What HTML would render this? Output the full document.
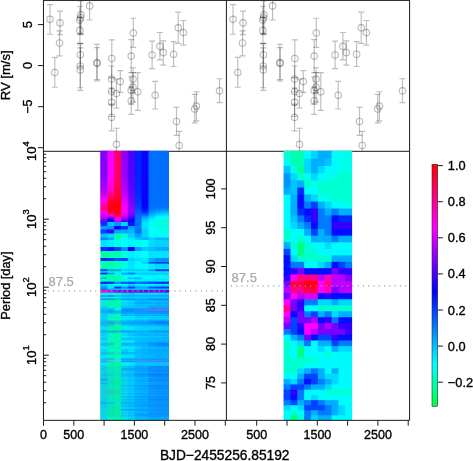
<!DOCTYPE html>
<html><head><meta charset="utf-8"><title>plot</title>
<style>html,body{margin:0;padding:0;background:#fff}svg{display:block}text{font-family:"Liberation Sans",Arial,Helvetica,sans-serif;stroke:#000;stroke-width:.35px}text.g{stroke:#a9a9a9;stroke-width:.25px}</style>
</head><body>
<svg width="473" height="461" viewBox="0 0 473 461">
<rect width="473" height="461" fill="#fff"/>
<defs><linearGradient id="cb" x1="0" y1="0" x2="0" y2="1"><stop offset="0.0000" stop-color="#ff0000"/><stop offset="0.0439" stop-color="#ff002b"/><stop offset="0.0877" stop-color="#ff0055"/><stop offset="0.1316" stop-color="#ff0080"/><stop offset="0.1755" stop-color="#ff00aa"/><stop offset="0.2194" stop-color="#ff00d4"/><stop offset="0.2632" stop-color="#ff00ff"/><stop offset="0.3073" stop-color="#d500ff"/><stop offset="0.3514" stop-color="#aa00ff"/><stop offset="0.3955" stop-color="#8000ff"/><stop offset="0.4395" stop-color="#5500ff"/><stop offset="0.4836" stop-color="#2a00ff"/><stop offset="0.5277" stop-color="#0000ff"/><stop offset="0.5773" stop-color="#002bff"/><stop offset="0.6269" stop-color="#0055ff"/><stop offset="0.6764" stop-color="#0080ff"/><stop offset="0.7260" stop-color="#00aaff"/><stop offset="0.7756" stop-color="#00d4ff"/><stop offset="0.8252" stop-color="#00ffff"/><stop offset="0.8543" stop-color="#00ffdf"/><stop offset="0.8835" stop-color="#00ffbf"/><stop offset="0.9126" stop-color="#00ff9f"/><stop offset="0.9417" stop-color="#00ff80"/><stop offset="0.9709" stop-color="#00ff60"/><stop offset="1" stop-color="#00ff40"/></linearGradient><clipPath id="cpL"><rect x="43.5" y="0.5" width="182.9" height="150.8"/></clipPath><clipPath id="cpR"><rect x="226.4" y="0.5" width="183.2" height="150.8"/></clipPath></defs>
<path d="M43.46 151.30H409.60" stroke="#1a1a1a" stroke-width="1" fill="none"/>
<rect x="283.60" y="150.80" width="7.85" height="8.89" fill="#00ffd0"/>
<rect x="290.45" y="150.80" width="7.85" height="8.89" fill="#00ffb3"/>
<rect x="297.30" y="150.80" width="7.85" height="8.89" fill="#00ffb3"/>
<rect x="304.15" y="150.80" width="7.85" height="8.89" fill="#00fbff"/>
<rect x="311.00" y="150.80" width="7.85" height="8.89" fill="#00d9ff"/>
<rect x="317.85" y="150.80" width="7.85" height="8.89" fill="#00aeff"/>
<rect x="324.70" y="150.80" width="7.85" height="8.89" fill="#00aeff"/>
<rect x="331.55" y="150.80" width="7.85" height="8.89" fill="#00fbff"/>
<rect x="338.40" y="150.80" width="7.85" height="8.89" fill="#00ffea"/>
<rect x="345.25" y="150.80" width="6.85" height="8.89" fill="#00ffea"/>
<rect x="283.60" y="158.69" width="7.85" height="8.32" fill="#00fbff"/>
<rect x="290.45" y="158.69" width="7.85" height="8.32" fill="#00ffb3"/>
<rect x="297.30" y="158.69" width="7.85" height="8.32" fill="#00ffb3"/>
<rect x="304.15" y="158.69" width="7.85" height="8.32" fill="#00d9ff"/>
<rect x="311.00" y="158.69" width="7.85" height="8.32" fill="#00aeff"/>
<rect x="317.85" y="158.69" width="7.85" height="8.32" fill="#00aeff"/>
<rect x="324.70" y="158.69" width="7.85" height="8.32" fill="#00c3ff"/>
<rect x="331.55" y="158.69" width="7.85" height="8.32" fill="#00fbff"/>
<rect x="338.40" y="158.69" width="7.85" height="8.32" fill="#00ffea"/>
<rect x="345.25" y="158.69" width="6.85" height="8.32" fill="#00ffea"/>
<rect x="283.60" y="166.01" width="7.85" height="8.26" fill="#00c3ff"/>
<rect x="290.45" y="166.01" width="7.85" height="8.26" fill="#00ffea"/>
<rect x="297.30" y="166.01" width="7.85" height="8.26" fill="#00ff99"/>
<rect x="304.15" y="166.01" width="7.85" height="8.26" fill="#00d9ff"/>
<rect x="311.00" y="166.01" width="7.85" height="8.26" fill="#00aeff"/>
<rect x="317.85" y="166.01" width="7.85" height="8.26" fill="#00d9ff"/>
<rect x="324.70" y="166.01" width="7.85" height="8.26" fill="#00fbff"/>
<rect x="331.55" y="166.01" width="7.85" height="8.26" fill="#00fbff"/>
<rect x="338.40" y="166.01" width="7.85" height="8.26" fill="#00ffea"/>
<rect x="345.25" y="166.01" width="6.85" height="8.26" fill="#00ffea"/>
<rect x="283.60" y="173.27" width="7.85" height="8.19" fill="#0095ff"/>
<rect x="290.45" y="173.27" width="7.85" height="8.19" fill="#00d9ff"/>
<rect x="297.30" y="173.27" width="7.85" height="8.19" fill="#00ffd0"/>
<rect x="304.15" y="173.27" width="7.85" height="8.19" fill="#00ffea"/>
<rect x="311.00" y="173.27" width="7.85" height="8.19" fill="#00d9ff"/>
<rect x="317.85" y="173.27" width="7.85" height="8.19" fill="#00fbff"/>
<rect x="324.70" y="173.27" width="7.85" height="8.19" fill="#00ffea"/>
<rect x="331.55" y="173.27" width="7.85" height="8.19" fill="#00ffea"/>
<rect x="338.40" y="173.27" width="7.85" height="8.19" fill="#00ffd0"/>
<rect x="345.25" y="173.27" width="6.85" height="8.19" fill="#00ffd0"/>
<rect x="283.60" y="180.46" width="7.85" height="8.13" fill="#0095ff"/>
<rect x="290.45" y="180.46" width="7.85" height="8.13" fill="#00c3ff"/>
<rect x="297.30" y="180.46" width="7.85" height="8.13" fill="#00aeff"/>
<rect x="304.15" y="180.46" width="7.85" height="8.13" fill="#00ffd0"/>
<rect x="311.00" y="180.46" width="7.85" height="8.13" fill="#00ffea"/>
<rect x="317.85" y="180.46" width="7.85" height="8.13" fill="#00ffd0"/>
<rect x="324.70" y="180.46" width="7.85" height="8.13" fill="#00ffd0"/>
<rect x="331.55" y="180.46" width="7.85" height="8.13" fill="#00ffd0"/>
<rect x="338.40" y="180.46" width="7.85" height="8.13" fill="#00ffd0"/>
<rect x="345.25" y="180.46" width="6.85" height="8.13" fill="#00ffd0"/>
<rect x="283.60" y="187.59" width="7.85" height="8.06" fill="#00aeff"/>
<rect x="290.45" y="187.59" width="7.85" height="8.06" fill="#00c3ff"/>
<rect x="297.30" y="187.59" width="7.85" height="8.06" fill="#002bff"/>
<rect x="304.15" y="187.59" width="7.85" height="8.06" fill="#00fbff"/>
<rect x="311.00" y="187.59" width="7.85" height="8.06" fill="#00fbff"/>
<rect x="317.85" y="187.59" width="7.85" height="8.06" fill="#00ffd0"/>
<rect x="324.70" y="187.59" width="7.85" height="8.06" fill="#00ffd0"/>
<rect x="331.55" y="187.59" width="7.85" height="8.06" fill="#00ffd0"/>
<rect x="338.40" y="187.59" width="7.85" height="8.06" fill="#00ffd0"/>
<rect x="345.25" y="187.59" width="6.85" height="8.06" fill="#00ffd0"/>
<rect x="283.60" y="194.65" width="7.85" height="8.00" fill="#00fbff"/>
<rect x="290.45" y="194.65" width="7.85" height="8.00" fill="#00aeff"/>
<rect x="297.30" y="194.65" width="7.85" height="8.00" fill="#000dff"/>
<rect x="304.15" y="194.65" width="7.85" height="8.00" fill="#00aeff"/>
<rect x="311.00" y="194.65" width="7.85" height="8.00" fill="#00d9ff"/>
<rect x="317.85" y="194.65" width="7.85" height="8.00" fill="#00ffea"/>
<rect x="324.70" y="194.65" width="7.85" height="8.00" fill="#00ffea"/>
<rect x="331.55" y="194.65" width="7.85" height="8.00" fill="#00ffd0"/>
<rect x="338.40" y="194.65" width="7.85" height="8.00" fill="#00ffd0"/>
<rect x="345.25" y="194.65" width="6.85" height="8.00" fill="#00ffd0"/>
<rect x="283.60" y="201.65" width="7.85" height="7.93" fill="#00fbff"/>
<rect x="290.45" y="201.65" width="7.85" height="7.93" fill="#00aeff"/>
<rect x="297.30" y="201.65" width="7.85" height="7.93" fill="#000dff"/>
<rect x="304.15" y="201.65" width="7.85" height="7.93" fill="#007bff"/>
<rect x="311.00" y="201.65" width="7.85" height="7.93" fill="#0044ff"/>
<rect x="317.85" y="201.65" width="7.85" height="7.93" fill="#00aeff"/>
<rect x="324.70" y="201.65" width="7.85" height="7.93" fill="#00d9ff"/>
<rect x="331.55" y="201.65" width="7.85" height="7.93" fill="#00fbff"/>
<rect x="338.40" y="201.65" width="7.85" height="7.93" fill="#00fbff"/>
<rect x="345.25" y="201.65" width="6.85" height="7.93" fill="#00ffea"/>
<rect x="283.60" y="208.58" width="7.85" height="7.87" fill="#00fbff"/>
<rect x="290.45" y="208.58" width="7.85" height="7.87" fill="#00aeff"/>
<rect x="297.30" y="208.58" width="7.85" height="7.87" fill="#002bff"/>
<rect x="304.15" y="208.58" width="7.85" height="7.87" fill="#000dff"/>
<rect x="311.00" y="208.58" width="7.85" height="7.87" fill="#3300ff"/>
<rect x="317.85" y="208.58" width="7.85" height="7.87" fill="#007bff"/>
<rect x="324.70" y="208.58" width="7.85" height="7.87" fill="#00aeff"/>
<rect x="331.55" y="208.58" width="7.85" height="7.87" fill="#007bff"/>
<rect x="338.40" y="208.58" width="7.85" height="7.87" fill="#00aeff"/>
<rect x="345.25" y="208.58" width="6.85" height="7.87" fill="#00aeff"/>
<rect x="283.60" y="215.45" width="7.85" height="7.81" fill="#00fbff"/>
<rect x="290.45" y="215.45" width="7.85" height="7.81" fill="#00c3ff"/>
<rect x="297.30" y="215.45" width="7.85" height="7.81" fill="#007bff"/>
<rect x="304.15" y="215.45" width="7.85" height="7.81" fill="#002bff"/>
<rect x="311.00" y="215.45" width="7.85" height="7.81" fill="#3300ff"/>
<rect x="317.85" y="215.45" width="7.85" height="7.81" fill="#007bff"/>
<rect x="324.70" y="215.45" width="7.85" height="7.81" fill="#007bff"/>
<rect x="331.55" y="215.45" width="7.85" height="7.81" fill="#000dff"/>
<rect x="338.40" y="215.45" width="7.85" height="7.81" fill="#002bff"/>
<rect x="345.25" y="215.45" width="6.85" height="7.81" fill="#002bff"/>
<rect x="283.60" y="222.26" width="7.85" height="7.75" fill="#00fbff"/>
<rect x="290.45" y="222.26" width="7.85" height="7.75" fill="#00d9ff"/>
<rect x="297.30" y="222.26" width="7.85" height="7.75" fill="#00aeff"/>
<rect x="304.15" y="222.26" width="7.85" height="7.75" fill="#007bff"/>
<rect x="311.00" y="222.26" width="7.85" height="7.75" fill="#000dff"/>
<rect x="317.85" y="222.26" width="7.85" height="7.75" fill="#007bff"/>
<rect x="324.70" y="222.26" width="7.85" height="7.75" fill="#007bff"/>
<rect x="331.55" y="222.26" width="7.85" height="7.75" fill="#3300ff"/>
<rect x="338.40" y="222.26" width="7.85" height="7.75" fill="#3300ff"/>
<rect x="345.25" y="222.26" width="6.85" height="7.75" fill="#3300ff"/>
<rect x="283.60" y="229.00" width="7.85" height="7.68" fill="#00ffd0"/>
<rect x="290.45" y="229.00" width="7.85" height="7.68" fill="#00fbff"/>
<rect x="297.30" y="229.00" width="7.85" height="7.68" fill="#00fbff"/>
<rect x="304.15" y="229.00" width="7.85" height="7.68" fill="#00aeff"/>
<rect x="311.00" y="229.00" width="7.85" height="7.68" fill="#0044ff"/>
<rect x="317.85" y="229.00" width="7.85" height="7.68" fill="#00aeff"/>
<rect x="324.70" y="229.00" width="7.85" height="7.68" fill="#007bff"/>
<rect x="331.55" y="229.00" width="7.85" height="7.68" fill="#000dff"/>
<rect x="338.40" y="229.00" width="7.85" height="7.68" fill="#000dff"/>
<rect x="345.25" y="229.00" width="6.85" height="7.68" fill="#000dff"/>
<rect x="283.60" y="235.69" width="7.85" height="7.62" fill="#00ffd0"/>
<rect x="290.45" y="235.69" width="7.85" height="7.62" fill="#00fbff"/>
<rect x="297.30" y="235.69" width="7.85" height="7.62" fill="#00ffd0"/>
<rect x="304.15" y="235.69" width="7.85" height="7.62" fill="#00fbff"/>
<rect x="311.00" y="235.69" width="7.85" height="7.62" fill="#00aeff"/>
<rect x="317.85" y="235.69" width="7.85" height="7.62" fill="#00aeff"/>
<rect x="324.70" y="235.69" width="7.85" height="7.62" fill="#00aeff"/>
<rect x="331.55" y="235.69" width="7.85" height="7.62" fill="#007bff"/>
<rect x="338.40" y="235.69" width="7.85" height="7.62" fill="#00aeff"/>
<rect x="345.25" y="235.69" width="6.85" height="7.62" fill="#00aeff"/>
<rect x="283.60" y="242.31" width="7.85" height="7.56" fill="#00aeff"/>
<rect x="290.45" y="242.31" width="7.85" height="7.56" fill="#00ffd0"/>
<rect x="297.30" y="242.31" width="7.85" height="7.56" fill="#00ff80"/>
<rect x="304.15" y="242.31" width="7.85" height="7.56" fill="#00ffd0"/>
<rect x="311.00" y="242.31" width="7.85" height="7.56" fill="#00fbff"/>
<rect x="317.85" y="242.31" width="7.85" height="7.56" fill="#00fbff"/>
<rect x="324.70" y="242.31" width="7.85" height="7.56" fill="#00d9ff"/>
<rect x="331.55" y="242.31" width="7.85" height="7.56" fill="#00fbff"/>
<rect x="338.40" y="242.31" width="7.85" height="7.56" fill="#00fbff"/>
<rect x="345.25" y="242.31" width="6.85" height="7.56" fill="#00fbff"/>
<rect x="283.60" y="248.88" width="7.85" height="7.50" fill="#0044ff"/>
<rect x="290.45" y="248.88" width="7.85" height="7.50" fill="#00fbff"/>
<rect x="297.30" y="248.88" width="7.85" height="7.50" fill="#00ff80"/>
<rect x="304.15" y="248.88" width="7.85" height="7.50" fill="#00ffd0"/>
<rect x="311.00" y="248.88" width="7.85" height="7.50" fill="#00ffd0"/>
<rect x="317.85" y="248.88" width="7.85" height="7.50" fill="#00fbff"/>
<rect x="324.70" y="248.88" width="7.85" height="7.50" fill="#00fbff"/>
<rect x="331.55" y="248.88" width="7.85" height="7.50" fill="#00fbff"/>
<rect x="338.40" y="248.88" width="7.85" height="7.50" fill="#00fbff"/>
<rect x="345.25" y="248.88" width="6.85" height="7.50" fill="#00fbff"/>
<rect x="283.60" y="255.38" width="7.85" height="7.45" fill="#000dff"/>
<rect x="290.45" y="255.38" width="7.85" height="7.45" fill="#00d9ff"/>
<rect x="297.30" y="255.38" width="7.85" height="7.45" fill="#00ffd0"/>
<rect x="304.15" y="255.38" width="7.85" height="7.45" fill="#00ffd0"/>
<rect x="311.00" y="255.38" width="7.85" height="7.45" fill="#00ffd0"/>
<rect x="317.85" y="255.38" width="7.85" height="7.45" fill="#00ffd0"/>
<rect x="324.70" y="255.38" width="7.85" height="7.45" fill="#00ffd0"/>
<rect x="331.55" y="255.38" width="7.85" height="7.45" fill="#00aeff"/>
<rect x="338.40" y="255.38" width="7.85" height="7.45" fill="#00aeff"/>
<rect x="345.25" y="255.38" width="6.85" height="7.45" fill="#00aeff"/>
<rect x="283.60" y="261.83" width="7.85" height="7.39" fill="#000dff"/>
<rect x="290.45" y="261.83" width="7.85" height="7.39" fill="#007bff"/>
<rect x="297.30" y="261.83" width="7.85" height="7.39" fill="#007bff"/>
<rect x="304.15" y="261.83" width="7.85" height="7.39" fill="#00fbff"/>
<rect x="311.00" y="261.83" width="7.85" height="7.39" fill="#00fbff"/>
<rect x="317.85" y="261.83" width="7.85" height="7.39" fill="#00d9ff"/>
<rect x="324.70" y="261.83" width="7.85" height="7.39" fill="#00aeff"/>
<rect x="331.55" y="261.83" width="7.85" height="7.39" fill="#000dff"/>
<rect x="338.40" y="261.83" width="7.85" height="7.39" fill="#0044ff"/>
<rect x="345.25" y="261.83" width="6.85" height="7.39" fill="#007bff"/>
<rect x="283.60" y="268.21" width="7.85" height="7.33" fill="#000dff"/>
<rect x="290.45" y="268.21" width="7.85" height="7.33" fill="#3300ff"/>
<rect x="297.30" y="268.21" width="7.85" height="7.33" fill="#7700ff"/>
<rect x="304.15" y="268.21" width="7.85" height="7.33" fill="#000dff"/>
<rect x="311.00" y="268.21" width="7.85" height="7.33" fill="#000dff"/>
<rect x="317.85" y="268.21" width="7.85" height="7.33" fill="#000dff"/>
<rect x="324.70" y="268.21" width="7.85" height="7.33" fill="#000dff"/>
<rect x="331.55" y="268.21" width="7.85" height="7.33" fill="#7700ff"/>
<rect x="338.40" y="268.21" width="7.85" height="7.33" fill="#3300ff"/>
<rect x="345.25" y="268.21" width="6.85" height="7.33" fill="#3300ff"/>
<rect x="283.60" y="274.54" width="7.85" height="7.27" fill="#3300ff"/>
<rect x="290.45" y="274.54" width="7.85" height="7.27" fill="#ff00ff"/>
<rect x="297.30" y="274.54" width="7.85" height="7.27" fill="#ff0088"/>
<rect x="304.15" y="274.54" width="7.85" height="7.27" fill="#ff0088"/>
<rect x="311.00" y="274.54" width="7.85" height="7.27" fill="#ff0088"/>
<rect x="317.85" y="274.54" width="7.85" height="7.27" fill="#bb00ff"/>
<rect x="324.70" y="274.54" width="7.85" height="7.27" fill="#ff00c3"/>
<rect x="331.55" y="274.54" width="7.85" height="7.27" fill="#bb00ff"/>
<rect x="338.40" y="274.54" width="7.85" height="7.27" fill="#bb00ff"/>
<rect x="345.25" y="274.54" width="6.85" height="7.27" fill="#7700ff"/>
<rect x="283.60" y="280.81" width="7.85" height="7.21" fill="#7700ff"/>
<rect x="290.45" y="280.81" width="7.85" height="7.21" fill="#ff0048"/>
<rect x="297.30" y="280.81" width="7.85" height="7.21" fill="#ff0048"/>
<rect x="304.15" y="280.81" width="7.85" height="7.21" fill="#ff000d"/>
<rect x="311.00" y="280.81" width="7.85" height="7.21" fill="#ff000d"/>
<rect x="317.85" y="280.81" width="7.85" height="7.21" fill="#ff00ff"/>
<rect x="324.70" y="280.81" width="7.85" height="7.21" fill="#ff0088"/>
<rect x="331.55" y="280.81" width="7.85" height="7.21" fill="#bb00ff"/>
<rect x="338.40" y="280.81" width="7.85" height="7.21" fill="#bb00ff"/>
<rect x="345.25" y="280.81" width="6.85" height="7.21" fill="#bb00ff"/>
<rect x="283.60" y="287.03" width="7.85" height="7.16" fill="#bb00ff"/>
<rect x="290.45" y="287.03" width="7.85" height="7.16" fill="#ff0088"/>
<rect x="297.30" y="287.03" width="7.85" height="7.16" fill="#ff0088"/>
<rect x="304.15" y="287.03" width="7.85" height="7.16" fill="#ff0048"/>
<rect x="311.00" y="287.03" width="7.85" height="7.16" fill="#ff0048"/>
<rect x="317.85" y="287.03" width="7.85" height="7.16" fill="#ff00ff"/>
<rect x="324.70" y="287.03" width="7.85" height="7.16" fill="#ff00c3"/>
<rect x="331.55" y="287.03" width="7.85" height="7.16" fill="#7700ff"/>
<rect x="338.40" y="287.03" width="7.85" height="7.16" fill="#bb00ff"/>
<rect x="345.25" y="287.03" width="6.85" height="7.16" fill="#bb00ff"/>
<rect x="283.60" y="293.18" width="7.85" height="7.10" fill="#7700ff"/>
<rect x="290.45" y="293.18" width="7.85" height="7.10" fill="#ff00ff"/>
<rect x="297.30" y="293.18" width="7.85" height="7.10" fill="#bb00ff"/>
<rect x="304.15" y="293.18" width="7.85" height="7.10" fill="#dd00ff"/>
<rect x="311.00" y="293.18" width="7.85" height="7.10" fill="#dd00ff"/>
<rect x="317.85" y="293.18" width="7.85" height="7.10" fill="#000dff"/>
<rect x="324.70" y="293.18" width="7.85" height="7.10" fill="#3300ff"/>
<rect x="331.55" y="293.18" width="7.85" height="7.10" fill="#000dff"/>
<rect x="338.40" y="293.18" width="7.85" height="7.10" fill="#000dff"/>
<rect x="345.25" y="293.18" width="6.85" height="7.10" fill="#000dff"/>
<rect x="283.60" y="299.29" width="7.85" height="7.05" fill="#ff00ff"/>
<rect x="290.45" y="299.29" width="7.85" height="7.05" fill="#7700ff"/>
<rect x="297.30" y="299.29" width="7.85" height="7.05" fill="#3300ff"/>
<rect x="304.15" y="299.29" width="7.85" height="7.05" fill="#007bff"/>
<rect x="311.00" y="299.29" width="7.85" height="7.05" fill="#007bff"/>
<rect x="317.85" y="299.29" width="7.85" height="7.05" fill="#00d9ff"/>
<rect x="324.70" y="299.29" width="7.85" height="7.05" fill="#00d9ff"/>
<rect x="331.55" y="299.29" width="7.85" height="7.05" fill="#00aeff"/>
<rect x="338.40" y="299.29" width="7.85" height="7.05" fill="#00d9ff"/>
<rect x="345.25" y="299.29" width="6.85" height="7.05" fill="#00d9ff"/>
<rect x="283.60" y="305.33" width="7.85" height="6.99" fill="#ff0088"/>
<rect x="290.45" y="305.33" width="7.85" height="6.99" fill="#7700ff"/>
<rect x="297.30" y="305.33" width="7.85" height="6.99" fill="#3300ff"/>
<rect x="304.15" y="305.33" width="7.85" height="6.99" fill="#00fbff"/>
<rect x="311.00" y="305.33" width="7.85" height="6.99" fill="#00fbff"/>
<rect x="317.85" y="305.33" width="7.85" height="6.99" fill="#00ffd0"/>
<rect x="324.70" y="305.33" width="7.85" height="6.99" fill="#00ffd0"/>
<rect x="331.55" y="305.33" width="7.85" height="6.99" fill="#00ffd0"/>
<rect x="338.40" y="305.33" width="7.85" height="6.99" fill="#00ffd0"/>
<rect x="345.25" y="305.33" width="6.85" height="6.99" fill="#00ffd0"/>
<rect x="283.60" y="311.32" width="7.85" height="6.94" fill="#ff00ff"/>
<rect x="290.45" y="311.32" width="7.85" height="6.94" fill="#000dff"/>
<rect x="297.30" y="311.32" width="7.85" height="6.94" fill="#7700ff"/>
<rect x="304.15" y="311.32" width="7.85" height="6.94" fill="#007bff"/>
<rect x="311.00" y="311.32" width="7.85" height="6.94" fill="#0044ff"/>
<rect x="317.85" y="311.32" width="7.85" height="6.94" fill="#00aeff"/>
<rect x="324.70" y="311.32" width="7.85" height="6.94" fill="#007bff"/>
<rect x="331.55" y="311.32" width="7.85" height="6.94" fill="#00d9ff"/>
<rect x="338.40" y="311.32" width="7.85" height="6.94" fill="#00aeff"/>
<rect x="345.25" y="311.32" width="6.85" height="6.94" fill="#00aeff"/>
<rect x="283.60" y="317.26" width="7.85" height="6.88" fill="#bb00ff"/>
<rect x="290.45" y="317.26" width="7.85" height="6.88" fill="#0044ff"/>
<rect x="297.30" y="317.26" width="7.85" height="6.88" fill="#7700ff"/>
<rect x="304.15" y="317.26" width="7.85" height="6.88" fill="#7700ff"/>
<rect x="311.00" y="317.26" width="7.85" height="6.88" fill="#bb00ff"/>
<rect x="317.85" y="317.26" width="7.85" height="6.88" fill="#000dff"/>
<rect x="324.70" y="317.26" width="7.85" height="6.88" fill="#3300ff"/>
<rect x="331.55" y="317.26" width="7.85" height="6.88" fill="#007bff"/>
<rect x="338.40" y="317.26" width="7.85" height="6.88" fill="#000dff"/>
<rect x="345.25" y="317.26" width="6.85" height="6.88" fill="#000dff"/>
<rect x="283.60" y="323.14" width="7.85" height="6.83" fill="#7700ff"/>
<rect x="290.45" y="323.14" width="7.85" height="6.83" fill="#0044ff"/>
<rect x="297.30" y="323.14" width="7.85" height="6.83" fill="#3300ff"/>
<rect x="304.15" y="323.14" width="7.85" height="6.83" fill="#ff00ff"/>
<rect x="311.00" y="323.14" width="7.85" height="6.83" fill="#ff00ff"/>
<rect x="317.85" y="323.14" width="7.85" height="6.83" fill="#7700ff"/>
<rect x="324.70" y="323.14" width="7.85" height="6.83" fill="#bb00ff"/>
<rect x="331.55" y="323.14" width="7.85" height="6.83" fill="#7700ff"/>
<rect x="338.40" y="323.14" width="7.85" height="6.83" fill="#3300ff"/>
<rect x="345.25" y="323.14" width="6.85" height="6.83" fill="#3300ff"/>
<rect x="283.60" y="328.97" width="7.85" height="6.78" fill="#007bff"/>
<rect x="290.45" y="328.97" width="7.85" height="6.78" fill="#0044ff"/>
<rect x="297.30" y="328.97" width="7.85" height="6.78" fill="#000dff"/>
<rect x="304.15" y="328.97" width="7.85" height="6.78" fill="#ff00ff"/>
<rect x="311.00" y="328.97" width="7.85" height="6.78" fill="#bb00ff"/>
<rect x="317.85" y="328.97" width="7.85" height="6.78" fill="#7700ff"/>
<rect x="324.70" y="328.97" width="7.85" height="6.78" fill="#7700ff"/>
<rect x="331.55" y="328.97" width="7.85" height="6.78" fill="#7700ff"/>
<rect x="338.40" y="328.97" width="7.85" height="6.78" fill="#7700ff"/>
<rect x="345.25" y="328.97" width="6.85" height="6.78" fill="#3300ff"/>
<rect x="283.60" y="334.75" width="7.85" height="6.72" fill="#00fbff"/>
<rect x="290.45" y="334.75" width="7.85" height="6.72" fill="#00aeff"/>
<rect x="297.30" y="334.75" width="7.85" height="6.72" fill="#007bff"/>
<rect x="304.15" y="334.75" width="7.85" height="6.72" fill="#7700ff"/>
<rect x="311.00" y="334.75" width="7.85" height="6.72" fill="#000dff"/>
<rect x="317.85" y="334.75" width="7.85" height="6.72" fill="#0044ff"/>
<rect x="324.70" y="334.75" width="7.85" height="6.72" fill="#0044ff"/>
<rect x="331.55" y="334.75" width="7.85" height="6.72" fill="#3300ff"/>
<rect x="338.40" y="334.75" width="7.85" height="6.72" fill="#000dff"/>
<rect x="345.25" y="334.75" width="6.85" height="6.72" fill="#000dff"/>
<rect x="283.60" y="340.48" width="7.85" height="6.67" fill="#00ffd0"/>
<rect x="290.45" y="340.48" width="7.85" height="6.67" fill="#00fbff"/>
<rect x="297.30" y="340.48" width="7.85" height="6.67" fill="#00d9ff"/>
<rect x="304.15" y="340.48" width="7.85" height="6.67" fill="#007bff"/>
<rect x="311.00" y="340.48" width="7.85" height="6.67" fill="#00fbff"/>
<rect x="317.85" y="340.48" width="7.85" height="6.67" fill="#00aeff"/>
<rect x="324.70" y="340.48" width="7.85" height="6.67" fill="#00aeff"/>
<rect x="331.55" y="340.48" width="7.85" height="6.67" fill="#0044ff"/>
<rect x="338.40" y="340.48" width="7.85" height="6.67" fill="#007bff"/>
<rect x="345.25" y="340.48" width="6.85" height="6.67" fill="#007bff"/>
<rect x="283.60" y="346.15" width="7.85" height="6.62" fill="#00ffd0"/>
<rect x="290.45" y="346.15" width="7.85" height="6.62" fill="#00fbff"/>
<rect x="297.30" y="346.15" width="7.85" height="6.62" fill="#00ff80"/>
<rect x="304.15" y="346.15" width="7.85" height="6.62" fill="#00fbff"/>
<rect x="311.00" y="346.15" width="7.85" height="6.62" fill="#00fbff"/>
<rect x="317.85" y="346.15" width="7.85" height="6.62" fill="#00d9ff"/>
<rect x="324.70" y="346.15" width="7.85" height="6.62" fill="#00fbff"/>
<rect x="331.55" y="346.15" width="7.85" height="6.62" fill="#00aeff"/>
<rect x="338.40" y="346.15" width="7.85" height="6.62" fill="#00d9ff"/>
<rect x="345.25" y="346.15" width="6.85" height="6.62" fill="#00d9ff"/>
<rect x="283.60" y="351.77" width="7.85" height="6.57" fill="#00ffd0"/>
<rect x="290.45" y="351.77" width="7.85" height="6.57" fill="#00fbff"/>
<rect x="297.30" y="351.77" width="7.85" height="6.57" fill="#00ff80"/>
<rect x="304.15" y="351.77" width="7.85" height="6.57" fill="#00fbff"/>
<rect x="311.00" y="351.77" width="7.85" height="6.57" fill="#00fbff"/>
<rect x="317.85" y="351.77" width="7.85" height="6.57" fill="#00fbff"/>
<rect x="324.70" y="351.77" width="7.85" height="6.57" fill="#00ffd0"/>
<rect x="331.55" y="351.77" width="7.85" height="6.57" fill="#00fbff"/>
<rect x="338.40" y="351.77" width="7.85" height="6.57" fill="#00fbff"/>
<rect x="345.25" y="351.77" width="6.85" height="6.57" fill="#00fbff"/>
<rect x="283.60" y="357.34" width="7.85" height="6.52" fill="#00ffd0"/>
<rect x="290.45" y="357.34" width="7.85" height="6.52" fill="#00ffd0"/>
<rect x="297.30" y="357.34" width="7.85" height="6.52" fill="#00ffd0"/>
<rect x="304.15" y="357.34" width="7.85" height="6.52" fill="#00ffd0"/>
<rect x="311.00" y="357.34" width="7.85" height="6.52" fill="#00ffd0"/>
<rect x="317.85" y="357.34" width="7.85" height="6.52" fill="#00fbff"/>
<rect x="324.70" y="357.34" width="7.85" height="6.52" fill="#00fbff"/>
<rect x="331.55" y="357.34" width="7.85" height="6.52" fill="#00fbff"/>
<rect x="338.40" y="357.34" width="7.85" height="6.52" fill="#00fbff"/>
<rect x="345.25" y="357.34" width="6.85" height="6.52" fill="#00fbff"/>
<rect x="283.60" y="362.86" width="7.85" height="6.47" fill="#00ffd0"/>
<rect x="290.45" y="362.86" width="7.85" height="6.47" fill="#00ffd0"/>
<rect x="297.30" y="362.86" width="7.85" height="6.47" fill="#00ffd0"/>
<rect x="304.15" y="362.86" width="7.85" height="6.47" fill="#00fbff"/>
<rect x="311.00" y="362.86" width="7.85" height="6.47" fill="#00fbff"/>
<rect x="317.85" y="362.86" width="7.85" height="6.47" fill="#00fbff"/>
<rect x="324.70" y="362.86" width="7.85" height="6.47" fill="#00fbff"/>
<rect x="331.55" y="362.86" width="7.85" height="6.47" fill="#00fbff"/>
<rect x="338.40" y="362.86" width="7.85" height="6.47" fill="#00fbff"/>
<rect x="345.25" y="362.86" width="6.85" height="6.47" fill="#00fbff"/>
<rect x="283.60" y="368.33" width="7.85" height="6.42" fill="#00ffd0"/>
<rect x="290.45" y="368.33" width="7.85" height="6.42" fill="#00ffd0"/>
<rect x="297.30" y="368.33" width="7.85" height="6.42" fill="#00d9ff"/>
<rect x="304.15" y="368.33" width="7.85" height="6.42" fill="#00aeff"/>
<rect x="311.00" y="368.33" width="7.85" height="6.42" fill="#007bff"/>
<rect x="317.85" y="368.33" width="7.85" height="6.42" fill="#00aeff"/>
<rect x="324.70" y="368.33" width="7.85" height="6.42" fill="#00fbff"/>
<rect x="331.55" y="368.33" width="7.85" height="6.42" fill="#00aeff"/>
<rect x="338.40" y="368.33" width="7.85" height="6.42" fill="#00fbff"/>
<rect x="345.25" y="368.33" width="6.85" height="6.42" fill="#00fbff"/>
<rect x="283.60" y="373.75" width="7.85" height="6.37" fill="#00fbff"/>
<rect x="290.45" y="373.75" width="7.85" height="6.37" fill="#00fbff"/>
<rect x="297.30" y="373.75" width="7.85" height="6.37" fill="#00aeff"/>
<rect x="304.15" y="373.75" width="7.85" height="6.37" fill="#0044ff"/>
<rect x="311.00" y="373.75" width="7.85" height="6.37" fill="#0044ff"/>
<rect x="317.85" y="373.75" width="7.85" height="6.37" fill="#00aeff"/>
<rect x="324.70" y="373.75" width="7.85" height="6.37" fill="#00d9ff"/>
<rect x="331.55" y="373.75" width="7.85" height="6.37" fill="#00d9ff"/>
<rect x="338.40" y="373.75" width="7.85" height="6.37" fill="#00fbff"/>
<rect x="345.25" y="373.75" width="6.85" height="6.37" fill="#00fbff"/>
<rect x="283.60" y="379.12" width="7.85" height="6.32" fill="#00aeff"/>
<rect x="290.45" y="379.12" width="7.85" height="6.32" fill="#00d9ff"/>
<rect x="297.30" y="379.12" width="7.85" height="6.32" fill="#007bff"/>
<rect x="304.15" y="379.12" width="7.85" height="6.32" fill="#000dff"/>
<rect x="311.00" y="379.12" width="7.85" height="6.32" fill="#0044ff"/>
<rect x="317.85" y="379.12" width="7.85" height="6.32" fill="#007bff"/>
<rect x="324.70" y="379.12" width="7.85" height="6.32" fill="#00aeff"/>
<rect x="331.55" y="379.12" width="7.85" height="6.32" fill="#00d9ff"/>
<rect x="338.40" y="379.12" width="7.85" height="6.32" fill="#00fbff"/>
<rect x="345.25" y="379.12" width="6.85" height="6.32" fill="#00fbff"/>
<rect x="283.60" y="384.44" width="7.85" height="6.27" fill="#007bff"/>
<rect x="290.45" y="384.44" width="7.85" height="6.27" fill="#0044ff"/>
<rect x="297.30" y="384.44" width="7.85" height="6.27" fill="#0044ff"/>
<rect x="304.15" y="384.44" width="7.85" height="6.27" fill="#007bff"/>
<rect x="311.00" y="384.44" width="7.85" height="6.27" fill="#00aeff"/>
<rect x="317.85" y="384.44" width="7.85" height="6.27" fill="#00aeff"/>
<rect x="324.70" y="384.44" width="7.85" height="6.27" fill="#00d9ff"/>
<rect x="331.55" y="384.44" width="7.85" height="6.27" fill="#00fbff"/>
<rect x="338.40" y="384.44" width="7.85" height="6.27" fill="#00fbff"/>
<rect x="345.25" y="384.44" width="6.85" height="6.27" fill="#00fbff"/>
<rect x="283.60" y="389.71" width="7.85" height="6.23" fill="#0044ff"/>
<rect x="290.45" y="389.71" width="7.85" height="6.23" fill="#3300ff"/>
<rect x="297.30" y="389.71" width="7.85" height="6.23" fill="#007bff"/>
<rect x="304.15" y="389.71" width="7.85" height="6.23" fill="#00fbff"/>
<rect x="311.00" y="389.71" width="7.85" height="6.23" fill="#00fbff"/>
<rect x="317.85" y="389.71" width="7.85" height="6.23" fill="#00fbff"/>
<rect x="324.70" y="389.71" width="7.85" height="6.23" fill="#00ffd0"/>
<rect x="331.55" y="389.71" width="7.85" height="6.23" fill="#00ffd0"/>
<rect x="338.40" y="389.71" width="7.85" height="6.23" fill="#00ffd0"/>
<rect x="345.25" y="389.71" width="6.85" height="6.23" fill="#00ffd0"/>
<rect x="283.60" y="394.94" width="7.85" height="6.18" fill="#0044ff"/>
<rect x="290.45" y="394.94" width="7.85" height="6.18" fill="#000dff"/>
<rect x="297.30" y="394.94" width="7.85" height="6.18" fill="#007bff"/>
<rect x="304.15" y="394.94" width="7.85" height="6.18" fill="#00fbff"/>
<rect x="311.00" y="394.94" width="7.85" height="6.18" fill="#00d9ff"/>
<rect x="317.85" y="394.94" width="7.85" height="6.18" fill="#00fbff"/>
<rect x="324.70" y="394.94" width="7.85" height="6.18" fill="#00fbff"/>
<rect x="331.55" y="394.94" width="7.85" height="6.18" fill="#00fbff"/>
<rect x="338.40" y="394.94" width="7.85" height="6.18" fill="#00fbff"/>
<rect x="345.25" y="394.94" width="6.85" height="6.18" fill="#00fbff"/>
<rect x="283.60" y="400.11" width="7.85" height="6.13" fill="#007bff"/>
<rect x="290.45" y="400.11" width="7.85" height="6.13" fill="#0044ff"/>
<rect x="297.30" y="400.11" width="7.85" height="6.13" fill="#00aeff"/>
<rect x="304.15" y="400.11" width="7.85" height="6.13" fill="#007bff"/>
<rect x="311.00" y="400.11" width="7.85" height="6.13" fill="#0044ff"/>
<rect x="317.85" y="400.11" width="7.85" height="6.13" fill="#007bff"/>
<rect x="324.70" y="400.11" width="7.85" height="6.13" fill="#00aeff"/>
<rect x="331.55" y="400.11" width="7.85" height="6.13" fill="#00aeff"/>
<rect x="338.40" y="400.11" width="7.85" height="6.13" fill="#00fbff"/>
<rect x="345.25" y="400.11" width="6.85" height="6.13" fill="#00fbff"/>
<rect x="283.60" y="405.24" width="7.85" height="6.08" fill="#00d9ff"/>
<rect x="290.45" y="405.24" width="7.85" height="6.08" fill="#00fbff"/>
<rect x="297.30" y="405.24" width="7.85" height="6.08" fill="#00d9ff"/>
<rect x="304.15" y="405.24" width="7.85" height="6.08" fill="#0044ff"/>
<rect x="311.00" y="405.24" width="7.85" height="6.08" fill="#0044ff"/>
<rect x="317.85" y="405.24" width="7.85" height="6.08" fill="#0044ff"/>
<rect x="324.70" y="405.24" width="7.85" height="6.08" fill="#007bff"/>
<rect x="331.55" y="405.24" width="7.85" height="6.08" fill="#00aeff"/>
<rect x="338.40" y="405.24" width="7.85" height="6.08" fill="#00d9ff"/>
<rect x="345.25" y="405.24" width="6.85" height="6.08" fill="#00fbff"/>
<rect x="283.60" y="410.33" width="7.85" height="6.04" fill="#00fbff"/>
<rect x="290.45" y="410.33" width="7.85" height="6.04" fill="#00ffd0"/>
<rect x="297.30" y="410.33" width="7.85" height="6.04" fill="#00fbff"/>
<rect x="304.15" y="410.33" width="7.85" height="6.04" fill="#007bff"/>
<rect x="311.00" y="410.33" width="7.85" height="6.04" fill="#00aeff"/>
<rect x="317.85" y="410.33" width="7.85" height="6.04" fill="#007bff"/>
<rect x="324.70" y="410.33" width="7.85" height="6.04" fill="#007bff"/>
<rect x="331.55" y="410.33" width="7.85" height="6.04" fill="#00aeff"/>
<rect x="338.40" y="410.33" width="7.85" height="6.04" fill="#00d9ff"/>
<rect x="345.25" y="410.33" width="6.85" height="6.04" fill="#00fbff"/>
<rect x="283.60" y="415.36" width="7.85" height="4.99" fill="#00fbff"/>
<rect x="290.45" y="415.36" width="7.85" height="4.99" fill="#00ff80"/>
<rect x="297.30" y="415.36" width="7.85" height="4.99" fill="#00ffd0"/>
<rect x="304.15" y="415.36" width="7.85" height="4.99" fill="#007bff"/>
<rect x="311.00" y="415.36" width="7.85" height="4.99" fill="#00d9ff"/>
<rect x="317.85" y="415.36" width="7.85" height="4.99" fill="#00aeff"/>
<rect x="324.70" y="415.36" width="7.85" height="4.99" fill="#00aeff"/>
<rect x="331.55" y="415.36" width="7.85" height="4.99" fill="#00fbff"/>
<rect x="338.40" y="415.36" width="7.85" height="4.99" fill="#00fbff"/>
<rect x="345.25" y="415.36" width="6.85" height="4.99" fill="#00fbff"/>
<rect x="100.46" y="150.80" width="7.85" height="2.00" fill="#8000ff"/>
<rect x="107.31" y="150.80" width="7.85" height="2.00" fill="#f700ff"/>
<rect x="114.16" y="150.80" width="7.85" height="2.00" fill="#ff005e"/>
<rect x="121.01" y="150.80" width="7.85" height="2.00" fill="#9100ff"/>
<rect x="127.86" y="150.80" width="7.85" height="2.00" fill="#4d00ff"/>
<rect x="134.71" y="150.80" width="7.85" height="2.00" fill="#0022ff"/>
<rect x="141.56" y="150.80" width="7.85" height="2.00" fill="#0d00ff"/>
<rect x="148.41" y="150.80" width="7.85" height="2.00" fill="#006fff"/>
<rect x="155.26" y="150.80" width="7.85" height="2.00" fill="#006fff"/>
<rect x="162.11" y="150.80" width="6.85" height="2.00" fill="#006fff"/>
<rect x="100.46" y="151.80" width="7.85" height="2.00" fill="#8000ff"/>
<rect x="107.31" y="151.80" width="7.85" height="2.00" fill="#f700ff"/>
<rect x="114.16" y="151.80" width="7.85" height="2.00" fill="#ff005e"/>
<rect x="121.01" y="151.80" width="7.85" height="2.00" fill="#9100ff"/>
<rect x="127.86" y="151.80" width="7.85" height="2.00" fill="#4d00ff"/>
<rect x="134.71" y="151.80" width="7.85" height="2.00" fill="#0022ff"/>
<rect x="141.56" y="151.80" width="7.85" height="2.00" fill="#0d00ff"/>
<rect x="148.41" y="151.80" width="7.85" height="2.00" fill="#006fff"/>
<rect x="155.26" y="151.80" width="7.85" height="2.00" fill="#006fff"/>
<rect x="162.11" y="151.80" width="6.85" height="2.00" fill="#006fff"/>
<rect x="100.46" y="152.80" width="7.85" height="2.00" fill="#8000ff"/>
<rect x="107.31" y="152.80" width="7.85" height="2.00" fill="#f700ff"/>
<rect x="114.16" y="152.80" width="7.85" height="2.00" fill="#ff005e"/>
<rect x="121.01" y="152.80" width="7.85" height="2.00" fill="#9100ff"/>
<rect x="127.86" y="152.80" width="7.85" height="2.00" fill="#4d00ff"/>
<rect x="134.71" y="152.80" width="7.85" height="2.00" fill="#0022ff"/>
<rect x="141.56" y="152.80" width="7.85" height="2.00" fill="#0d00ff"/>
<rect x="148.41" y="152.80" width="7.85" height="2.00" fill="#006fff"/>
<rect x="155.26" y="152.80" width="7.85" height="2.00" fill="#006fff"/>
<rect x="162.11" y="152.80" width="6.85" height="2.00" fill="#006fff"/>
<rect x="100.46" y="153.80" width="7.85" height="2.00" fill="#8100ff"/>
<rect x="107.31" y="153.80" width="7.85" height="2.00" fill="#f700ff"/>
<rect x="114.16" y="153.80" width="7.85" height="2.00" fill="#ff005e"/>
<rect x="121.01" y="153.80" width="7.85" height="2.00" fill="#9200ff"/>
<rect x="127.86" y="153.80" width="7.85" height="2.00" fill="#4d00ff"/>
<rect x="134.71" y="153.80" width="7.85" height="2.00" fill="#0022ff"/>
<rect x="141.56" y="153.80" width="7.85" height="2.00" fill="#0d00ff"/>
<rect x="148.41" y="153.80" width="7.85" height="2.00" fill="#006fff"/>
<rect x="155.26" y="153.80" width="7.85" height="2.00" fill="#006fff"/>
<rect x="162.11" y="153.80" width="6.85" height="2.00" fill="#006fff"/>
<rect x="100.46" y="154.80" width="7.85" height="2.00" fill="#8100ff"/>
<rect x="107.31" y="154.80" width="7.85" height="2.00" fill="#f700ff"/>
<rect x="114.16" y="154.80" width="7.85" height="2.00" fill="#ff005e"/>
<rect x="121.01" y="154.80" width="7.85" height="2.00" fill="#9200ff"/>
<rect x="127.86" y="154.80" width="7.85" height="2.00" fill="#4d00ff"/>
<rect x="134.71" y="154.80" width="7.85" height="2.00" fill="#0022ff"/>
<rect x="141.56" y="154.80" width="7.85" height="2.00" fill="#0d00ff"/>
<rect x="148.41" y="154.80" width="7.85" height="2.00" fill="#006fff"/>
<rect x="155.26" y="154.80" width="7.85" height="2.00" fill="#006fff"/>
<rect x="162.11" y="154.80" width="6.85" height="2.00" fill="#006fff"/>
<rect x="100.46" y="155.80" width="7.85" height="2.00" fill="#8100ff"/>
<rect x="107.31" y="155.80" width="7.85" height="2.00" fill="#f700ff"/>
<rect x="114.16" y="155.80" width="7.85" height="2.00" fill="#ff005e"/>
<rect x="121.01" y="155.80" width="7.85" height="2.00" fill="#9200ff"/>
<rect x="127.86" y="155.80" width="7.85" height="2.00" fill="#4d00ff"/>
<rect x="134.71" y="155.80" width="7.85" height="2.00" fill="#0022ff"/>
<rect x="141.56" y="155.80" width="7.85" height="2.00" fill="#0d00ff"/>
<rect x="148.41" y="155.80" width="7.85" height="2.00" fill="#006fff"/>
<rect x="155.26" y="155.80" width="7.85" height="2.00" fill="#006fff"/>
<rect x="162.11" y="155.80" width="6.85" height="2.00" fill="#006fff"/>
<rect x="100.46" y="156.80" width="7.85" height="2.00" fill="#8200ff"/>
<rect x="107.31" y="156.80" width="7.85" height="2.00" fill="#f700ff"/>
<rect x="114.16" y="156.80" width="7.85" height="2.00" fill="#ff005e"/>
<rect x="121.01" y="156.80" width="7.85" height="2.00" fill="#9300ff"/>
<rect x="127.86" y="156.80" width="7.85" height="2.00" fill="#4e00ff"/>
<rect x="134.71" y="156.80" width="7.85" height="2.00" fill="#0022ff"/>
<rect x="141.56" y="156.80" width="7.85" height="2.00" fill="#0d00ff"/>
<rect x="148.41" y="156.80" width="7.85" height="2.00" fill="#006fff"/>
<rect x="155.26" y="156.80" width="7.85" height="2.00" fill="#006fff"/>
<rect x="162.11" y="156.80" width="6.85" height="2.00" fill="#006fff"/>
<rect x="100.46" y="157.80" width="7.85" height="2.00" fill="#8200ff"/>
<rect x="107.31" y="157.80" width="7.85" height="2.00" fill="#f700ff"/>
<rect x="114.16" y="157.80" width="7.85" height="2.00" fill="#ff005e"/>
<rect x="121.01" y="157.80" width="7.85" height="2.00" fill="#9300ff"/>
<rect x="127.86" y="157.80" width="7.85" height="2.00" fill="#4e00ff"/>
<rect x="134.71" y="157.80" width="7.85" height="2.00" fill="#0022ff"/>
<rect x="141.56" y="157.80" width="7.85" height="2.00" fill="#0d00ff"/>
<rect x="148.41" y="157.80" width="7.85" height="2.00" fill="#006fff"/>
<rect x="155.26" y="157.80" width="7.85" height="2.00" fill="#006fff"/>
<rect x="162.11" y="157.80" width="6.85" height="2.00" fill="#006fff"/>
<rect x="100.46" y="158.80" width="7.85" height="2.00" fill="#8200ff"/>
<rect x="107.31" y="158.80" width="7.85" height="2.00" fill="#f700ff"/>
<rect x="114.16" y="158.80" width="7.85" height="2.00" fill="#ff005e"/>
<rect x="121.01" y="158.80" width="7.85" height="2.00" fill="#9300ff"/>
<rect x="127.86" y="158.80" width="7.85" height="2.00" fill="#4e00ff"/>
<rect x="134.71" y="158.80" width="7.85" height="2.00" fill="#0022ff"/>
<rect x="141.56" y="158.80" width="7.85" height="2.00" fill="#0d00ff"/>
<rect x="148.41" y="158.80" width="7.85" height="2.00" fill="#006fff"/>
<rect x="155.26" y="158.80" width="7.85" height="2.00" fill="#006fff"/>
<rect x="162.11" y="158.80" width="6.85" height="2.00" fill="#006fff"/>
<rect x="100.46" y="159.80" width="7.85" height="2.00" fill="#8300ff"/>
<rect x="107.31" y="159.80" width="7.85" height="2.00" fill="#f700ff"/>
<rect x="114.16" y="159.80" width="7.85" height="2.00" fill="#ff005e"/>
<rect x="121.01" y="159.80" width="7.85" height="2.00" fill="#9400ff"/>
<rect x="127.86" y="159.80" width="7.85" height="2.00" fill="#4e00ff"/>
<rect x="134.71" y="159.80" width="7.85" height="2.00" fill="#0022ff"/>
<rect x="141.56" y="159.80" width="7.85" height="2.00" fill="#0d00ff"/>
<rect x="148.41" y="159.80" width="7.85" height="2.00" fill="#006fff"/>
<rect x="155.26" y="159.80" width="7.85" height="2.00" fill="#006fff"/>
<rect x="162.11" y="159.80" width="6.85" height="2.00" fill="#006fff"/>
<rect x="100.46" y="160.80" width="7.85" height="2.00" fill="#8300ff"/>
<rect x="107.31" y="160.80" width="7.85" height="2.00" fill="#f700ff"/>
<rect x="114.16" y="160.80" width="7.85" height="2.00" fill="#ff005e"/>
<rect x="121.01" y="160.80" width="7.85" height="2.00" fill="#9400ff"/>
<rect x="127.86" y="160.80" width="7.85" height="2.00" fill="#4e00ff"/>
<rect x="134.71" y="160.80" width="7.85" height="2.00" fill="#0022ff"/>
<rect x="141.56" y="160.80" width="7.85" height="2.00" fill="#0d00ff"/>
<rect x="148.41" y="160.80" width="7.85" height="2.00" fill="#006fff"/>
<rect x="155.26" y="160.80" width="7.85" height="2.00" fill="#006fff"/>
<rect x="162.11" y="160.80" width="6.85" height="2.00" fill="#006fff"/>
<rect x="100.46" y="161.80" width="7.85" height="2.00" fill="#8400ff"/>
<rect x="107.31" y="161.80" width="7.85" height="2.00" fill="#f700ff"/>
<rect x="114.16" y="161.80" width="7.85" height="2.00" fill="#ff005e"/>
<rect x="121.01" y="161.80" width="7.85" height="2.00" fill="#9500ff"/>
<rect x="127.86" y="161.80" width="7.85" height="2.00" fill="#4f00ff"/>
<rect x="134.71" y="161.80" width="7.85" height="2.00" fill="#0022ff"/>
<rect x="141.56" y="161.80" width="7.85" height="2.00" fill="#0d00ff"/>
<rect x="148.41" y="161.80" width="7.85" height="2.00" fill="#006fff"/>
<rect x="155.26" y="161.80" width="7.85" height="2.00" fill="#006fff"/>
<rect x="162.11" y="161.80" width="6.85" height="2.00" fill="#006fff"/>
<rect x="100.46" y="162.80" width="7.85" height="2.00" fill="#8400ff"/>
<rect x="107.31" y="162.80" width="7.85" height="2.00" fill="#f700ff"/>
<rect x="114.16" y="162.80" width="7.85" height="2.00" fill="#ff005e"/>
<rect x="121.01" y="162.80" width="7.85" height="2.00" fill="#9500ff"/>
<rect x="127.86" y="162.80" width="7.85" height="2.00" fill="#4f00ff"/>
<rect x="134.71" y="162.80" width="7.85" height="2.00" fill="#0022ff"/>
<rect x="141.56" y="162.80" width="7.85" height="2.00" fill="#0d00ff"/>
<rect x="148.41" y="162.80" width="7.85" height="2.00" fill="#006fff"/>
<rect x="155.26" y="162.80" width="7.85" height="2.00" fill="#006fff"/>
<rect x="162.11" y="162.80" width="6.85" height="2.00" fill="#006fff"/>
<rect x="100.46" y="163.80" width="7.85" height="2.00" fill="#8400ff"/>
<rect x="107.31" y="163.80" width="7.85" height="2.00" fill="#f700ff"/>
<rect x="114.16" y="163.80" width="7.85" height="2.00" fill="#ff005e"/>
<rect x="121.01" y="163.80" width="7.85" height="2.00" fill="#9500ff"/>
<rect x="127.86" y="163.80" width="7.85" height="2.00" fill="#4f00ff"/>
<rect x="134.71" y="163.80" width="7.85" height="2.00" fill="#0022ff"/>
<rect x="141.56" y="163.80" width="7.85" height="2.00" fill="#0d00ff"/>
<rect x="148.41" y="163.80" width="7.85" height="2.00" fill="#006fff"/>
<rect x="155.26" y="163.80" width="7.85" height="2.00" fill="#006fff"/>
<rect x="162.11" y="163.80" width="6.85" height="2.00" fill="#006fff"/>
<rect x="100.46" y="164.80" width="7.85" height="2.00" fill="#8500ff"/>
<rect x="107.31" y="164.80" width="7.85" height="2.00" fill="#f700ff"/>
<rect x="114.16" y="164.80" width="7.85" height="2.00" fill="#ff005e"/>
<rect x="121.01" y="164.80" width="7.85" height="2.00" fill="#9600ff"/>
<rect x="127.86" y="164.80" width="7.85" height="2.00" fill="#4f00ff"/>
<rect x="134.71" y="164.80" width="7.85" height="2.00" fill="#0022ff"/>
<rect x="141.56" y="164.80" width="7.85" height="2.00" fill="#0d00ff"/>
<rect x="148.41" y="164.80" width="7.85" height="2.00" fill="#006fff"/>
<rect x="155.26" y="164.80" width="7.85" height="2.00" fill="#006fff"/>
<rect x="162.11" y="164.80" width="6.85" height="2.00" fill="#006fff"/>
<rect x="100.46" y="165.80" width="7.85" height="2.00" fill="#8500ff"/>
<rect x="107.31" y="165.80" width="7.85" height="2.00" fill="#f700ff"/>
<rect x="114.16" y="165.80" width="7.85" height="2.00" fill="#ff005e"/>
<rect x="121.01" y="165.80" width="7.85" height="2.00" fill="#9600ff"/>
<rect x="127.86" y="165.80" width="7.85" height="2.00" fill="#4f00ff"/>
<rect x="134.71" y="165.80" width="7.85" height="2.00" fill="#0022ff"/>
<rect x="141.56" y="165.80" width="7.85" height="2.00" fill="#0d00ff"/>
<rect x="148.41" y="165.80" width="7.85" height="2.00" fill="#006fff"/>
<rect x="155.26" y="165.80" width="7.85" height="2.00" fill="#006fff"/>
<rect x="162.11" y="165.80" width="6.85" height="2.00" fill="#006fff"/>
<rect x="100.46" y="166.80" width="7.85" height="2.00" fill="#8500ff"/>
<rect x="107.31" y="166.80" width="7.85" height="2.00" fill="#f700ff"/>
<rect x="114.16" y="166.80" width="7.85" height="2.00" fill="#ff005e"/>
<rect x="121.01" y="166.80" width="7.85" height="2.00" fill="#9600ff"/>
<rect x="127.86" y="166.80" width="7.85" height="2.00" fill="#4f00ff"/>
<rect x="134.71" y="166.80" width="7.85" height="2.00" fill="#0022ff"/>
<rect x="141.56" y="166.80" width="7.85" height="2.00" fill="#0d00ff"/>
<rect x="148.41" y="166.80" width="7.85" height="2.00" fill="#006fff"/>
<rect x="155.26" y="166.80" width="7.85" height="2.00" fill="#006fff"/>
<rect x="162.11" y="166.80" width="6.85" height="2.00" fill="#006fff"/>
<rect x="100.46" y="167.80" width="7.85" height="2.00" fill="#8600ff"/>
<rect x="107.31" y="167.80" width="7.85" height="2.00" fill="#f700ff"/>
<rect x="114.16" y="167.80" width="7.85" height="2.00" fill="#ff005e"/>
<rect x="121.01" y="167.80" width="7.85" height="2.00" fill="#9700ff"/>
<rect x="127.86" y="167.80" width="7.85" height="2.00" fill="#5000ff"/>
<rect x="134.71" y="167.80" width="7.85" height="2.00" fill="#0022ff"/>
<rect x="141.56" y="167.80" width="7.85" height="2.00" fill="#0d00ff"/>
<rect x="148.41" y="167.80" width="7.85" height="2.00" fill="#006fff"/>
<rect x="155.26" y="167.80" width="7.85" height="2.00" fill="#006fff"/>
<rect x="162.11" y="167.80" width="6.85" height="2.00" fill="#006fff"/>
<rect x="100.46" y="168.80" width="7.85" height="2.00" fill="#8600ff"/>
<rect x="107.31" y="168.80" width="7.85" height="2.00" fill="#f700ff"/>
<rect x="114.16" y="168.80" width="7.85" height="2.00" fill="#ff005e"/>
<rect x="121.01" y="168.80" width="7.85" height="2.00" fill="#9700ff"/>
<rect x="127.86" y="168.80" width="7.85" height="2.00" fill="#5000ff"/>
<rect x="134.71" y="168.80" width="7.85" height="2.00" fill="#0022ff"/>
<rect x="141.56" y="168.80" width="7.85" height="2.00" fill="#0d00ff"/>
<rect x="148.41" y="168.80" width="7.85" height="2.00" fill="#006fff"/>
<rect x="155.26" y="168.80" width="7.85" height="2.00" fill="#006fff"/>
<rect x="162.11" y="168.80" width="6.85" height="2.00" fill="#006fff"/>
<rect x="100.46" y="169.80" width="7.85" height="2.00" fill="#8600ff"/>
<rect x="107.31" y="169.80" width="7.85" height="2.00" fill="#f700ff"/>
<rect x="114.16" y="169.80" width="7.85" height="2.00" fill="#ff005e"/>
<rect x="121.01" y="169.80" width="7.85" height="2.00" fill="#9700ff"/>
<rect x="127.86" y="169.80" width="7.85" height="2.00" fill="#5000ff"/>
<rect x="134.71" y="169.80" width="7.85" height="2.00" fill="#0022ff"/>
<rect x="141.56" y="169.80" width="7.85" height="2.00" fill="#0d00ff"/>
<rect x="148.41" y="169.80" width="7.85" height="2.00" fill="#006fff"/>
<rect x="155.26" y="169.80" width="7.85" height="2.00" fill="#006fff"/>
<rect x="162.11" y="169.80" width="6.85" height="2.00" fill="#006fff"/>
<rect x="100.46" y="170.80" width="7.85" height="2.00" fill="#8700ff"/>
<rect x="107.31" y="170.80" width="7.85" height="2.00" fill="#f700ff"/>
<rect x="114.16" y="170.80" width="7.85" height="2.00" fill="#ff005e"/>
<rect x="121.01" y="170.80" width="7.85" height="2.00" fill="#9800ff"/>
<rect x="127.86" y="170.80" width="7.85" height="2.00" fill="#5000ff"/>
<rect x="134.71" y="170.80" width="7.85" height="2.00" fill="#0022ff"/>
<rect x="141.56" y="170.80" width="7.85" height="2.00" fill="#0d00ff"/>
<rect x="148.41" y="170.80" width="7.85" height="2.00" fill="#006fff"/>
<rect x="155.26" y="170.80" width="7.85" height="2.00" fill="#006fff"/>
<rect x="162.11" y="170.80" width="6.85" height="2.00" fill="#006fff"/>
<rect x="100.46" y="171.80" width="7.85" height="2.00" fill="#8700ff"/>
<rect x="107.31" y="171.80" width="7.85" height="2.00" fill="#f700ff"/>
<rect x="114.16" y="171.80" width="7.85" height="2.00" fill="#ff005e"/>
<rect x="121.01" y="171.80" width="7.85" height="2.00" fill="#9800ff"/>
<rect x="127.86" y="171.80" width="7.85" height="2.00" fill="#5000ff"/>
<rect x="134.71" y="171.80" width="7.85" height="2.00" fill="#0022ff"/>
<rect x="141.56" y="171.80" width="7.85" height="2.00" fill="#0d00ff"/>
<rect x="148.41" y="171.80" width="7.85" height="2.00" fill="#006fff"/>
<rect x="155.26" y="171.80" width="7.85" height="2.00" fill="#006fff"/>
<rect x="162.11" y="171.80" width="6.85" height="2.00" fill="#006fff"/>
<rect x="100.46" y="172.80" width="7.85" height="2.00" fill="#8700ff"/>
<rect x="107.31" y="172.80" width="7.85" height="2.00" fill="#f700ff"/>
<rect x="114.16" y="172.80" width="7.85" height="2.00" fill="#ff005e"/>
<rect x="121.01" y="172.80" width="7.85" height="2.00" fill="#9800ff"/>
<rect x="127.86" y="172.80" width="7.85" height="2.00" fill="#5000ff"/>
<rect x="134.71" y="172.80" width="7.85" height="2.00" fill="#0022ff"/>
<rect x="141.56" y="172.80" width="7.85" height="2.00" fill="#0d00ff"/>
<rect x="148.41" y="172.80" width="7.85" height="2.00" fill="#006fff"/>
<rect x="155.26" y="172.80" width="7.85" height="2.00" fill="#006fff"/>
<rect x="162.11" y="172.80" width="6.85" height="2.00" fill="#006fff"/>
<rect x="100.46" y="173.80" width="7.85" height="2.00" fill="#8800ff"/>
<rect x="107.31" y="173.80" width="7.85" height="2.00" fill="#f700ff"/>
<rect x="114.16" y="173.80" width="7.85" height="2.00" fill="#ff005e"/>
<rect x="121.01" y="173.80" width="7.85" height="2.00" fill="#9900ff"/>
<rect x="127.86" y="173.80" width="7.85" height="2.00" fill="#5100ff"/>
<rect x="134.71" y="173.80" width="7.85" height="2.00" fill="#0022ff"/>
<rect x="141.56" y="173.80" width="7.85" height="2.00" fill="#0d00ff"/>
<rect x="148.41" y="173.80" width="7.85" height="2.00" fill="#006fff"/>
<rect x="155.26" y="173.80" width="7.85" height="2.00" fill="#006fff"/>
<rect x="162.11" y="173.80" width="6.85" height="2.00" fill="#006fff"/>
<rect x="100.46" y="174.80" width="7.85" height="2.00" fill="#8900ff"/>
<rect x="107.31" y="174.80" width="7.85" height="2.00" fill="#f800ff"/>
<rect x="114.16" y="174.80" width="7.85" height="2.00" fill="#ff005d"/>
<rect x="121.01" y="174.80" width="7.85" height="2.00" fill="#9a00ff"/>
<rect x="127.86" y="174.80" width="7.85" height="2.00" fill="#5100ff"/>
<rect x="134.71" y="174.80" width="7.85" height="2.00" fill="#0022ff"/>
<rect x="141.56" y="174.80" width="7.85" height="2.00" fill="#0d00ff"/>
<rect x="148.41" y="174.80" width="7.85" height="2.00" fill="#006fff"/>
<rect x="155.26" y="174.80" width="7.85" height="2.00" fill="#006fff"/>
<rect x="162.11" y="174.80" width="6.85" height="2.00" fill="#006fff"/>
<rect x="100.46" y="175.80" width="7.85" height="2.00" fill="#8b00ff"/>
<rect x="107.31" y="175.80" width="7.85" height="2.00" fill="#fc00ff"/>
<rect x="114.16" y="175.80" width="7.85" height="2.00" fill="#ff005c"/>
<rect x="121.01" y="175.80" width="7.85" height="2.00" fill="#9b00ff"/>
<rect x="127.86" y="175.80" width="7.85" height="2.00" fill="#5200ff"/>
<rect x="134.71" y="175.80" width="7.85" height="2.00" fill="#0022ff"/>
<rect x="141.56" y="175.80" width="7.85" height="2.00" fill="#0c00ff"/>
<rect x="148.41" y="175.80" width="7.85" height="2.00" fill="#006fff"/>
<rect x="155.26" y="175.80" width="7.85" height="2.00" fill="#006fff"/>
<rect x="162.11" y="175.80" width="6.85" height="2.00" fill="#006fff"/>
<rect x="100.46" y="176.80" width="7.85" height="2.00" fill="#8d00ff"/>
<rect x="107.31" y="176.80" width="7.85" height="2.00" fill="#ff00fe"/>
<rect x="114.16" y="176.80" width="7.85" height="2.00" fill="#ff005b"/>
<rect x="121.01" y="176.80" width="7.85" height="2.00" fill="#9d00ff"/>
<rect x="127.86" y="176.80" width="7.85" height="2.00" fill="#5300ff"/>
<rect x="134.71" y="176.80" width="7.85" height="2.00" fill="#0023ff"/>
<rect x="141.56" y="176.80" width="7.85" height="2.00" fill="#0c00ff"/>
<rect x="148.41" y="176.80" width="7.85" height="2.00" fill="#006fff"/>
<rect x="155.26" y="176.80" width="7.85" height="2.00" fill="#006fff"/>
<rect x="162.11" y="176.80" width="6.85" height="2.00" fill="#006fff"/>
<rect x="100.46" y="177.80" width="7.85" height="2.00" fill="#8f00ff"/>
<rect x="107.31" y="177.80" width="7.85" height="2.00" fill="#ff00fa"/>
<rect x="114.16" y="177.80" width="7.85" height="2.00" fill="#ff005a"/>
<rect x="121.01" y="177.80" width="7.85" height="2.00" fill="#9f00ff"/>
<rect x="127.86" y="177.80" width="7.85" height="2.00" fill="#5400ff"/>
<rect x="134.71" y="177.80" width="7.85" height="2.00" fill="#0023ff"/>
<rect x="141.56" y="177.80" width="7.85" height="2.00" fill="#0c00ff"/>
<rect x="148.41" y="177.80" width="7.85" height="2.00" fill="#006fff"/>
<rect x="155.26" y="177.80" width="7.85" height="2.00" fill="#006fff"/>
<rect x="162.11" y="177.80" width="6.85" height="2.00" fill="#006fff"/>
<rect x="100.46" y="178.80" width="7.85" height="2.00" fill="#9200ff"/>
<rect x="107.31" y="178.80" width="7.85" height="2.00" fill="#ff00f6"/>
<rect x="114.16" y="178.80" width="7.85" height="2.00" fill="#ff0059"/>
<rect x="121.01" y="178.80" width="7.85" height="2.00" fill="#a000ff"/>
<rect x="127.86" y="178.80" width="7.85" height="2.00" fill="#5400ff"/>
<rect x="134.71" y="178.80" width="7.85" height="2.00" fill="#0023ff"/>
<rect x="141.56" y="178.80" width="7.85" height="2.00" fill="#0c00ff"/>
<rect x="148.41" y="178.80" width="7.85" height="2.00" fill="#006fff"/>
<rect x="155.26" y="178.80" width="7.85" height="2.00" fill="#006fff"/>
<rect x="162.11" y="178.80" width="6.85" height="2.00" fill="#006fff"/>
<rect x="100.46" y="179.80" width="7.85" height="2.00" fill="#9400ff"/>
<rect x="107.31" y="179.80" width="7.85" height="2.00" fill="#ff00f2"/>
<rect x="114.16" y="179.80" width="7.85" height="2.00" fill="#ff0057"/>
<rect x="121.01" y="179.80" width="7.85" height="2.00" fill="#a200ff"/>
<rect x="127.86" y="179.80" width="7.85" height="2.00" fill="#5500ff"/>
<rect x="134.71" y="179.80" width="7.85" height="2.00" fill="#0024ff"/>
<rect x="141.56" y="179.80" width="7.85" height="2.00" fill="#0b00ff"/>
<rect x="148.41" y="179.80" width="7.85" height="2.00" fill="#006fff"/>
<rect x="155.26" y="179.80" width="7.85" height="2.00" fill="#006fff"/>
<rect x="162.11" y="179.80" width="6.85" height="2.00" fill="#006fff"/>
<rect x="100.46" y="180.80" width="7.85" height="2.00" fill="#9600ff"/>
<rect x="107.31" y="180.80" width="7.85" height="2.00" fill="#ff00ef"/>
<rect x="114.16" y="180.80" width="7.85" height="2.00" fill="#ff0056"/>
<rect x="121.01" y="180.80" width="7.85" height="2.00" fill="#a400ff"/>
<rect x="127.86" y="180.80" width="7.85" height="2.00" fill="#5600ff"/>
<rect x="134.71" y="180.80" width="7.85" height="2.00" fill="#0024ff"/>
<rect x="141.56" y="180.80" width="7.85" height="2.00" fill="#0b00ff"/>
<rect x="148.41" y="180.80" width="7.85" height="2.00" fill="#006fff"/>
<rect x="155.26" y="180.80" width="7.85" height="2.00" fill="#006fff"/>
<rect x="162.11" y="180.80" width="6.85" height="2.00" fill="#006fff"/>
<rect x="100.46" y="181.80" width="7.85" height="2.00" fill="#9900ff"/>
<rect x="107.31" y="181.80" width="7.85" height="2.00" fill="#ff00eb"/>
<rect x="114.16" y="181.80" width="7.85" height="2.00" fill="#ff0055"/>
<rect x="121.01" y="181.80" width="7.85" height="2.00" fill="#a500ff"/>
<rect x="127.86" y="181.80" width="7.85" height="2.00" fill="#5700ff"/>
<rect x="134.71" y="181.80" width="7.85" height="2.00" fill="#0024ff"/>
<rect x="141.56" y="181.80" width="7.85" height="2.00" fill="#0b00ff"/>
<rect x="148.41" y="181.80" width="7.85" height="2.00" fill="#006fff"/>
<rect x="155.26" y="181.80" width="7.85" height="2.00" fill="#006fff"/>
<rect x="162.11" y="181.80" width="6.85" height="2.00" fill="#006fff"/>
<rect x="100.46" y="182.80" width="7.85" height="2.00" fill="#9b00ff"/>
<rect x="107.31" y="182.80" width="7.85" height="2.00" fill="#ff00e7"/>
<rect x="114.16" y="182.80" width="7.85" height="2.00" fill="#ff0054"/>
<rect x="121.01" y="182.80" width="7.85" height="2.00" fill="#a700ff"/>
<rect x="127.86" y="182.80" width="7.85" height="2.00" fill="#5800ff"/>
<rect x="134.71" y="182.80" width="7.85" height="2.00" fill="#0024ff"/>
<rect x="141.56" y="182.80" width="7.85" height="2.00" fill="#0a00ff"/>
<rect x="148.41" y="182.80" width="7.85" height="2.00" fill="#006fff"/>
<rect x="155.26" y="182.80" width="7.85" height="2.00" fill="#006fff"/>
<rect x="162.11" y="182.80" width="6.85" height="2.00" fill="#006fff"/>
<rect x="100.46" y="183.80" width="7.85" height="2.00" fill="#9d00ff"/>
<rect x="107.31" y="183.80" width="7.85" height="2.00" fill="#ff00e3"/>
<rect x="114.16" y="183.80" width="7.85" height="2.00" fill="#ff0053"/>
<rect x="121.01" y="183.80" width="7.85" height="2.00" fill="#a900ff"/>
<rect x="127.86" y="183.80" width="7.85" height="2.00" fill="#5900ff"/>
<rect x="134.71" y="183.80" width="7.85" height="2.00" fill="#0025ff"/>
<rect x="141.56" y="183.80" width="7.85" height="2.00" fill="#0a00ff"/>
<rect x="148.41" y="183.80" width="7.85" height="2.00" fill="#006fff"/>
<rect x="155.26" y="183.80" width="7.85" height="2.00" fill="#006fff"/>
<rect x="162.11" y="183.80" width="6.85" height="2.00" fill="#006fff"/>
<rect x="100.46" y="184.80" width="7.85" height="2.00" fill="#9f00ff"/>
<rect x="107.31" y="184.80" width="7.85" height="2.00" fill="#ff00df"/>
<rect x="114.16" y="184.80" width="7.85" height="2.00" fill="#ff0052"/>
<rect x="121.01" y="184.80" width="7.85" height="2.00" fill="#ab00ff"/>
<rect x="127.86" y="184.80" width="7.85" height="2.00" fill="#5a00ff"/>
<rect x="134.71" y="184.80" width="7.85" height="2.00" fill="#0025ff"/>
<rect x="141.56" y="184.80" width="7.85" height="2.00" fill="#0a00ff"/>
<rect x="148.41" y="184.80" width="7.85" height="2.00" fill="#006fff"/>
<rect x="155.26" y="184.80" width="7.85" height="2.00" fill="#006fff"/>
<rect x="162.11" y="184.80" width="6.85" height="2.00" fill="#006fff"/>
<rect x="100.46" y="185.80" width="7.85" height="2.00" fill="#a200ff"/>
<rect x="107.31" y="185.80" width="7.85" height="2.00" fill="#ff00db"/>
<rect x="114.16" y="185.80" width="7.85" height="2.00" fill="#ff0051"/>
<rect x="121.01" y="185.80" width="7.85" height="2.00" fill="#ac00ff"/>
<rect x="127.86" y="185.80" width="7.85" height="2.00" fill="#5a00ff"/>
<rect x="134.71" y="185.80" width="7.85" height="2.00" fill="#0025ff"/>
<rect x="141.56" y="185.80" width="7.85" height="2.00" fill="#0a00ff"/>
<rect x="148.41" y="185.80" width="7.85" height="2.00" fill="#006fff"/>
<rect x="155.26" y="185.80" width="7.85" height="2.00" fill="#006fff"/>
<rect x="162.11" y="185.80" width="6.85" height="2.00" fill="#006fff"/>
<rect x="100.46" y="186.80" width="7.85" height="2.00" fill="#a400ff"/>
<rect x="107.31" y="186.80" width="7.85" height="2.00" fill="#ff00d7"/>
<rect x="114.16" y="186.80" width="7.85" height="2.00" fill="#ff0050"/>
<rect x="121.01" y="186.80" width="7.85" height="2.00" fill="#ae00ff"/>
<rect x="127.86" y="186.80" width="7.85" height="2.00" fill="#5b00ff"/>
<rect x="134.71" y="186.80" width="7.85" height="2.00" fill="#0025ff"/>
<rect x="141.56" y="186.80" width="7.85" height="2.00" fill="#0900ff"/>
<rect x="148.41" y="186.80" width="7.85" height="2.00" fill="#006fff"/>
<rect x="155.26" y="186.80" width="7.85" height="2.00" fill="#006fff"/>
<rect x="162.11" y="186.80" width="6.85" height="2.00" fill="#006fff"/>
<rect x="100.46" y="187.80" width="7.85" height="2.00" fill="#a600ff"/>
<rect x="107.31" y="187.80" width="7.85" height="2.00" fill="#ff00d3"/>
<rect x="114.16" y="187.80" width="7.85" height="2.00" fill="#ff004e"/>
<rect x="121.01" y="187.80" width="7.85" height="2.00" fill="#b000ff"/>
<rect x="127.86" y="187.80" width="7.85" height="2.00" fill="#5c00ff"/>
<rect x="134.71" y="187.80" width="7.85" height="2.00" fill="#0026ff"/>
<rect x="141.56" y="187.80" width="7.85" height="2.00" fill="#0900ff"/>
<rect x="148.41" y="187.80" width="7.85" height="2.00" fill="#006fff"/>
<rect x="155.26" y="187.80" width="7.85" height="2.00" fill="#006fff"/>
<rect x="162.11" y="187.80" width="6.85" height="2.00" fill="#006fff"/>
<rect x="100.46" y="188.80" width="7.85" height="2.00" fill="#a800ff"/>
<rect x="107.31" y="188.80" width="7.85" height="2.00" fill="#ff00cf"/>
<rect x="114.16" y="188.80" width="7.85" height="2.00" fill="#ff004d"/>
<rect x="121.01" y="188.80" width="7.85" height="2.00" fill="#b100ff"/>
<rect x="127.86" y="188.80" width="7.85" height="2.00" fill="#5d00ff"/>
<rect x="134.71" y="188.80" width="7.85" height="2.00" fill="#0026ff"/>
<rect x="141.56" y="188.80" width="7.85" height="2.00" fill="#0900ff"/>
<rect x="148.41" y="188.80" width="7.85" height="2.00" fill="#006fff"/>
<rect x="155.26" y="188.80" width="7.85" height="2.00" fill="#006fff"/>
<rect x="162.11" y="188.80" width="6.85" height="2.00" fill="#006fff"/>
<rect x="100.46" y="189.80" width="7.85" height="2.00" fill="#ac00ff"/>
<rect x="107.31" y="189.80" width="7.85" height="2.00" fill="#ff00c8"/>
<rect x="114.16" y="189.80" width="7.85" height="2.00" fill="#ff004b"/>
<rect x="121.01" y="189.80" width="7.85" height="2.00" fill="#b400ff"/>
<rect x="127.86" y="189.80" width="7.85" height="2.00" fill="#5e00ff"/>
<rect x="134.71" y="189.80" width="7.85" height="2.00" fill="#0027ff"/>
<rect x="141.56" y="189.80" width="7.85" height="2.00" fill="#0800ff"/>
<rect x="148.41" y="189.80" width="7.85" height="2.00" fill="#006fff"/>
<rect x="155.26" y="189.80" width="7.85" height="2.00" fill="#006fff"/>
<rect x="162.11" y="189.80" width="6.85" height="2.00" fill="#006fff"/>
<rect x="100.46" y="190.80" width="7.85" height="2.00" fill="#b300ff"/>
<rect x="107.31" y="190.80" width="7.85" height="2.00" fill="#ff00ba"/>
<rect x="114.16" y="190.80" width="7.85" height="2.00" fill="#ff0046"/>
<rect x="121.01" y="190.80" width="7.85" height="2.00" fill="#b700ff"/>
<rect x="127.86" y="190.80" width="7.85" height="2.00" fill="#6100ff"/>
<rect x="134.71" y="190.80" width="7.85" height="2.00" fill="#0028ff"/>
<rect x="141.56" y="190.80" width="7.85" height="2.00" fill="#0800ff"/>
<rect x="148.41" y="190.80" width="7.85" height="2.00" fill="#006fff"/>
<rect x="155.26" y="190.80" width="7.85" height="2.00" fill="#006fff"/>
<rect x="162.11" y="190.80" width="6.85" height="2.00" fill="#006fff"/>
<rect x="100.46" y="191.80" width="7.85" height="2.00" fill="#bb00ff"/>
<rect x="107.31" y="191.80" width="7.85" height="2.00" fill="#ff00ac"/>
<rect x="114.16" y="191.80" width="7.85" height="2.00" fill="#ff0041"/>
<rect x="121.01" y="191.80" width="7.85" height="2.00" fill="#bb00ff"/>
<rect x="127.86" y="191.80" width="7.85" height="2.00" fill="#6300ff"/>
<rect x="134.71" y="191.80" width="7.85" height="2.00" fill="#0029ff"/>
<rect x="141.56" y="191.80" width="7.85" height="2.00" fill="#0700ff"/>
<rect x="148.41" y="191.80" width="7.85" height="2.00" fill="#006fff"/>
<rect x="155.26" y="191.80" width="7.85" height="2.00" fill="#006fff"/>
<rect x="162.11" y="191.80" width="6.85" height="2.00" fill="#006fff"/>
<rect x="100.46" y="192.80" width="7.85" height="2.00" fill="#c200ff"/>
<rect x="107.31" y="192.80" width="7.85" height="2.00" fill="#ff009e"/>
<rect x="114.16" y="192.80" width="7.85" height="2.00" fill="#ff003c"/>
<rect x="121.01" y="192.80" width="7.85" height="2.00" fill="#bf00ff"/>
<rect x="127.86" y="192.80" width="7.85" height="2.00" fill="#6600ff"/>
<rect x="134.71" y="192.80" width="7.85" height="2.00" fill="#002aff"/>
<rect x="141.56" y="192.80" width="7.85" height="2.00" fill="#0600ff"/>
<rect x="148.41" y="192.80" width="7.85" height="2.00" fill="#006fff"/>
<rect x="155.26" y="192.80" width="7.85" height="2.00" fill="#006fff"/>
<rect x="162.11" y="192.80" width="6.85" height="2.00" fill="#006fff"/>
<rect x="100.46" y="193.80" width="7.85" height="2.00" fill="#c900ff"/>
<rect x="107.31" y="193.80" width="7.85" height="2.00" fill="#ff0090"/>
<rect x="114.16" y="193.80" width="7.85" height="2.00" fill="#ff0038"/>
<rect x="121.01" y="193.80" width="7.85" height="2.00" fill="#c200ff"/>
<rect x="127.86" y="193.80" width="7.85" height="2.00" fill="#6800ff"/>
<rect x="134.71" y="193.80" width="7.85" height="2.00" fill="#002bff"/>
<rect x="141.56" y="193.80" width="7.85" height="2.00" fill="#0600ff"/>
<rect x="148.41" y="193.80" width="7.85" height="2.00" fill="#006fff"/>
<rect x="155.26" y="193.80" width="7.85" height="2.00" fill="#006fff"/>
<rect x="162.11" y="193.80" width="6.85" height="2.00" fill="#006fff"/>
<rect x="100.46" y="194.80" width="7.85" height="2.00" fill="#d100ff"/>
<rect x="107.31" y="194.80" width="7.85" height="2.00" fill="#ff0082"/>
<rect x="114.16" y="194.80" width="7.85" height="2.00" fill="#ff0033"/>
<rect x="121.01" y="194.80" width="7.85" height="2.00" fill="#c600ff"/>
<rect x="127.86" y="194.80" width="7.85" height="2.00" fill="#6a00ff"/>
<rect x="134.71" y="194.80" width="7.85" height="2.00" fill="#002dff"/>
<rect x="141.56" y="194.80" width="7.85" height="2.00" fill="#0500ff"/>
<rect x="148.41" y="194.80" width="7.85" height="2.00" fill="#006fff"/>
<rect x="155.26" y="194.80" width="7.85" height="2.00" fill="#006fff"/>
<rect x="162.11" y="194.80" width="6.85" height="2.00" fill="#006fff"/>
<rect x="100.46" y="195.80" width="7.85" height="2.00" fill="#d800ff"/>
<rect x="107.31" y="195.80" width="7.85" height="2.00" fill="#ff0074"/>
<rect x="114.16" y="195.80" width="7.85" height="2.00" fill="#ff002e"/>
<rect x="121.01" y="195.80" width="7.85" height="2.00" fill="#c900ff"/>
<rect x="127.86" y="195.80" width="7.85" height="2.00" fill="#6d00ff"/>
<rect x="134.71" y="195.80" width="7.85" height="2.00" fill="#002eff"/>
<rect x="141.56" y="195.80" width="7.85" height="2.00" fill="#0500ff"/>
<rect x="148.41" y="195.80" width="7.85" height="2.00" fill="#006fff"/>
<rect x="155.26" y="195.80" width="7.85" height="2.00" fill="#006fff"/>
<rect x="162.11" y="195.80" width="6.85" height="2.00" fill="#006fff"/>
<rect x="100.46" y="196.80" width="7.85" height="2.00" fill="#e100ff"/>
<rect x="107.31" y="196.80" width="7.85" height="2.00" fill="#ff0067"/>
<rect x="114.16" y="196.80" width="7.85" height="2.00" fill="#ff0029"/>
<rect x="121.01" y="196.80" width="7.85" height="2.00" fill="#cd00ff"/>
<rect x="127.86" y="196.80" width="7.85" height="2.00" fill="#6f00ff"/>
<rect x="134.71" y="196.80" width="7.85" height="2.00" fill="#002fff"/>
<rect x="141.56" y="196.80" width="7.85" height="2.00" fill="#0400ff"/>
<rect x="148.41" y="196.80" width="7.85" height="2.00" fill="#006fff"/>
<rect x="155.26" y="196.80" width="7.85" height="2.00" fill="#006fff"/>
<rect x="162.11" y="196.80" width="6.85" height="2.00" fill="#006fff"/>
<rect x="100.46" y="197.80" width="7.85" height="2.00" fill="#ee00ff"/>
<rect x="107.31" y="197.80" width="7.85" height="2.00" fill="#ff005b"/>
<rect x="114.16" y="197.80" width="7.85" height="2.00" fill="#ff0024"/>
<rect x="121.01" y="197.80" width="7.85" height="2.00" fill="#d200ff"/>
<rect x="127.86" y="197.80" width="7.85" height="2.00" fill="#7200ff"/>
<rect x="134.71" y="197.80" width="7.85" height="2.00" fill="#0031ff"/>
<rect x="141.56" y="197.80" width="7.85" height="2.00" fill="#0300ff"/>
<rect x="148.41" y="197.80" width="7.85" height="2.00" fill="#006fff"/>
<rect x="155.26" y="197.80" width="7.85" height="2.00" fill="#006fff"/>
<rect x="162.11" y="197.80" width="6.85" height="2.00" fill="#006fff"/>
<rect x="100.46" y="198.80" width="7.85" height="2.00" fill="#fa00ff"/>
<rect x="107.31" y="198.80" width="7.85" height="2.00" fill="#ff004f"/>
<rect x="114.16" y="198.80" width="7.85" height="2.00" fill="#ff001f"/>
<rect x="121.01" y="198.80" width="7.85" height="2.00" fill="#d700ff"/>
<rect x="127.86" y="198.80" width="7.85" height="2.00" fill="#7500ff"/>
<rect x="134.71" y="198.80" width="7.85" height="2.00" fill="#0032ff"/>
<rect x="141.56" y="198.80" width="7.85" height="2.00" fill="#0300ff"/>
<rect x="148.41" y="198.80" width="7.85" height="2.00" fill="#006fff"/>
<rect x="155.26" y="198.80" width="7.85" height="2.00" fill="#006fff"/>
<rect x="162.11" y="198.80" width="6.85" height="2.00" fill="#006fff"/>
<rect x="100.46" y="199.80" width="7.85" height="2.00" fill="#ff00f7"/>
<rect x="107.31" y="199.80" width="7.85" height="2.00" fill="#ff0043"/>
<rect x="114.16" y="199.80" width="7.85" height="2.00" fill="#ff001a"/>
<rect x="121.01" y="199.80" width="7.85" height="2.00" fill="#dc00ff"/>
<rect x="127.86" y="199.80" width="7.85" height="2.00" fill="#7800ff"/>
<rect x="134.71" y="199.80" width="7.85" height="2.00" fill="#0033ff"/>
<rect x="141.56" y="199.80" width="7.85" height="2.00" fill="#0200ff"/>
<rect x="148.41" y="199.80" width="7.85" height="2.00" fill="#006fff"/>
<rect x="155.26" y="199.80" width="7.85" height="2.00" fill="#006fff"/>
<rect x="162.11" y="199.80" width="6.85" height="2.00" fill="#006fff"/>
<rect x="100.46" y="200.80" width="7.85" height="2.00" fill="#ff00ea"/>
<rect x="107.31" y="200.80" width="7.85" height="2.00" fill="#ff0036"/>
<rect x="114.16" y="200.80" width="7.85" height="2.00" fill="#ff0015"/>
<rect x="121.01" y="200.80" width="7.85" height="2.00" fill="#e100ff"/>
<rect x="127.86" y="200.80" width="7.85" height="2.00" fill="#7b00ff"/>
<rect x="134.71" y="200.80" width="7.85" height="2.00" fill="#0035ff"/>
<rect x="141.56" y="200.80" width="7.85" height="2.00" fill="#0100ff"/>
<rect x="148.41" y="200.80" width="7.85" height="2.00" fill="#006fff"/>
<rect x="155.26" y="200.80" width="7.85" height="2.00" fill="#006fff"/>
<rect x="162.11" y="200.80" width="6.85" height="2.00" fill="#006fff"/>
<rect x="100.46" y="201.80" width="7.85" height="2.00" fill="#ff00dd"/>
<rect x="107.31" y="201.80" width="7.85" height="2.00" fill="#ff002a"/>
<rect x="114.16" y="201.80" width="7.85" height="2.00" fill="#ff0010"/>
<rect x="121.01" y="201.80" width="7.85" height="2.00" fill="#e600ff"/>
<rect x="127.86" y="201.80" width="7.85" height="2.00" fill="#7e00ff"/>
<rect x="134.71" y="201.80" width="7.85" height="2.00" fill="#0036ff"/>
<rect x="141.56" y="201.80" width="7.85" height="2.00" fill="#0000ff"/>
<rect x="148.41" y="201.80" width="7.85" height="2.00" fill="#006fff"/>
<rect x="155.26" y="201.80" width="7.85" height="2.00" fill="#006fff"/>
<rect x="162.11" y="201.80" width="6.85" height="2.00" fill="#006fff"/>
<rect x="100.46" y="202.80" width="7.85" height="2.00" fill="#ff00d0"/>
<rect x="107.31" y="202.80" width="7.85" height="2.00" fill="#ff0021"/>
<rect x="114.16" y="202.80" width="7.85" height="2.00" fill="#ff000c"/>
<rect x="121.01" y="202.80" width="7.85" height="2.00" fill="#eb00ff"/>
<rect x="127.86" y="202.80" width="7.85" height="2.00" fill="#8000ff"/>
<rect x="134.71" y="202.80" width="7.85" height="2.00" fill="#0038ff"/>
<rect x="141.56" y="202.80" width="7.85" height="2.00" fill="#0001ff"/>
<rect x="148.41" y="202.80" width="7.85" height="2.00" fill="#006fff"/>
<rect x="155.26" y="202.80" width="7.85" height="2.00" fill="#006fff"/>
<rect x="162.11" y="202.80" width="6.85" height="2.00" fill="#006fff"/>
<rect x="100.46" y="203.80" width="7.85" height="2.00" fill="#ff00c3"/>
<rect x="107.31" y="203.80" width="7.85" height="2.00" fill="#ff001c"/>
<rect x="114.16" y="203.80" width="7.85" height="2.00" fill="#ff000c"/>
<rect x="121.01" y="203.80" width="7.85" height="2.00" fill="#ee00ff"/>
<rect x="127.86" y="203.80" width="7.85" height="2.00" fill="#8300ff"/>
<rect x="134.71" y="203.80" width="7.85" height="2.00" fill="#003bff"/>
<rect x="141.56" y="203.80" width="7.85" height="2.00" fill="#0002ff"/>
<rect x="148.41" y="203.80" width="7.85" height="2.00" fill="#0070ff"/>
<rect x="155.26" y="203.80" width="7.85" height="2.00" fill="#0071ff"/>
<rect x="162.11" y="203.80" width="6.85" height="2.00" fill="#0071ff"/>
<rect x="100.46" y="204.80" width="7.85" height="2.00" fill="#ff00b5"/>
<rect x="107.31" y="204.80" width="7.85" height="2.00" fill="#ff0018"/>
<rect x="114.16" y="204.80" width="7.85" height="2.00" fill="#ff000b"/>
<rect x="121.01" y="204.80" width="7.85" height="2.00" fill="#f200ff"/>
<rect x="127.86" y="204.80" width="7.85" height="2.00" fill="#8500ff"/>
<rect x="134.71" y="204.80" width="7.85" height="2.00" fill="#003dff"/>
<rect x="141.56" y="204.80" width="7.85" height="2.00" fill="#0004ff"/>
<rect x="148.41" y="204.80" width="7.85" height="2.00" fill="#0070ff"/>
<rect x="155.26" y="204.80" width="7.85" height="2.00" fill="#0072ff"/>
<rect x="162.11" y="204.80" width="6.85" height="2.00" fill="#0072ff"/>
<rect x="100.46" y="205.80" width="7.85" height="2.00" fill="#ff00a8"/>
<rect x="107.31" y="205.80" width="7.85" height="2.00" fill="#ff0014"/>
<rect x="114.16" y="205.80" width="7.85" height="2.00" fill="#ff000a"/>
<rect x="121.01" y="205.80" width="7.85" height="2.00" fill="#f500ff"/>
<rect x="127.86" y="205.80" width="7.85" height="2.00" fill="#8800ff"/>
<rect x="134.71" y="205.80" width="7.85" height="2.00" fill="#0040ff"/>
<rect x="141.56" y="205.80" width="7.85" height="2.00" fill="#0006ff"/>
<rect x="148.41" y="205.80" width="7.85" height="2.00" fill="#0071ff"/>
<rect x="155.26" y="205.80" width="7.85" height="2.00" fill="#0074ff"/>
<rect x="162.11" y="205.80" width="6.85" height="2.00" fill="#0074ff"/>
<rect x="100.46" y="206.80" width="7.85" height="2.00" fill="#ff009a"/>
<rect x="107.31" y="206.80" width="7.85" height="2.00" fill="#ff0010"/>
<rect x="114.16" y="206.80" width="7.85" height="2.00" fill="#ff0009"/>
<rect x="121.01" y="206.80" width="7.85" height="2.00" fill="#f800ff"/>
<rect x="127.86" y="206.80" width="7.85" height="2.00" fill="#8a00ff"/>
<rect x="134.71" y="206.80" width="7.85" height="2.00" fill="#0042ff"/>
<rect x="141.56" y="206.80" width="7.85" height="2.00" fill="#0007ff"/>
<rect x="148.41" y="206.80" width="7.85" height="2.00" fill="#0072ff"/>
<rect x="155.26" y="206.80" width="7.85" height="2.00" fill="#0076ff"/>
<rect x="162.11" y="206.80" width="6.85" height="2.00" fill="#0076ff"/>
<rect x="100.46" y="207.80" width="7.85" height="2.00" fill="#ff0096"/>
<rect x="107.31" y="207.80" width="7.85" height="2.00" fill="#ff000f"/>
<rect x="114.16" y="207.80" width="7.85" height="2.00" fill="#ff0008"/>
<rect x="121.01" y="207.80" width="7.85" height="2.00" fill="#fb00ff"/>
<rect x="127.86" y="207.80" width="7.85" height="2.00" fill="#8d00ff"/>
<rect x="134.71" y="207.80" width="7.85" height="2.00" fill="#0045ff"/>
<rect x="141.56" y="207.80" width="7.85" height="2.00" fill="#000bff"/>
<rect x="148.41" y="207.80" width="7.85" height="2.00" fill="#0075ff"/>
<rect x="155.26" y="207.80" width="7.85" height="2.00" fill="#007bff"/>
<rect x="162.11" y="207.80" width="6.85" height="2.00" fill="#007bff"/>
<rect x="100.46" y="208.80" width="7.85" height="2.00" fill="#ff00a7"/>
<rect x="107.31" y="208.80" width="7.85" height="2.00" fill="#ff0015"/>
<rect x="114.16" y="208.80" width="7.85" height="2.00" fill="#ff0008"/>
<rect x="121.01" y="208.80" width="7.85" height="2.00" fill="#fc00ff"/>
<rect x="127.86" y="208.80" width="7.85" height="2.00" fill="#8f00ff"/>
<rect x="134.71" y="208.80" width="7.85" height="2.00" fill="#004aff"/>
<rect x="141.56" y="208.80" width="7.85" height="2.00" fill="#0012ff"/>
<rect x="148.41" y="208.80" width="7.85" height="2.00" fill="#007bff"/>
<rect x="155.26" y="208.80" width="7.85" height="2.00" fill="#0087ff"/>
<rect x="162.11" y="208.80" width="6.85" height="2.00" fill="#008aff"/>
<rect x="100.46" y="209.80" width="7.85" height="2.00" fill="#ff00b8"/>
<rect x="107.31" y="209.80" width="7.85" height="2.00" fill="#ff001b"/>
<rect x="114.16" y="209.80" width="7.85" height="2.00" fill="#ff0008"/>
<rect x="121.01" y="209.80" width="7.85" height="2.00" fill="#fe00ff"/>
<rect x="127.86" y="209.80" width="7.85" height="2.00" fill="#9200ff"/>
<rect x="134.71" y="209.80" width="7.85" height="2.00" fill="#004fff"/>
<rect x="141.56" y="209.80" width="7.85" height="2.00" fill="#0019ff"/>
<rect x="148.41" y="209.80" width="7.85" height="2.00" fill="#0081ff"/>
<rect x="155.26" y="209.80" width="7.85" height="2.00" fill="#0093ff"/>
<rect x="162.11" y="209.80" width="6.85" height="2.00" fill="#0099ff"/>
<rect x="100.46" y="210.80" width="7.85" height="2.00" fill="#ff00c9"/>
<rect x="107.31" y="210.80" width="7.85" height="2.00" fill="#ff0021"/>
<rect x="114.16" y="210.80" width="7.85" height="2.00" fill="#ff0008"/>
<rect x="121.01" y="210.80" width="7.85" height="2.00" fill="#ff00ff"/>
<rect x="127.86" y="210.80" width="7.85" height="2.00" fill="#9400ff"/>
<rect x="134.71" y="210.80" width="7.85" height="2.00" fill="#0054ff"/>
<rect x="141.56" y="210.80" width="7.85" height="2.00" fill="#0021ff"/>
<rect x="148.41" y="210.80" width="7.85" height="2.00" fill="#0087ff"/>
<rect x="155.26" y="210.80" width="7.85" height="2.00" fill="#009fff"/>
<rect x="162.11" y="210.80" width="6.85" height="2.00" fill="#00a7ff"/>
<rect x="100.46" y="211.80" width="7.85" height="2.00" fill="#ff00e7"/>
<rect x="107.31" y="211.80" width="7.85" height="2.00" fill="#ff0041"/>
<rect x="114.16" y="211.80" width="7.85" height="2.00" fill="#ff0014"/>
<rect x="121.01" y="211.80" width="7.85" height="2.00" fill="#f800ff"/>
<rect x="127.86" y="211.80" width="7.85" height="2.00" fill="#8f00ff"/>
<rect x="134.71" y="211.80" width="7.85" height="2.00" fill="#005aff"/>
<rect x="141.56" y="211.80" width="7.85" height="2.00" fill="#0032ff"/>
<rect x="148.41" y="211.80" width="7.85" height="2.00" fill="#0091ff"/>
<rect x="155.26" y="211.80" width="7.85" height="2.00" fill="#00adff"/>
<rect x="162.11" y="211.80" width="6.85" height="2.00" fill="#00b6ff"/>
<rect x="100.46" y="212.80" width="7.85" height="2.00" fill="#f500ff"/>
<rect x="107.31" y="212.80" width="7.85" height="2.00" fill="#ff0067"/>
<rect x="114.16" y="212.80" width="7.85" height="2.00" fill="#ff0022"/>
<rect x="121.01" y="212.80" width="7.85" height="2.00" fill="#f000ff"/>
<rect x="127.86" y="212.80" width="7.85" height="2.00" fill="#8800ff"/>
<rect x="134.71" y="212.80" width="7.85" height="2.00" fill="#005fff"/>
<rect x="141.56" y="212.80" width="7.85" height="2.00" fill="#0046ff"/>
<rect x="148.41" y="212.80" width="7.85" height="2.00" fill="#009cff"/>
<rect x="155.26" y="212.80" width="7.85" height="2.00" fill="#00bbff"/>
<rect x="162.11" y="212.80" width="6.85" height="2.00" fill="#00c6ff"/>
<rect x="100.46" y="213.80" width="7.85" height="2.00" fill="#d300ff"/>
<rect x="107.31" y="213.80" width="7.85" height="2.00" fill="#ff008d"/>
<rect x="114.16" y="213.80" width="7.85" height="2.00" fill="#ff0030"/>
<rect x="121.01" y="213.80" width="7.85" height="2.00" fill="#e700ff"/>
<rect x="127.86" y="213.80" width="7.85" height="2.00" fill="#8100ff"/>
<rect x="134.71" y="213.80" width="7.85" height="2.00" fill="#0065ff"/>
<rect x="141.56" y="213.80" width="7.85" height="2.00" fill="#005aff"/>
<rect x="148.41" y="213.80" width="7.85" height="2.00" fill="#00a8ff"/>
<rect x="155.26" y="213.80" width="7.85" height="2.00" fill="#00c9ff"/>
<rect x="162.11" y="213.80" width="6.85" height="2.00" fill="#00d6ff"/>
<rect x="100.46" y="214.80" width="7.85" height="2.00" fill="#ca00ff"/>
<rect x="107.31" y="214.80" width="7.85" height="2.00" fill="#ff00d9"/>
<rect x="114.16" y="214.80" width="7.85" height="2.00" fill="#ff0055"/>
<rect x="121.01" y="214.80" width="7.85" height="2.00" fill="#d800ff"/>
<rect x="127.86" y="214.80" width="7.85" height="2.00" fill="#7000ff"/>
<rect x="134.71" y="214.80" width="7.85" height="2.00" fill="#0068ff"/>
<rect x="141.56" y="214.80" width="7.85" height="2.00" fill="#0072ff"/>
<rect x="148.41" y="214.80" width="7.85" height="2.00" fill="#00b8ff"/>
<rect x="155.26" y="214.80" width="7.85" height="2.00" fill="#00daff"/>
<rect x="162.11" y="214.80" width="6.85" height="2.00" fill="#00e5ff"/>
<rect x="100.46" y="215.80" width="7.85" height="2.00" fill="#c700ff"/>
<rect x="107.31" y="215.80" width="7.85" height="2.00" fill="#d000ff"/>
<rect x="114.16" y="215.80" width="7.85" height="2.00" fill="#ff0080"/>
<rect x="121.01" y="215.80" width="7.85" height="2.00" fill="#c700ff"/>
<rect x="127.86" y="215.80" width="7.85" height="2.00" fill="#5c00ff"/>
<rect x="134.71" y="215.80" width="7.85" height="2.00" fill="#006bff"/>
<rect x="141.56" y="215.80" width="7.85" height="2.00" fill="#008bff"/>
<rect x="148.41" y="215.80" width="7.85" height="2.00" fill="#00c9ff"/>
<rect x="155.26" y="215.80" width="7.85" height="2.00" fill="#00ebff"/>
<rect x="162.11" y="215.80" width="6.85" height="2.00" fill="#00f5ff"/>
<rect x="100.46" y="216.80" width="7.85" height="2.00" fill="#c400ff"/>
<rect x="107.31" y="216.80" width="7.85" height="2.00" fill="#7b00ff"/>
<rect x="114.16" y="216.80" width="7.85" height="2.00" fill="#ff00aa"/>
<rect x="121.01" y="216.80" width="7.85" height="2.00" fill="#b600ff"/>
<rect x="127.86" y="216.80" width="7.85" height="2.00" fill="#4800ff"/>
<rect x="134.71" y="216.80" width="7.85" height="2.00" fill="#006eff"/>
<rect x="141.56" y="216.80" width="7.85" height="2.00" fill="#00a5ff"/>
<rect x="148.41" y="216.80" width="7.85" height="2.00" fill="#00daff"/>
<rect x="155.26" y="216.80" width="7.85" height="2.00" fill="#00fcff"/>
<rect x="162.11" y="216.80" width="6.85" height="2.00" fill="#00fffa"/>
<rect x="100.46" y="217.80" width="7.85" height="2.00" fill="#ad00ff"/>
<rect x="107.31" y="217.80" width="7.85" height="2.00" fill="#4900ff"/>
<rect x="114.16" y="217.80" width="7.85" height="2.00" fill="#ff00d2"/>
<rect x="121.01" y="217.80" width="7.85" height="2.00" fill="#9c00ff"/>
<rect x="127.86" y="217.80" width="7.85" height="2.00" fill="#3500ff"/>
<rect x="134.71" y="217.80" width="7.85" height="2.00" fill="#0071ff"/>
<rect x="141.56" y="217.80" width="7.85" height="2.00" fill="#00b5ff"/>
<rect x="148.41" y="217.80" width="7.85" height="2.00" fill="#00e4ff"/>
<rect x="155.26" y="217.80" width="7.85" height="2.00" fill="#00fff6"/>
<rect x="162.11" y="217.80" width="6.85" height="2.00" fill="#00ffed"/>
<rect x="100.46" y="218.80" width="7.85" height="2.00" fill="#9000ff"/>
<rect x="107.31" y="218.80" width="7.85" height="2.00" fill="#2000ff"/>
<rect x="114.16" y="218.80" width="7.85" height="2.00" fill="#ff00fa"/>
<rect x="121.01" y="218.80" width="7.85" height="2.00" fill="#7f00ff"/>
<rect x="127.86" y="218.80" width="7.85" height="2.00" fill="#2300ff"/>
<rect x="134.71" y="218.80" width="7.85" height="2.00" fill="#0074ff"/>
<rect x="141.56" y="218.80" width="7.85" height="2.00" fill="#00c3ff"/>
<rect x="148.41" y="218.80" width="7.85" height="2.00" fill="#00ecff"/>
<rect x="155.26" y="218.80" width="7.85" height="2.00" fill="#00ffeb"/>
<rect x="162.11" y="218.80" width="6.85" height="2.00" fill="#00ffe2"/>
<rect x="100.46" y="219.80" width="7.85" height="2.00" fill="#7400ff"/>
<rect x="107.31" y="219.80" width="7.85" height="2.00" fill="#0009ff"/>
<rect x="114.16" y="219.80" width="7.85" height="2.00" fill="#dc00ff"/>
<rect x="121.01" y="219.80" width="7.85" height="2.00" fill="#6300ff"/>
<rect x="127.86" y="219.80" width="7.85" height="2.00" fill="#1000ff"/>
<rect x="134.71" y="219.80" width="7.85" height="2.00" fill="#0076ff"/>
<rect x="141.56" y="219.80" width="7.85" height="2.00" fill="#00d2ff"/>
<rect x="148.41" y="219.80" width="7.85" height="2.00" fill="#00f5ff"/>
<rect x="155.26" y="219.80" width="7.85" height="2.00" fill="#00ffdf"/>
<rect x="162.11" y="219.80" width="6.85" height="2.00" fill="#00ffd7"/>
<rect x="100.46" y="220.80" width="7.85" height="2.00" fill="#6f00ff"/>
<rect x="107.31" y="220.80" width="7.85" height="2.00" fill="#0011ff"/>
<rect x="114.16" y="220.80" width="7.85" height="2.00" fill="#d500ff"/>
<rect x="121.01" y="220.80" width="7.85" height="2.00" fill="#5d00ff"/>
<rect x="127.86" y="220.80" width="7.85" height="2.00" fill="#0d00ff"/>
<rect x="134.71" y="220.80" width="7.85" height="2.00" fill="#0077ff"/>
<rect x="141.56" y="220.80" width="7.85" height="2.00" fill="#00d4ff"/>
<rect x="148.41" y="220.80" width="7.85" height="2.00" fill="#00f7ff"/>
<rect x="155.26" y="220.80" width="7.85" height="2.00" fill="#00ffdd"/>
<rect x="162.11" y="220.80" width="6.85" height="2.00" fill="#00ffd4"/>
<rect x="100.46" y="221.80" width="7.85" height="1.20" fill="#6f00ff"/>
<rect x="107.31" y="221.80" width="7.85" height="1.20" fill="#0011ff"/>
<rect x="114.16" y="221.80" width="7.85" height="1.20" fill="#d500ff"/>
<rect x="121.01" y="221.80" width="7.85" height="1.20" fill="#5d00ff"/>
<rect x="127.86" y="221.80" width="7.85" height="1.20" fill="#0d00ff"/>
<rect x="134.71" y="221.80" width="7.85" height="1.20" fill="#0077ff"/>
<rect x="141.56" y="221.80" width="7.85" height="1.20" fill="#00d4ff"/>
<rect x="148.41" y="221.80" width="7.85" height="1.20" fill="#00f7ff"/>
<rect x="155.26" y="221.80" width="7.85" height="1.20" fill="#00ffdd"/>
<rect x="162.11" y="221.80" width="6.85" height="1.20" fill="#00ffd4"/>
<rect x="100.46" y="222.00" width="7.85" height="5.00" fill="#0033ff"/>
<rect x="107.31" y="222.00" width="7.85" height="5.00" fill="#00bfff"/>
<rect x="114.16" y="222.00" width="7.85" height="5.00" fill="#0095ff"/>
<rect x="121.01" y="222.00" width="7.85" height="5.00" fill="#00d4ff"/>
<rect x="127.86" y="222.00" width="7.85" height="5.00" fill="#0015ff"/>
<rect x="134.71" y="222.00" width="7.85" height="5.00" fill="#006fff"/>
<rect x="141.56" y="222.00" width="7.85" height="5.00" fill="#00e1ff"/>
<rect x="148.41" y="222.00" width="7.85" height="5.00" fill="#00fbff"/>
<rect x="155.26" y="222.00" width="7.85" height="5.00" fill="#00ffe1"/>
<rect x="162.11" y="222.00" width="6.85" height="5.00" fill="#00ffd9"/>
<rect x="100.46" y="226.00" width="7.85" height="4.50" fill="#00a2ff"/>
<rect x="107.31" y="226.00" width="7.85" height="4.50" fill="#0091ff"/>
<rect x="114.16" y="226.00" width="7.85" height="4.50" fill="#0008ff"/>
<rect x="121.01" y="226.00" width="7.85" height="4.50" fill="#002fff"/>
<rect x="127.86" y="226.00" width="7.85" height="4.50" fill="#00a2ff"/>
<rect x="134.71" y="226.00" width="7.85" height="4.50" fill="#0080ff"/>
<rect x="141.56" y="226.00" width="7.85" height="4.50" fill="#00e1ff"/>
<rect x="148.41" y="226.00" width="7.85" height="4.50" fill="#00ffff"/>
<rect x="155.26" y="226.00" width="7.85" height="4.50" fill="#00ffea"/>
<rect x="162.11" y="226.00" width="6.85" height="4.50" fill="#00ffe1"/>
<rect x="100.46" y="229.50" width="7.85" height="5.00" fill="#0040ff"/>
<rect x="107.31" y="229.50" width="7.85" height="5.00" fill="#4000ff"/>
<rect x="114.16" y="229.50" width="7.85" height="5.00" fill="#00a2ff"/>
<rect x="121.01" y="229.50" width="7.85" height="5.00" fill="#00aaff"/>
<rect x="127.86" y="229.50" width="7.85" height="5.00" fill="#00b7ff"/>
<rect x="134.71" y="229.50" width="7.85" height="5.00" fill="#006fff"/>
<rect x="141.56" y="229.50" width="7.85" height="5.00" fill="#00d0ff"/>
<rect x="148.41" y="229.50" width="7.85" height="5.00" fill="#00ffff"/>
<rect x="155.26" y="229.50" width="7.85" height="5.00" fill="#00fff2"/>
<rect x="162.11" y="229.50" width="6.85" height="5.00" fill="#00ffee"/>
<rect x="100.46" y="233.50" width="7.85" height="5.00" fill="#00bfff"/>
<rect x="107.31" y="233.50" width="7.85" height="5.00" fill="#00d9ff"/>
<rect x="114.16" y="233.50" width="7.85" height="5.00" fill="#00ffaa"/>
<rect x="121.01" y="233.50" width="7.85" height="5.00" fill="#00ffd0"/>
<rect x="127.86" y="233.50" width="7.85" height="5.00" fill="#00d0ff"/>
<rect x="134.71" y="233.50" width="7.85" height="5.00" fill="#00a2ff"/>
<rect x="141.56" y="233.50" width="7.85" height="5.00" fill="#00d4ff"/>
<rect x="148.41" y="233.50" width="7.85" height="5.00" fill="#00fbff"/>
<rect x="155.26" y="233.50" width="7.85" height="5.00" fill="#00fff7"/>
<rect x="162.11" y="233.50" width="6.85" height="5.00" fill="#00fff7"/>
<rect x="100.46" y="237.50" width="7.85" height="3.50" fill="#0088ff"/>
<rect x="107.31" y="237.50" width="7.85" height="3.50" fill="#00aaff"/>
<rect x="114.16" y="237.50" width="7.85" height="3.50" fill="#00ffbf"/>
<rect x="121.01" y="237.50" width="7.85" height="3.50" fill="#00fff7"/>
<rect x="127.86" y="237.50" width="7.85" height="3.50" fill="#00e5ff"/>
<rect x="134.71" y="237.50" width="7.85" height="3.50" fill="#00c8ff"/>
<rect x="141.56" y="237.50" width="7.85" height="3.50" fill="#00aeff"/>
<rect x="148.41" y="237.50" width="7.85" height="3.50" fill="#00d0ff"/>
<rect x="155.26" y="237.50" width="7.85" height="3.50" fill="#00b7ff"/>
<rect x="162.11" y="237.50" width="6.85" height="3.50" fill="#00b7ff"/>
<rect x="100.46" y="240.00" width="7.85" height="8.00" fill="#00e1ff"/>
<rect x="107.31" y="240.00" width="7.85" height="8.00" fill="#00eeff"/>
<rect x="114.16" y="240.00" width="7.85" height="8.00" fill="#00ffe1"/>
<rect x="121.01" y="240.00" width="7.85" height="8.00" fill="#00ffff"/>
<rect x="127.86" y="240.00" width="7.85" height="8.00" fill="#00f7ff"/>
<rect x="134.71" y="240.00" width="7.85" height="8.00" fill="#00ffea"/>
<rect x="141.56" y="240.00" width="7.85" height="8.00" fill="#00ffff"/>
<rect x="148.41" y="240.00" width="7.85" height="8.00" fill="#00ddff"/>
<rect x="155.26" y="240.00" width="7.85" height="8.00" fill="#00d4ff"/>
<rect x="162.11" y="240.00" width="6.85" height="8.00" fill="#00d4ff"/>
<rect x="100.46" y="247.00" width="7.85" height="5.00" fill="#002fff"/>
<rect x="107.31" y="247.00" width="7.85" height="5.00" fill="#0011ff"/>
<rect x="114.16" y="247.00" width="7.85" height="5.00" fill="#0040ff"/>
<rect x="121.01" y="247.00" width="7.85" height="5.00" fill="#0091ff"/>
<rect x="127.86" y="247.00" width="7.85" height="5.00" fill="#0d00ff"/>
<rect x="134.71" y="247.00" width="7.85" height="5.00" fill="#00a2ff"/>
<rect x="141.56" y="247.00" width="7.85" height="5.00" fill="#00c8ff"/>
<rect x="148.41" y="247.00" width="7.85" height="5.00" fill="#00bfff"/>
<rect x="155.26" y="247.00" width="7.85" height="5.00" fill="#00aaff"/>
<rect x="162.11" y="247.00" width="6.85" height="5.00" fill="#00aaff"/>
<rect x="100.46" y="251.00" width="7.85" height="8.00" fill="#00ff99"/>
<rect x="107.31" y="251.00" width="7.85" height="8.00" fill="#00ffae"/>
<rect x="114.16" y="251.00" width="7.85" height="8.00" fill="#00ffa2"/>
<rect x="121.01" y="251.00" width="7.85" height="8.00" fill="#00ffe1"/>
<rect x="127.86" y="251.00" width="7.85" height="8.00" fill="#00eeff"/>
<rect x="134.71" y="251.00" width="7.85" height="8.00" fill="#00f7ff"/>
<rect x="141.56" y="251.00" width="7.85" height="8.00" fill="#00ffff"/>
<rect x="148.41" y="251.00" width="7.85" height="8.00" fill="#00e5ff"/>
<rect x="155.26" y="251.00" width="7.85" height="8.00" fill="#00e5ff"/>
<rect x="162.11" y="251.00" width="6.85" height="8.00" fill="#00e5ff"/>
<rect x="100.46" y="258.00" width="7.85" height="4.00" fill="#0022ff"/>
<rect x="107.31" y="258.00" width="7.85" height="4.00" fill="#002fff"/>
<rect x="114.16" y="258.00" width="7.85" height="4.00" fill="#0051ff"/>
<rect x="121.01" y="258.00" width="7.85" height="4.00" fill="#0040ff"/>
<rect x="127.86" y="258.00" width="7.85" height="4.00" fill="#00d0ff"/>
<rect x="134.71" y="258.00" width="7.85" height="4.00" fill="#00e1ff"/>
<rect x="141.56" y="258.00" width="7.85" height="4.00" fill="#00eaff"/>
<rect x="148.41" y="258.00" width="7.85" height="4.00" fill="#00aeff"/>
<rect x="155.26" y="258.00" width="7.85" height="4.00" fill="#0091ff"/>
<rect x="162.11" y="258.00" width="6.85" height="4.00" fill="#0091ff"/>
<rect x="100.46" y="261.00" width="7.85" height="1.60" fill="#00ffaa"/>
<rect x="107.31" y="261.00" width="7.85" height="1.60" fill="#00ffa2"/>
<rect x="114.16" y="261.00" width="7.85" height="1.60" fill="#00ffbf"/>
<rect x="121.01" y="261.00" width="7.85" height="1.60" fill="#00ffe1"/>
<rect x="127.86" y="261.00" width="7.85" height="1.60" fill="#00e1ff"/>
<rect x="134.71" y="261.00" width="7.85" height="1.60" fill="#00fbff"/>
<rect x="141.56" y="261.00" width="7.85" height="1.60" fill="#00fbff"/>
<rect x="148.41" y="261.00" width="7.85" height="1.60" fill="#00eaff"/>
<rect x="155.26" y="261.00" width="7.85" height="1.60" fill="#00d9ff"/>
<rect x="162.11" y="261.00" width="6.85" height="1.60" fill="#00d9ff"/>
<rect x="100.46" y="261.60" width="7.85" height="3.10" fill="#00ffaa"/>
<rect x="107.31" y="261.60" width="7.85" height="3.10" fill="#00ffa2"/>
<rect x="114.16" y="261.60" width="7.85" height="3.10" fill="#00ffbf"/>
<rect x="121.01" y="261.60" width="7.85" height="3.10" fill="#00ffe1"/>
<rect x="127.86" y="261.60" width="7.85" height="3.10" fill="#00e1ff"/>
<rect x="134.71" y="261.60" width="7.85" height="3.10" fill="#00fbff"/>
<rect x="141.56" y="261.60" width="7.85" height="3.10" fill="#00ccff"/>
<rect x="148.41" y="261.60" width="7.85" height="3.10" fill="#0051ff"/>
<rect x="155.26" y="261.60" width="7.85" height="3.10" fill="#0037ff"/>
<rect x="162.11" y="261.60" width="6.85" height="3.10" fill="#0037ff"/>
<rect x="100.46" y="263.70" width="7.85" height="5.80" fill="#00ffaa"/>
<rect x="107.31" y="263.70" width="7.85" height="5.80" fill="#00ffa2"/>
<rect x="114.16" y="263.70" width="7.85" height="5.80" fill="#00ffbf"/>
<rect x="121.01" y="263.70" width="7.85" height="5.80" fill="#00ffe1"/>
<rect x="127.86" y="263.70" width="7.85" height="5.80" fill="#00e1ff"/>
<rect x="134.71" y="263.70" width="7.85" height="5.80" fill="#00fbff"/>
<rect x="141.56" y="263.70" width="7.85" height="5.80" fill="#00fbff"/>
<rect x="148.41" y="263.70" width="7.85" height="5.80" fill="#00eaff"/>
<rect x="155.26" y="263.70" width="7.85" height="5.80" fill="#00d9ff"/>
<rect x="162.11" y="263.70" width="6.85" height="5.80" fill="#00d9ff"/>
<rect x="100.46" y="268.50" width="7.85" height="1.70" fill="#00e1ff"/>
<rect x="107.31" y="268.50" width="7.85" height="1.70" fill="#00ffcc"/>
<rect x="114.16" y="268.50" width="7.85" height="1.70" fill="#00ffcc"/>
<rect x="121.01" y="268.50" width="7.85" height="1.70" fill="#00f2ff"/>
<rect x="127.86" y="268.50" width="7.85" height="1.70" fill="#00f2ff"/>
<rect x="134.71" y="268.50" width="7.85" height="1.70" fill="#00f2ff"/>
<rect x="141.56" y="268.50" width="7.85" height="1.70" fill="#00f2ff"/>
<rect x="148.41" y="268.50" width="7.85" height="1.70" fill="#00f2ff"/>
<rect x="155.26" y="268.50" width="7.85" height="1.70" fill="#00f2ff"/>
<rect x="162.11" y="268.50" width="6.85" height="1.70" fill="#00f2ff"/>
<rect x="100.46" y="269.20" width="7.85" height="2.05" fill="#0041ff"/>
<rect x="107.31" y="269.20" width="7.85" height="2.05" fill="#009bff"/>
<rect x="114.16" y="269.20" width="7.85" height="2.05" fill="#00a5ff"/>
<rect x="121.01" y="269.20" width="7.85" height="2.05" fill="#00ceff"/>
<rect x="127.86" y="269.20" width="7.85" height="2.05" fill="#00cdff"/>
<rect x="134.71" y="269.20" width="7.85" height="2.05" fill="#00d5ff"/>
<rect x="141.56" y="269.20" width="7.85" height="2.05" fill="#00ceff"/>
<rect x="148.41" y="269.20" width="7.85" height="2.05" fill="#0090ff"/>
<rect x="155.26" y="269.20" width="7.85" height="2.05" fill="#002bff"/>
<rect x="162.11" y="269.20" width="6.85" height="2.05" fill="#003aff"/>
<rect x="100.46" y="270.25" width="7.85" height="2.05" fill="#0052ff"/>
<rect x="107.31" y="270.25" width="7.85" height="2.05" fill="#00a5ff"/>
<rect x="114.16" y="270.25" width="7.85" height="2.05" fill="#00a7ff"/>
<rect x="121.01" y="270.25" width="7.85" height="2.05" fill="#00e0ff"/>
<rect x="127.86" y="270.25" width="7.85" height="2.05" fill="#00ccff"/>
<rect x="134.71" y="270.25" width="7.85" height="2.05" fill="#00ccff"/>
<rect x="141.56" y="270.25" width="7.85" height="2.05" fill="#00d3ff"/>
<rect x="148.41" y="270.25" width="7.85" height="2.05" fill="#0098ff"/>
<rect x="155.26" y="270.25" width="7.85" height="2.05" fill="#0040ff"/>
<rect x="162.11" y="270.25" width="6.85" height="2.05" fill="#0043ff"/>
<rect x="100.46" y="271.30" width="7.85" height="2.30" fill="#00f7ff"/>
<rect x="107.31" y="271.30" width="7.85" height="2.30" fill="#00ffbf"/>
<rect x="114.16" y="271.30" width="7.85" height="2.30" fill="#00ffbf"/>
<rect x="121.01" y="271.30" width="7.85" height="2.30" fill="#00f7ff"/>
<rect x="127.86" y="271.30" width="7.85" height="2.30" fill="#00f7ff"/>
<rect x="134.71" y="271.30" width="7.85" height="2.30" fill="#00f2ff"/>
<rect x="141.56" y="271.30" width="7.85" height="2.30" fill="#00f2ff"/>
<rect x="148.41" y="271.30" width="7.85" height="2.30" fill="#00f2ff"/>
<rect x="155.26" y="271.30" width="7.85" height="2.30" fill="#00f2ff"/>
<rect x="162.11" y="271.30" width="6.85" height="2.30" fill="#00f2ff"/>
<rect x="100.46" y="272.60" width="7.85" height="1.90" fill="#002aff"/>
<rect x="107.31" y="272.60" width="7.85" height="1.90" fill="#00a7ff"/>
<rect x="114.16" y="272.60" width="7.85" height="1.90" fill="#00fbff"/>
<rect x="121.01" y="272.60" width="7.85" height="1.90" fill="#00b3ff"/>
<rect x="127.86" y="272.60" width="7.85" height="1.90" fill="#007fff"/>
<rect x="134.71" y="272.60" width="7.85" height="1.90" fill="#00d0ff"/>
<rect x="141.56" y="272.60" width="7.85" height="1.90" fill="#00c8ff"/>
<rect x="148.41" y="272.60" width="7.85" height="1.90" fill="#00ceff"/>
<rect x="155.26" y="272.60" width="7.85" height="1.90" fill="#00ccff"/>
<rect x="162.11" y="272.60" width="6.85" height="1.90" fill="#00cfff"/>
<rect x="100.46" y="273.50" width="7.85" height="1.90" fill="#001bff"/>
<rect x="107.31" y="273.50" width="7.85" height="1.90" fill="#009eff"/>
<rect x="114.16" y="273.50" width="7.85" height="1.90" fill="#00e4ff"/>
<rect x="121.01" y="273.50" width="7.85" height="1.90" fill="#0097ff"/>
<rect x="127.86" y="273.50" width="7.85" height="1.90" fill="#0070ff"/>
<rect x="134.71" y="273.50" width="7.85" height="1.90" fill="#00c4ff"/>
<rect x="141.56" y="273.50" width="7.85" height="1.90" fill="#00ccff"/>
<rect x="148.41" y="273.50" width="7.85" height="1.90" fill="#00ceff"/>
<rect x="155.26" y="273.50" width="7.85" height="1.90" fill="#00ccff"/>
<rect x="162.11" y="273.50" width="6.85" height="1.90" fill="#00d1ff"/>
<rect x="100.46" y="274.40" width="7.85" height="2.00" fill="#00ffba"/>
<rect x="107.31" y="274.40" width="7.85" height="2.00" fill="#00ffb6"/>
<rect x="114.16" y="274.40" width="7.85" height="2.00" fill="#00ffd7"/>
<rect x="121.01" y="274.40" width="7.85" height="2.00" fill="#00e3ff"/>
<rect x="127.86" y="274.40" width="7.85" height="2.00" fill="#00e2ff"/>
<rect x="134.71" y="274.40" width="7.85" height="2.00" fill="#00efff"/>
<rect x="141.56" y="274.40" width="7.85" height="2.00" fill="#00ebff"/>
<rect x="148.41" y="274.40" width="7.85" height="2.00" fill="#00dcff"/>
<rect x="155.26" y="274.40" width="7.85" height="2.00" fill="#00e5ff"/>
<rect x="162.11" y="274.40" width="6.85" height="2.00" fill="#00daff"/>
<rect x="100.46" y="275.40" width="7.85" height="2.00" fill="#00ffa0"/>
<rect x="107.31" y="275.40" width="7.85" height="2.00" fill="#00ff9f"/>
<rect x="114.16" y="275.40" width="7.85" height="2.00" fill="#00ffcd"/>
<rect x="121.01" y="275.40" width="7.85" height="2.00" fill="#00fff9"/>
<rect x="127.86" y="275.40" width="7.85" height="2.00" fill="#00fff9"/>
<rect x="134.71" y="275.40" width="7.85" height="2.00" fill="#00fbff"/>
<rect x="141.56" y="275.40" width="7.85" height="2.00" fill="#00eeff"/>
<rect x="148.41" y="275.40" width="7.85" height="2.00" fill="#00f2ff"/>
<rect x="155.26" y="275.40" width="7.85" height="2.00" fill="#00fffe"/>
<rect x="162.11" y="275.40" width="6.85" height="2.00" fill="#00fdff"/>
<rect x="100.46" y="276.40" width="7.85" height="2.00" fill="#00ff91"/>
<rect x="107.31" y="276.40" width="7.85" height="2.00" fill="#00ff93"/>
<rect x="114.16" y="276.40" width="7.85" height="2.00" fill="#00ffb1"/>
<rect x="121.01" y="276.40" width="7.85" height="2.00" fill="#00fff0"/>
<rect x="127.86" y="276.40" width="7.85" height="2.00" fill="#00fff2"/>
<rect x="134.71" y="276.40" width="7.85" height="2.00" fill="#00fff1"/>
<rect x="141.56" y="276.40" width="7.85" height="2.00" fill="#00fffc"/>
<rect x="148.41" y="276.40" width="7.85" height="2.00" fill="#00fff0"/>
<rect x="155.26" y="276.40" width="7.85" height="2.00" fill="#00fffa"/>
<rect x="162.11" y="276.40" width="6.85" height="2.00" fill="#00ffef"/>
<rect x="100.46" y="277.40" width="7.85" height="1.80" fill="#00b8ff"/>
<rect x="107.31" y="277.40" width="7.85" height="1.80" fill="#00ffc3"/>
<rect x="114.16" y="277.40" width="7.85" height="1.80" fill="#00ffb4"/>
<rect x="121.01" y="277.40" width="7.85" height="1.80" fill="#00f4ff"/>
<rect x="127.86" y="277.40" width="7.85" height="1.80" fill="#00b6ff"/>
<rect x="134.71" y="277.40" width="7.85" height="1.80" fill="#00aaff"/>
<rect x="141.56" y="277.40" width="7.85" height="1.80" fill="#00f0ff"/>
<rect x="148.41" y="277.40" width="7.85" height="1.80" fill="#00ecff"/>
<rect x="155.26" y="277.40" width="7.85" height="1.80" fill="#00e2ff"/>
<rect x="162.11" y="277.40" width="6.85" height="1.80" fill="#00e7ff"/>
<rect x="100.46" y="278.20" width="7.85" height="1.80" fill="#00b8ff"/>
<rect x="107.31" y="278.20" width="7.85" height="1.80" fill="#00ffb2"/>
<rect x="114.16" y="278.20" width="7.85" height="1.80" fill="#00ff95"/>
<rect x="121.01" y="278.20" width="7.85" height="1.80" fill="#00fff9"/>
<rect x="127.86" y="278.20" width="7.85" height="1.80" fill="#00c6ff"/>
<rect x="134.71" y="278.20" width="7.85" height="1.80" fill="#00c7ff"/>
<rect x="141.56" y="278.20" width="7.85" height="1.80" fill="#00fffb"/>
<rect x="148.41" y="278.20" width="7.85" height="1.80" fill="#00fffb"/>
<rect x="155.26" y="278.20" width="7.85" height="1.80" fill="#00f8ff"/>
<rect x="162.11" y="278.20" width="6.85" height="1.80" fill="#00ffff"/>
<rect x="100.46" y="279.00" width="7.85" height="1.90" fill="#00ffc2"/>
<rect x="107.31" y="279.00" width="7.85" height="1.90" fill="#00ffa6"/>
<rect x="114.16" y="279.00" width="7.85" height="1.90" fill="#00ffb0"/>
<rect x="121.01" y="279.00" width="7.85" height="1.90" fill="#00ffd1"/>
<rect x="127.86" y="279.00" width="7.85" height="1.90" fill="#00f0ff"/>
<rect x="134.71" y="279.00" width="7.85" height="1.90" fill="#00ddff"/>
<rect x="141.56" y="279.00" width="7.85" height="1.90" fill="#00ebff"/>
<rect x="148.41" y="279.00" width="7.85" height="1.90" fill="#00ecff"/>
<rect x="155.26" y="279.00" width="7.85" height="1.90" fill="#00dcff"/>
<rect x="162.11" y="279.00" width="6.85" height="1.90" fill="#00deff"/>
<rect x="100.46" y="279.90" width="7.85" height="1.90" fill="#00ffac"/>
<rect x="107.31" y="279.90" width="7.85" height="1.90" fill="#00ff9a"/>
<rect x="114.16" y="279.90" width="7.85" height="1.90" fill="#00ff9e"/>
<rect x="121.01" y="279.90" width="7.85" height="1.90" fill="#00ffb9"/>
<rect x="127.86" y="279.90" width="7.85" height="1.90" fill="#00faff"/>
<rect x="134.71" y="279.90" width="7.85" height="1.90" fill="#00eeff"/>
<rect x="141.56" y="279.90" width="7.85" height="1.90" fill="#00f4ff"/>
<rect x="148.41" y="279.90" width="7.85" height="1.90" fill="#00f8ff"/>
<rect x="155.26" y="279.90" width="7.85" height="1.90" fill="#00ffff"/>
<rect x="162.11" y="279.90" width="6.85" height="1.90" fill="#00fffe"/>
<rect x="100.46" y="280.80" width="7.85" height="1.90" fill="#00ffd1"/>
<rect x="107.31" y="280.80" width="7.85" height="1.90" fill="#00ffbd"/>
<rect x="114.16" y="280.80" width="7.85" height="1.90" fill="#00ffb4"/>
<rect x="121.01" y="280.80" width="7.85" height="1.90" fill="#00ffea"/>
<rect x="127.86" y="280.80" width="7.85" height="1.90" fill="#00ddff"/>
<rect x="134.71" y="280.80" width="7.85" height="1.90" fill="#00d7ff"/>
<rect x="141.56" y="280.80" width="7.85" height="1.90" fill="#00d9ff"/>
<rect x="148.41" y="280.80" width="7.85" height="1.90" fill="#00cdff"/>
<rect x="155.26" y="280.80" width="7.85" height="1.90" fill="#00dbff"/>
<rect x="162.11" y="280.80" width="6.85" height="1.90" fill="#00d8ff"/>
<rect x="100.46" y="281.70" width="7.85" height="2.15" fill="#0017ff"/>
<rect x="107.31" y="281.70" width="7.85" height="2.15" fill="#0029ff"/>
<rect x="114.16" y="281.70" width="7.85" height="2.15" fill="#0092ff"/>
<rect x="121.01" y="281.70" width="7.85" height="2.15" fill="#0056ff"/>
<rect x="127.86" y="281.70" width="7.85" height="2.15" fill="#0054ff"/>
<rect x="134.71" y="281.70" width="7.85" height="2.15" fill="#0076ff"/>
<rect x="141.56" y="281.70" width="7.85" height="2.15" fill="#0064ff"/>
<rect x="148.41" y="281.70" width="7.85" height="2.15" fill="#004fff"/>
<rect x="155.26" y="281.70" width="7.85" height="2.15" fill="#0035ff"/>
<rect x="162.11" y="281.70" width="6.85" height="2.15" fill="#0033ff"/>
<rect x="100.46" y="282.85" width="7.85" height="2.15" fill="#0027ff"/>
<rect x="107.31" y="282.85" width="7.85" height="2.15" fill="#003dff"/>
<rect x="114.16" y="282.85" width="7.85" height="2.15" fill="#009aff"/>
<rect x="121.01" y="282.85" width="7.85" height="2.15" fill="#0060ff"/>
<rect x="127.86" y="282.85" width="7.85" height="2.15" fill="#004dff"/>
<rect x="134.71" y="282.85" width="7.85" height="2.15" fill="#0072ff"/>
<rect x="141.56" y="282.85" width="7.85" height="2.15" fill="#0064ff"/>
<rect x="148.41" y="282.85" width="7.85" height="2.15" fill="#0056ff"/>
<rect x="155.26" y="282.85" width="7.85" height="2.15" fill="#003dff"/>
<rect x="162.11" y="282.85" width="6.85" height="2.15" fill="#003fff"/>
<rect x="100.46" y="284.00" width="7.85" height="1.87" fill="#00dcff"/>
<rect x="107.31" y="284.00" width="7.85" height="1.87" fill="#00fff7"/>
<rect x="114.16" y="284.00" width="7.85" height="1.87" fill="#00fffd"/>
<rect x="121.01" y="284.00" width="7.85" height="1.87" fill="#00ffe9"/>
<rect x="127.86" y="284.00" width="7.85" height="1.87" fill="#00e2ff"/>
<rect x="134.71" y="284.00" width="7.85" height="1.87" fill="#00faff"/>
<rect x="141.56" y="284.00" width="7.85" height="1.87" fill="#00f5ff"/>
<rect x="148.41" y="284.00" width="7.85" height="1.87" fill="#00feff"/>
<rect x="155.26" y="284.00" width="7.85" height="1.87" fill="#00efff"/>
<rect x="162.11" y="284.00" width="6.85" height="1.87" fill="#00fffb"/>
<rect x="100.46" y="284.87" width="7.85" height="1.87" fill="#00c5ff"/>
<rect x="107.31" y="284.87" width="7.85" height="1.87" fill="#00e7ff"/>
<rect x="114.16" y="284.87" width="7.85" height="1.87" fill="#00ebff"/>
<rect x="121.01" y="284.87" width="7.85" height="1.87" fill="#00ecff"/>
<rect x="127.86" y="284.87" width="7.85" height="1.87" fill="#00c3ff"/>
<rect x="134.71" y="284.87" width="7.85" height="1.87" fill="#00d6ff"/>
<rect x="141.56" y="284.87" width="7.85" height="1.87" fill="#00e2ff"/>
<rect x="148.41" y="284.87" width="7.85" height="1.87" fill="#00dbff"/>
<rect x="155.26" y="284.87" width="7.85" height="1.87" fill="#00d6ff"/>
<rect x="162.11" y="284.87" width="6.85" height="1.87" fill="#00d7ff"/>
<rect x="100.46" y="285.73" width="7.85" height="1.87" fill="#00caff"/>
<rect x="107.31" y="285.73" width="7.85" height="1.87" fill="#00efff"/>
<rect x="114.16" y="285.73" width="7.85" height="1.87" fill="#00f5ff"/>
<rect x="121.01" y="285.73" width="7.85" height="1.87" fill="#00f4ff"/>
<rect x="127.86" y="285.73" width="7.85" height="1.87" fill="#00d3ff"/>
<rect x="134.71" y="285.73" width="7.85" height="1.87" fill="#00e4ff"/>
<rect x="141.56" y="285.73" width="7.85" height="1.87" fill="#00e3ff"/>
<rect x="148.41" y="285.73" width="7.85" height="1.87" fill="#00eeff"/>
<rect x="155.26" y="285.73" width="7.85" height="1.87" fill="#00e3ff"/>
<rect x="162.11" y="285.73" width="6.85" height="1.87" fill="#00dbff"/>
<rect x="100.46" y="286.60" width="7.85" height="1.95" fill="#0089ff"/>
<rect x="107.31" y="286.60" width="7.85" height="1.95" fill="#00e1ff"/>
<rect x="114.16" y="286.60" width="7.85" height="1.95" fill="#0016ff"/>
<rect x="121.01" y="286.60" width="7.85" height="1.95" fill="#008cff"/>
<rect x="127.86" y="286.60" width="7.85" height="1.95" fill="#002eff"/>
<rect x="134.71" y="286.60" width="7.85" height="1.95" fill="#0094ff"/>
<rect x="141.56" y="286.60" width="7.85" height="1.95" fill="#00a4ff"/>
<rect x="148.41" y="286.60" width="7.85" height="1.95" fill="#0038ff"/>
<rect x="155.26" y="286.60" width="7.85" height="1.95" fill="#0036ff"/>
<rect x="162.11" y="286.60" width="6.85" height="1.95" fill="#002aff"/>
<rect x="100.46" y="287.55" width="7.85" height="1.95" fill="#00a8ff"/>
<rect x="107.31" y="287.55" width="7.85" height="1.95" fill="#00efff"/>
<rect x="114.16" y="287.55" width="7.85" height="1.95" fill="#0030ff"/>
<rect x="121.01" y="287.55" width="7.85" height="1.95" fill="#00a0ff"/>
<rect x="127.86" y="287.55" width="7.85" height="1.95" fill="#0038ff"/>
<rect x="134.71" y="287.55" width="7.85" height="1.95" fill="#00b4ff"/>
<rect x="141.56" y="287.55" width="7.85" height="1.95" fill="#00baff"/>
<rect x="148.41" y="287.55" width="7.85" height="1.95" fill="#0056ff"/>
<rect x="155.26" y="287.55" width="7.85" height="1.95" fill="#003dff"/>
<rect x="162.11" y="287.55" width="6.85" height="1.95" fill="#0047ff"/>
<rect x="100.46" y="288.50" width="7.85" height="2.50" fill="#006fff"/>
<rect x="107.31" y="288.50" width="7.85" height="2.50" fill="#00aeff"/>
<rect x="114.16" y="288.50" width="7.85" height="2.50" fill="#00bfff"/>
<rect x="121.01" y="288.50" width="7.85" height="2.50" fill="#00bfff"/>
<rect x="127.86" y="288.50" width="7.85" height="2.50" fill="#00bfff"/>
<rect x="134.71" y="288.50" width="7.85" height="2.50" fill="#00bfff"/>
<rect x="141.56" y="288.50" width="7.85" height="2.50" fill="#00bfff"/>
<rect x="148.41" y="288.50" width="7.85" height="2.50" fill="#00bfff"/>
<rect x="155.26" y="288.50" width="7.85" height="2.50" fill="#00bfff"/>
<rect x="162.11" y="288.50" width="6.85" height="2.50" fill="#00bfff"/>
<rect x="100.46" y="290.00" width="7.85" height="1.90" fill="#ff00c7"/>
<rect x="107.31" y="290.00" width="7.85" height="1.90" fill="#d000ff"/>
<rect x="114.16" y="290.00" width="7.85" height="1.90" fill="#7e00ff"/>
<rect x="121.01" y="290.00" width="7.85" height="1.90" fill="#9c00eb"/>
<rect x="127.86" y="290.00" width="7.85" height="1.90" fill="#7600f2"/>
<rect x="134.71" y="290.00" width="7.85" height="1.90" fill="#7200ff"/>
<rect x="141.56" y="290.00" width="7.85" height="1.90" fill="#5700ff"/>
<rect x="148.41" y="290.00" width="7.85" height="1.90" fill="#6d00ff"/>
<rect x="155.26" y="290.00" width="7.85" height="1.90" fill="#7500ff"/>
<rect x="162.11" y="290.00" width="6.85" height="1.90" fill="#6600ff"/>
<rect x="100.46" y="290.90" width="7.85" height="1.90" fill="#ff00ae"/>
<rect x="107.31" y="290.90" width="7.85" height="1.90" fill="#f200ff"/>
<rect x="114.16" y="290.90" width="7.85" height="1.90" fill="#a000ff"/>
<rect x="121.01" y="290.90" width="7.85" height="1.90" fill="#af00eb"/>
<rect x="127.86" y="290.90" width="7.85" height="1.90" fill="#9c00f2"/>
<rect x="134.71" y="290.90" width="7.85" height="1.90" fill="#9a00ff"/>
<rect x="141.56" y="290.90" width="7.85" height="1.90" fill="#8900ff"/>
<rect x="148.41" y="290.90" width="7.85" height="1.90" fill="#9700ff"/>
<rect x="155.26" y="290.90" width="7.85" height="1.90" fill="#9c00ff"/>
<rect x="162.11" y="290.90" width="6.85" height="1.90" fill="#7d00ff"/>
<rect x="100.46" y="291.80" width="7.85" height="1.90" fill="#ff00d1"/>
<rect x="107.31" y="291.80" width="7.85" height="1.90" fill="#c700ff"/>
<rect x="114.16" y="291.80" width="7.85" height="1.90" fill="#7a00ff"/>
<rect x="121.01" y="291.80" width="7.85" height="1.90" fill="#9300eb"/>
<rect x="127.86" y="291.80" width="7.85" height="1.90" fill="#7c00f2"/>
<rect x="134.71" y="291.80" width="7.85" height="1.90" fill="#6e00ff"/>
<rect x="141.56" y="291.80" width="7.85" height="1.90" fill="#5a00ff"/>
<rect x="148.41" y="291.80" width="7.85" height="1.90" fill="#7600ff"/>
<rect x="155.26" y="291.80" width="7.85" height="1.90" fill="#7900ff"/>
<rect x="162.11" y="291.80" width="6.85" height="1.90" fill="#5d00ff"/>
<rect x="100.46" y="292.70" width="7.85" height="2.15" fill="#00ffec"/>
<rect x="107.31" y="292.70" width="7.85" height="2.15" fill="#00fffe"/>
<rect x="114.16" y="292.70" width="7.85" height="2.15" fill="#00ffec"/>
<rect x="121.01" y="292.70" width="7.85" height="2.15" fill="#00d1ff"/>
<rect x="127.86" y="292.70" width="7.85" height="2.15" fill="#00c7ff"/>
<rect x="134.71" y="292.70" width="7.85" height="2.15" fill="#00eaff"/>
<rect x="141.56" y="292.70" width="7.85" height="2.15" fill="#00e0ff"/>
<rect x="148.41" y="292.70" width="7.85" height="2.15" fill="#00f0ff"/>
<rect x="155.26" y="292.70" width="7.85" height="2.15" fill="#00eeff"/>
<rect x="162.11" y="292.70" width="6.85" height="2.15" fill="#00e7ff"/>
<rect x="100.46" y="293.85" width="7.85" height="2.15" fill="#09e7f2"/>
<rect x="107.31" y="293.85" width="7.85" height="2.15" fill="#03f6dd"/>
<rect x="114.16" y="293.85" width="7.85" height="2.15" fill="#02f9d2"/>
<rect x="121.01" y="293.85" width="7.85" height="2.15" fill="#03dffb"/>
<rect x="127.86" y="293.85" width="7.85" height="2.15" fill="#02cdfe"/>
<rect x="134.71" y="293.85" width="7.85" height="2.15" fill="#02ddff"/>
<rect x="141.56" y="293.85" width="7.85" height="2.15" fill="#02d9ff"/>
<rect x="148.41" y="293.85" width="7.85" height="2.15" fill="#03d4ff"/>
<rect x="155.26" y="293.85" width="7.85" height="2.15" fill="#03cfff"/>
<rect x="162.11" y="293.85" width="6.85" height="2.15" fill="#03cdff"/>
<rect x="100.46" y="295.00" width="7.85" height="2.00" fill="#09abf4"/>
<rect x="107.31" y="295.00" width="7.85" height="2.00" fill="#03a4e7"/>
<rect x="114.16" y="295.00" width="7.85" height="2.00" fill="#02c9de"/>
<rect x="121.01" y="295.00" width="7.85" height="2.00" fill="#03b8fb"/>
<rect x="127.86" y="295.00" width="7.85" height="2.00" fill="#02affe"/>
<rect x="134.71" y="295.00" width="7.85" height="2.00" fill="#02b2ff"/>
<rect x="141.56" y="295.00" width="7.85" height="2.00" fill="#02b8ff"/>
<rect x="148.41" y="295.00" width="7.85" height="2.00" fill="#03b2ff"/>
<rect x="155.26" y="295.00" width="7.85" height="2.00" fill="#03aeff"/>
<rect x="162.11" y="295.00" width="6.85" height="2.00" fill="#03a9ff"/>
<rect x="100.46" y="296.00" width="7.85" height="2.00" fill="#09abf4"/>
<rect x="107.31" y="296.00" width="7.85" height="2.00" fill="#03a6e7"/>
<rect x="114.16" y="296.00" width="7.85" height="2.00" fill="#02cbde"/>
<rect x="121.01" y="296.00" width="7.85" height="2.00" fill="#03b2fb"/>
<rect x="127.86" y="296.00" width="7.85" height="2.00" fill="#02aefe"/>
<rect x="134.71" y="296.00" width="7.85" height="2.00" fill="#02c0ff"/>
<rect x="141.56" y="296.00" width="7.85" height="2.00" fill="#02b3ff"/>
<rect x="148.41" y="296.00" width="7.85" height="2.00" fill="#03b1ff"/>
<rect x="155.26" y="296.00" width="7.85" height="2.00" fill="#03b6ff"/>
<rect x="162.11" y="296.00" width="6.85" height="2.00" fill="#03b2ff"/>
<rect x="100.46" y="297.00" width="7.85" height="2.40" fill="#09e1f4"/>
<rect x="107.31" y="297.00" width="7.85" height="2.40" fill="#03eee7"/>
<rect x="114.16" y="297.00" width="7.85" height="2.40" fill="#02f1de"/>
<rect x="121.01" y="297.00" width="7.85" height="2.40" fill="#03d7fb"/>
<rect x="127.86" y="297.00" width="7.85" height="2.40" fill="#02d4fe"/>
<rect x="134.71" y="297.00" width="7.85" height="2.40" fill="#02cfff"/>
<rect x="141.56" y="297.00" width="7.85" height="2.40" fill="#02ceff"/>
<rect x="148.41" y="297.00" width="7.85" height="2.40" fill="#03c9ff"/>
<rect x="155.26" y="297.00" width="7.85" height="2.40" fill="#03c6ff"/>
<rect x="162.11" y="297.00" width="6.85" height="2.40" fill="#03c6ff"/>
<rect x="100.46" y="298.40" width="7.85" height="1.80" fill="#09a1f4"/>
<rect x="107.31" y="298.40" width="7.85" height="1.80" fill="#03a1e7"/>
<rect x="114.16" y="298.40" width="7.85" height="1.80" fill="#02c5de"/>
<rect x="121.01" y="298.40" width="7.85" height="1.80" fill="#03a8fb"/>
<rect x="127.86" y="298.40" width="7.85" height="1.80" fill="#029ffe"/>
<rect x="134.71" y="298.40" width="7.85" height="1.80" fill="#02b1ff"/>
<rect x="141.56" y="298.40" width="7.85" height="1.80" fill="#02abff"/>
<rect x="148.41" y="298.40" width="7.85" height="1.80" fill="#0397ff"/>
<rect x="155.26" y="298.40" width="7.85" height="1.80" fill="#0399ff"/>
<rect x="162.11" y="298.40" width="6.85" height="1.80" fill="#0392ff"/>
<rect x="100.46" y="299.20" width="7.85" height="1.80" fill="#09a0f4"/>
<rect x="107.31" y="299.20" width="7.85" height="1.80" fill="#0396e7"/>
<rect x="114.16" y="299.20" width="7.85" height="1.80" fill="#02c4de"/>
<rect x="121.01" y="299.20" width="7.85" height="1.80" fill="#03a1fb"/>
<rect x="127.86" y="299.20" width="7.85" height="1.80" fill="#0297fe"/>
<rect x="134.71" y="299.20" width="7.85" height="1.80" fill="#02abff"/>
<rect x="141.56" y="299.20" width="7.85" height="1.80" fill="#02a4ff"/>
<rect x="148.41" y="299.20" width="7.85" height="1.80" fill="#038eff"/>
<rect x="155.26" y="299.20" width="7.85" height="1.80" fill="#0392ff"/>
<rect x="162.11" y="299.20" width="6.85" height="1.80" fill="#038aff"/>
<rect x="100.46" y="300.00" width="7.85" height="1.90" fill="#09e7e1"/>
<rect x="107.31" y="300.00" width="7.85" height="1.90" fill="#03f6b3"/>
<rect x="114.16" y="300.00" width="7.85" height="1.90" fill="#02f9b4"/>
<rect x="121.01" y="300.00" width="7.85" height="1.90" fill="#03d3fb"/>
<rect x="127.86" y="300.00" width="7.85" height="1.90" fill="#02c6fe"/>
<rect x="134.71" y="300.00" width="7.85" height="1.90" fill="#02b0ff"/>
<rect x="141.56" y="300.00" width="7.85" height="1.90" fill="#02b4ff"/>
<rect x="148.41" y="300.00" width="7.85" height="1.90" fill="#03adff"/>
<rect x="155.26" y="300.00" width="7.85" height="1.90" fill="#03acff"/>
<rect x="162.11" y="300.00" width="6.85" height="1.90" fill="#03a3ff"/>
<rect x="100.46" y="300.90" width="7.85" height="1.90" fill="#09e7d1"/>
<rect x="107.31" y="300.90" width="7.85" height="1.90" fill="#03f6a7"/>
<rect x="114.16" y="300.90" width="7.85" height="1.90" fill="#02f99a"/>
<rect x="121.01" y="300.90" width="7.85" height="1.90" fill="#03eefb"/>
<rect x="127.86" y="300.90" width="7.85" height="1.90" fill="#02dffe"/>
<rect x="134.71" y="300.90" width="7.85" height="1.90" fill="#02c2ff"/>
<rect x="141.56" y="300.90" width="7.85" height="1.90" fill="#02c0ff"/>
<rect x="148.41" y="300.90" width="7.85" height="1.90" fill="#03c4ff"/>
<rect x="155.26" y="300.90" width="7.85" height="1.90" fill="#03b6ff"/>
<rect x="162.11" y="300.90" width="6.85" height="1.90" fill="#03bcff"/>
<rect x="100.46" y="301.80" width="7.85" height="2.50" fill="#09e7de"/>
<rect x="107.31" y="301.80" width="7.85" height="2.50" fill="#03f6ad"/>
<rect x="114.16" y="301.80" width="7.85" height="2.50" fill="#02f9a9"/>
<rect x="121.01" y="301.80" width="7.85" height="2.50" fill="#03dffb"/>
<rect x="127.86" y="301.80" width="7.85" height="2.50" fill="#02cffe"/>
<rect x="134.71" y="301.80" width="7.85" height="2.50" fill="#02a9ff"/>
<rect x="141.56" y="301.80" width="7.85" height="2.50" fill="#02a7ff"/>
<rect x="148.41" y="301.80" width="7.85" height="2.50" fill="#03b8ff"/>
<rect x="155.26" y="301.80" width="7.85" height="2.50" fill="#03b2ff"/>
<rect x="162.11" y="301.80" width="6.85" height="2.50" fill="#03b2ff"/>
<rect x="100.46" y="303.30" width="7.85" height="1.90" fill="#09e7e1"/>
<rect x="107.31" y="303.30" width="7.85" height="1.90" fill="#03f6b7"/>
<rect x="114.16" y="303.30" width="7.85" height="1.90" fill="#02f9b8"/>
<rect x="121.01" y="303.30" width="7.85" height="1.90" fill="#03d4fb"/>
<rect x="127.86" y="303.30" width="7.85" height="1.90" fill="#02c3fe"/>
<rect x="134.71" y="303.30" width="7.85" height="1.90" fill="#02abff"/>
<rect x="141.56" y="303.30" width="7.85" height="1.90" fill="#02abff"/>
<rect x="148.41" y="303.30" width="7.85" height="1.90" fill="#03aaff"/>
<rect x="155.26" y="303.30" width="7.85" height="1.90" fill="#03a3ff"/>
<rect x="162.11" y="303.30" width="6.85" height="1.90" fill="#03a6ff"/>
<rect x="100.46" y="304.20" width="7.85" height="1.90" fill="#09e7db"/>
<rect x="107.31" y="304.20" width="7.85" height="1.90" fill="#03f6af"/>
<rect x="114.16" y="304.20" width="7.85" height="1.90" fill="#02f9a2"/>
<rect x="121.01" y="304.20" width="7.85" height="1.90" fill="#03defb"/>
<rect x="127.86" y="304.20" width="7.85" height="1.90" fill="#02d2fe"/>
<rect x="134.71" y="304.20" width="7.85" height="1.90" fill="#02bfff"/>
<rect x="141.56" y="304.20" width="7.85" height="1.90" fill="#02bdff"/>
<rect x="148.41" y="304.20" width="7.85" height="1.90" fill="#03c4ff"/>
<rect x="155.26" y="304.20" width="7.85" height="1.90" fill="#03b5ff"/>
<rect x="162.11" y="304.20" width="6.85" height="1.90" fill="#03b6ff"/>
<rect x="100.46" y="305.10" width="7.85" height="1.90" fill="#09e7d8"/>
<rect x="107.31" y="305.10" width="7.85" height="1.90" fill="#03f6b7"/>
<rect x="114.16" y="305.10" width="7.85" height="1.90" fill="#02f9ad"/>
<rect x="121.01" y="305.10" width="7.85" height="1.90" fill="#03ddfb"/>
<rect x="127.86" y="305.10" width="7.85" height="1.90" fill="#02cdfe"/>
<rect x="134.71" y="305.10" width="7.85" height="1.90" fill="#02b7ff"/>
<rect x="141.56" y="305.10" width="7.85" height="1.90" fill="#02b6ff"/>
<rect x="148.41" y="305.10" width="7.85" height="1.90" fill="#03b7ff"/>
<rect x="155.26" y="305.10" width="7.85" height="1.90" fill="#03b4ff"/>
<rect x="162.11" y="305.10" width="6.85" height="1.90" fill="#03aeff"/>
<rect x="100.46" y="306.00" width="7.85" height="2.15" fill="#09d0f4"/>
<rect x="107.31" y="306.00" width="7.85" height="2.15" fill="#03f6cb"/>
<rect x="114.16" y="306.00" width="7.85" height="2.15" fill="#02f9b9"/>
<rect x="121.01" y="306.00" width="7.85" height="2.15" fill="#03c6fb"/>
<rect x="127.86" y="306.00" width="7.85" height="2.15" fill="#02c3fe"/>
<rect x="134.71" y="306.00" width="7.85" height="2.15" fill="#02bfff"/>
<rect x="141.56" y="306.00" width="7.85" height="2.15" fill="#02b8ff"/>
<rect x="148.41" y="306.00" width="7.85" height="2.15" fill="#03a0ff"/>
<rect x="155.26" y="306.00" width="7.85" height="2.15" fill="#03a3ff"/>
<rect x="162.11" y="306.00" width="6.85" height="2.15" fill="#03a5ff"/>
<rect x="100.46" y="307.15" width="7.85" height="2.15" fill="#09d8f4"/>
<rect x="107.31" y="307.15" width="7.85" height="2.15" fill="#03f6c3"/>
<rect x="114.16" y="307.15" width="7.85" height="2.15" fill="#02f9af"/>
<rect x="121.01" y="307.15" width="7.85" height="2.15" fill="#03c9fb"/>
<rect x="127.86" y="307.15" width="7.85" height="2.15" fill="#02cbfe"/>
<rect x="134.71" y="307.15" width="7.85" height="2.15" fill="#02c9ff"/>
<rect x="141.56" y="307.15" width="7.85" height="2.15" fill="#02c7ff"/>
<rect x="148.41" y="307.15" width="7.85" height="2.15" fill="#03aaff"/>
<rect x="155.26" y="307.15" width="7.85" height="2.15" fill="#03acff"/>
<rect x="162.11" y="307.15" width="6.85" height="2.15" fill="#03acff"/>
<rect x="100.46" y="308.30" width="7.85" height="1.90" fill="#06baf8"/>
<rect x="107.31" y="308.30" width="7.85" height="1.90" fill="#01b8f9"/>
<rect x="114.16" y="308.30" width="7.85" height="1.90" fill="#00f2f6"/>
<rect x="121.01" y="308.30" width="7.85" height="1.90" fill="#0198fe"/>
<rect x="127.86" y="308.30" width="7.85" height="1.90" fill="#0098ff"/>
<rect x="134.71" y="308.30" width="7.85" height="1.90" fill="#0096ff"/>
<rect x="141.56" y="308.30" width="7.85" height="1.90" fill="#0096ff"/>
<rect x="148.41" y="308.30" width="7.85" height="1.90" fill="#0190ff"/>
<rect x="155.26" y="308.30" width="7.85" height="1.90" fill="#0190ff"/>
<rect x="162.11" y="308.30" width="6.85" height="1.90" fill="#0190ff"/>
<rect x="100.46" y="309.20" width="7.85" height="2.20" fill="#06baf8"/>
<rect x="107.31" y="309.20" width="7.85" height="2.20" fill="#01b8f9"/>
<rect x="114.16" y="309.20" width="7.85" height="2.20" fill="#00f2f6"/>
<rect x="121.01" y="309.20" width="7.85" height="2.20" fill="#0194fe"/>
<rect x="127.86" y="309.20" width="7.85" height="2.20" fill="#0093ff"/>
<rect x="134.71" y="309.20" width="7.85" height="2.20" fill="#4679ff"/>
<rect x="141.56" y="309.20" width="7.85" height="2.20" fill="#4680ff"/>
<rect x="148.41" y="309.20" width="7.85" height="2.20" fill="#a661dd"/>
<rect x="155.26" y="309.20" width="7.85" height="2.20" fill="#a660dd"/>
<rect x="162.11" y="309.20" width="6.85" height="2.20" fill="#a660dd"/>
<rect x="100.46" y="310.60" width="7.85" height="2.03" fill="#06aef8"/>
<rect x="107.31" y="310.60" width="7.85" height="2.03" fill="#0194f9"/>
<rect x="114.16" y="310.60" width="7.85" height="2.03" fill="#00b4f6"/>
<rect x="121.01" y="310.60" width="7.85" height="2.03" fill="#018efe"/>
<rect x="127.86" y="310.60" width="7.85" height="2.03" fill="#0092ff"/>
<rect x="134.71" y="310.60" width="7.85" height="2.03" fill="#009bff"/>
<rect x="141.56" y="310.60" width="7.85" height="2.03" fill="#0094ff"/>
<rect x="148.41" y="310.60" width="7.85" height="2.03" fill="#018cff"/>
<rect x="155.26" y="310.60" width="7.85" height="2.03" fill="#018cff"/>
<rect x="162.11" y="310.60" width="6.85" height="2.03" fill="#018bff"/>
<rect x="100.46" y="311.63" width="7.85" height="2.03" fill="#09bcf4"/>
<rect x="107.31" y="311.63" width="7.85" height="2.03" fill="#03b8e7"/>
<rect x="114.16" y="311.63" width="7.85" height="2.03" fill="#02c3de"/>
<rect x="121.01" y="311.63" width="7.85" height="2.03" fill="#03a7fb"/>
<rect x="127.86" y="311.63" width="7.85" height="2.03" fill="#02a6fe"/>
<rect x="134.71" y="311.63" width="7.85" height="2.03" fill="#02a3ff"/>
<rect x="141.56" y="311.63" width="7.85" height="2.03" fill="#02a5ff"/>
<rect x="148.41" y="311.63" width="7.85" height="2.03" fill="#0397ff"/>
<rect x="155.26" y="311.63" width="7.85" height="2.03" fill="#039cff"/>
<rect x="162.11" y="311.63" width="6.85" height="2.03" fill="#0395ff"/>
<rect x="100.46" y="312.67" width="7.85" height="2.03" fill="#09aff4"/>
<rect x="107.31" y="312.67" width="7.85" height="2.03" fill="#03aee7"/>
<rect x="114.16" y="312.67" width="7.85" height="2.03" fill="#02bede"/>
<rect x="121.01" y="312.67" width="7.85" height="2.03" fill="#039bfb"/>
<rect x="127.86" y="312.67" width="7.85" height="2.03" fill="#02a1fe"/>
<rect x="134.71" y="312.67" width="7.85" height="2.03" fill="#0299ff"/>
<rect x="141.56" y="312.67" width="7.85" height="2.03" fill="#0299ff"/>
<rect x="148.41" y="312.67" width="7.85" height="2.03" fill="#0398ff"/>
<rect x="155.26" y="312.67" width="7.85" height="2.03" fill="#0393ff"/>
<rect x="162.11" y="312.67" width="6.85" height="2.03" fill="#038dff"/>
<rect x="100.46" y="313.70" width="7.85" height="2.15" fill="#09d8f4"/>
<rect x="107.31" y="313.70" width="7.85" height="2.15" fill="#03f1e7"/>
<rect x="114.16" y="313.70" width="7.85" height="2.15" fill="#02f9b6"/>
<rect x="121.01" y="313.70" width="7.85" height="2.15" fill="#03c6fb"/>
<rect x="127.86" y="313.70" width="7.85" height="2.15" fill="#02ccfe"/>
<rect x="134.71" y="313.70" width="7.85" height="2.15" fill="#02bfff"/>
<rect x="141.56" y="313.70" width="7.85" height="2.15" fill="#02baff"/>
<rect x="148.41" y="313.70" width="7.85" height="2.15" fill="#03beff"/>
<rect x="155.26" y="313.70" width="7.85" height="2.15" fill="#03b9ff"/>
<rect x="162.11" y="313.70" width="6.85" height="2.15" fill="#03b2ff"/>
<rect x="100.46" y="314.85" width="7.85" height="2.15" fill="#09c1f4"/>
<rect x="107.31" y="314.85" width="7.85" height="2.15" fill="#03e6e7"/>
<rect x="114.16" y="314.85" width="7.85" height="2.15" fill="#02f9cb"/>
<rect x="121.01" y="314.85" width="7.85" height="2.15" fill="#03b2fb"/>
<rect x="127.86" y="314.85" width="7.85" height="2.15" fill="#02b3fe"/>
<rect x="134.71" y="314.85" width="7.85" height="2.15" fill="#02a7ff"/>
<rect x="141.56" y="314.85" width="7.85" height="2.15" fill="#02acff"/>
<rect x="148.41" y="314.85" width="7.85" height="2.15" fill="#03a8ff"/>
<rect x="155.26" y="314.85" width="7.85" height="2.15" fill="#03a5ff"/>
<rect x="162.11" y="314.85" width="6.85" height="2.15" fill="#03a6ff"/>
<rect x="100.46" y="316.00" width="7.85" height="1.92" fill="#09d1f4"/>
<rect x="107.31" y="316.00" width="7.85" height="1.92" fill="#03f6c2"/>
<rect x="114.16" y="316.00" width="7.85" height="1.92" fill="#02f9a9"/>
<rect x="121.01" y="316.00" width="7.85" height="1.92" fill="#03ecfb"/>
<rect x="127.86" y="316.00" width="7.85" height="1.92" fill="#02e9fe"/>
<rect x="134.71" y="316.00" width="7.85" height="1.92" fill="#02d1ff"/>
<rect x="141.56" y="316.00" width="7.85" height="1.92" fill="#02ceff"/>
<rect x="148.41" y="316.00" width="7.85" height="1.92" fill="#03cbff"/>
<rect x="155.26" y="316.00" width="7.85" height="1.92" fill="#03d2ff"/>
<rect x="162.11" y="316.00" width="6.85" height="1.92" fill="#03d3ff"/>
<rect x="100.46" y="316.92" width="7.85" height="1.92" fill="#09c9f4"/>
<rect x="107.31" y="316.92" width="7.85" height="1.92" fill="#03f6d1"/>
<rect x="114.16" y="316.92" width="7.85" height="1.92" fill="#02f9b8"/>
<rect x="121.01" y="316.92" width="7.85" height="1.92" fill="#03dcfb"/>
<rect x="127.86" y="316.92" width="7.85" height="1.92" fill="#02d8fe"/>
<rect x="134.71" y="316.92" width="7.85" height="1.92" fill="#02caff"/>
<rect x="141.56" y="316.92" width="7.85" height="1.92" fill="#02c6ff"/>
<rect x="148.41" y="316.92" width="7.85" height="1.92" fill="#03caff"/>
<rect x="155.26" y="316.92" width="7.85" height="1.92" fill="#03beff"/>
<rect x="162.11" y="316.92" width="6.85" height="1.92" fill="#03bcff"/>
<rect x="100.46" y="317.84" width="7.85" height="1.92" fill="#09daf4"/>
<rect x="107.31" y="317.84" width="7.85" height="1.92" fill="#03f6b9"/>
<rect x="114.16" y="317.84" width="7.85" height="1.92" fill="#02f9a1"/>
<rect x="121.01" y="317.84" width="7.85" height="1.92" fill="#03f2f5"/>
<rect x="127.86" y="317.84" width="7.85" height="1.92" fill="#02eff7"/>
<rect x="134.71" y="317.84" width="7.85" height="1.92" fill="#02e1ff"/>
<rect x="141.56" y="317.84" width="7.85" height="1.92" fill="#02e7ff"/>
<rect x="148.41" y="317.84" width="7.85" height="1.92" fill="#03d6ff"/>
<rect x="155.26" y="317.84" width="7.85" height="1.92" fill="#03d5ff"/>
<rect x="162.11" y="317.84" width="6.85" height="1.92" fill="#03d6ff"/>
<rect x="100.46" y="318.76" width="7.85" height="1.92" fill="#09c9f4"/>
<rect x="107.31" y="318.76" width="7.85" height="1.92" fill="#03f6ca"/>
<rect x="114.16" y="318.76" width="7.85" height="1.92" fill="#02f9b9"/>
<rect x="121.01" y="318.76" width="7.85" height="1.92" fill="#03defb"/>
<rect x="127.86" y="318.76" width="7.85" height="1.92" fill="#02d5fe"/>
<rect x="134.71" y="318.76" width="7.85" height="1.92" fill="#02c8ff"/>
<rect x="141.56" y="318.76" width="7.85" height="1.92" fill="#02ceff"/>
<rect x="148.41" y="318.76" width="7.85" height="1.92" fill="#03c1ff"/>
<rect x="155.26" y="318.76" width="7.85" height="1.92" fill="#03c0ff"/>
<rect x="162.11" y="318.76" width="6.85" height="1.92" fill="#03c0ff"/>
<rect x="100.46" y="319.68" width="7.85" height="1.92" fill="#09ccf4"/>
<rect x="107.31" y="319.68" width="7.85" height="1.92" fill="#03f6cf"/>
<rect x="114.16" y="319.68" width="7.85" height="1.92" fill="#02f9bb"/>
<rect x="121.01" y="319.68" width="7.85" height="1.92" fill="#03ddfb"/>
<rect x="127.86" y="319.68" width="7.85" height="1.92" fill="#02dafe"/>
<rect x="134.71" y="319.68" width="7.85" height="1.92" fill="#02caff"/>
<rect x="141.56" y="319.68" width="7.85" height="1.92" fill="#02cdff"/>
<rect x="148.41" y="319.68" width="7.85" height="1.92" fill="#03c4ff"/>
<rect x="155.26" y="319.68" width="7.85" height="1.92" fill="#03caff"/>
<rect x="162.11" y="319.68" width="6.85" height="1.92" fill="#03c7ff"/>
<rect x="100.46" y="320.60" width="7.85" height="1.95" fill="#09bef4"/>
<rect x="107.31" y="320.60" width="7.85" height="1.95" fill="#18b4d4"/>
<rect x="114.16" y="320.60" width="7.85" height="1.95" fill="#10c9ce"/>
<rect x="121.01" y="320.60" width="7.85" height="1.95" fill="#03b0fb"/>
<rect x="127.86" y="320.60" width="7.85" height="1.95" fill="#02acfe"/>
<rect x="134.71" y="320.60" width="7.85" height="1.95" fill="#02a4ff"/>
<rect x="141.56" y="320.60" width="7.85" height="1.95" fill="#02a0ff"/>
<rect x="148.41" y="320.60" width="7.85" height="1.95" fill="#0394ff"/>
<rect x="155.26" y="320.60" width="7.85" height="1.95" fill="#0386ff"/>
<rect x="162.11" y="320.60" width="6.85" height="1.95" fill="#0388ff"/>
<rect x="100.46" y="321.55" width="7.85" height="1.95" fill="#09b9f4"/>
<rect x="107.31" y="321.55" width="7.85" height="1.95" fill="#18acd4"/>
<rect x="114.16" y="321.55" width="7.85" height="1.95" fill="#10c7ce"/>
<rect x="121.01" y="321.55" width="7.85" height="1.95" fill="#03adfb"/>
<rect x="127.86" y="321.55" width="7.85" height="1.95" fill="#02a2fe"/>
<rect x="134.71" y="321.55" width="7.85" height="1.95" fill="#02a2ff"/>
<rect x="141.56" y="321.55" width="7.85" height="1.95" fill="#02a6ff"/>
<rect x="148.41" y="321.55" width="7.85" height="1.95" fill="#038eff"/>
<rect x="155.26" y="321.55" width="7.85" height="1.95" fill="#0383ff"/>
<rect x="162.11" y="321.55" width="6.85" height="1.95" fill="#038aff"/>
<rect x="100.46" y="322.50" width="7.85" height="1.95" fill="#09c0f4"/>
<rect x="107.31" y="322.50" width="7.85" height="1.95" fill="#18b8d4"/>
<rect x="114.16" y="322.50" width="7.85" height="1.95" fill="#10cdce"/>
<rect x="121.01" y="322.50" width="7.85" height="1.95" fill="#03b9fb"/>
<rect x="127.86" y="322.50" width="7.85" height="1.95" fill="#02aefe"/>
<rect x="134.71" y="322.50" width="7.85" height="1.95" fill="#02a7ff"/>
<rect x="141.56" y="322.50" width="7.85" height="1.95" fill="#02a4ff"/>
<rect x="148.41" y="322.50" width="7.85" height="1.95" fill="#0394ff"/>
<rect x="155.26" y="322.50" width="7.85" height="1.95" fill="#0385ff"/>
<rect x="162.11" y="322.50" width="6.85" height="1.95" fill="#038aff"/>
<rect x="100.46" y="323.45" width="7.85" height="1.95" fill="#09adf4"/>
<rect x="107.31" y="323.45" width="7.85" height="1.95" fill="#18a3d4"/>
<rect x="114.16" y="323.45" width="7.85" height="1.95" fill="#10c2ce"/>
<rect x="121.01" y="323.45" width="7.85" height="1.95" fill="#03a0fb"/>
<rect x="127.86" y="323.45" width="7.85" height="1.95" fill="#0294fe"/>
<rect x="134.71" y="323.45" width="7.85" height="1.95" fill="#02a0ff"/>
<rect x="141.56" y="323.45" width="7.85" height="1.95" fill="#028cff"/>
<rect x="148.41" y="323.45" width="7.85" height="1.95" fill="#0386ff"/>
<rect x="155.26" y="323.45" width="7.85" height="1.95" fill="#0378ff"/>
<rect x="162.11" y="323.45" width="6.85" height="1.95" fill="#037cff"/>
<rect x="100.46" y="324.40" width="7.85" height="2.10" fill="#09c5f4"/>
<rect x="107.31" y="324.40" width="7.85" height="2.10" fill="#16d4c1"/>
<rect x="114.16" y="324.40" width="7.85" height="2.10" fill="#02f9c4"/>
<rect x="121.01" y="324.40" width="7.85" height="2.10" fill="#03d3fb"/>
<rect x="127.86" y="324.40" width="7.85" height="2.10" fill="#02c0fe"/>
<rect x="134.71" y="324.40" width="7.85" height="2.10" fill="#02baff"/>
<rect x="141.56" y="324.40" width="7.85" height="2.10" fill="#02bbff"/>
<rect x="148.41" y="324.40" width="7.85" height="2.10" fill="#03b8ff"/>
<rect x="155.26" y="324.40" width="7.85" height="2.10" fill="#03b0ff"/>
<rect x="162.11" y="324.40" width="6.85" height="2.10" fill="#03b1ff"/>
<rect x="100.46" y="325.50" width="7.85" height="2.10" fill="#09c9f4"/>
<rect x="107.31" y="325.50" width="7.85" height="2.10" fill="#16d4be"/>
<rect x="114.16" y="325.50" width="7.85" height="2.10" fill="#02f9b1"/>
<rect x="121.01" y="325.50" width="7.85" height="2.10" fill="#03dcfb"/>
<rect x="127.86" y="325.50" width="7.85" height="2.10" fill="#02cdfe"/>
<rect x="134.71" y="325.50" width="7.85" height="2.10" fill="#02c6ff"/>
<rect x="141.56" y="325.50" width="7.85" height="2.10" fill="#02bdff"/>
<rect x="148.41" y="325.50" width="7.85" height="2.10" fill="#03bdff"/>
<rect x="155.26" y="325.50" width="7.85" height="2.10" fill="#03b4ff"/>
<rect x="162.11" y="325.50" width="6.85" height="2.10" fill="#03b6ff"/>
<rect x="100.46" y="326.60" width="7.85" height="1.98" fill="#09dff4"/>
<rect x="107.31" y="326.60" width="7.85" height="1.98" fill="#03f6ad"/>
<rect x="114.16" y="326.60" width="7.85" height="1.98" fill="#02f990"/>
<rect x="121.01" y="326.60" width="7.85" height="1.98" fill="#03f2fa"/>
<rect x="127.86" y="326.60" width="7.85" height="1.98" fill="#02eff6"/>
<rect x="134.71" y="326.60" width="7.85" height="1.98" fill="#02e1ff"/>
<rect x="141.56" y="326.60" width="7.85" height="1.98" fill="#02d9ff"/>
<rect x="148.41" y="326.60" width="7.85" height="1.98" fill="#03deff"/>
<rect x="155.26" y="326.60" width="7.85" height="1.98" fill="#03d7ff"/>
<rect x="162.11" y="326.60" width="6.85" height="1.98" fill="#03d1ff"/>
<rect x="100.46" y="327.58" width="7.85" height="1.97" fill="#09d5f4"/>
<rect x="107.31" y="327.58" width="7.85" height="1.97" fill="#03f6c2"/>
<rect x="114.16" y="327.58" width="7.85" height="1.97" fill="#02f9af"/>
<rect x="121.01" y="327.58" width="7.85" height="1.97" fill="#03e2fb"/>
<rect x="127.86" y="327.58" width="7.85" height="1.97" fill="#02e5fe"/>
<rect x="134.71" y="327.58" width="7.85" height="1.97" fill="#02caff"/>
<rect x="141.56" y="327.58" width="7.85" height="1.97" fill="#02caff"/>
<rect x="148.41" y="327.58" width="7.85" height="1.97" fill="#03c9ff"/>
<rect x="155.26" y="327.58" width="7.85" height="1.97" fill="#03c8ff"/>
<rect x="162.11" y="327.58" width="6.85" height="1.97" fill="#03c2ff"/>
<rect x="100.46" y="328.55" width="7.85" height="1.97" fill="#09e3f4"/>
<rect x="107.31" y="328.55" width="7.85" height="1.97" fill="#03f6ac"/>
<rect x="114.16" y="328.55" width="7.85" height="1.97" fill="#02f997"/>
<rect x="121.01" y="328.55" width="7.85" height="1.97" fill="#03f2f4"/>
<rect x="127.86" y="328.55" width="7.85" height="1.97" fill="#02effb"/>
<rect x="134.71" y="328.55" width="7.85" height="1.97" fill="#02e0ff"/>
<rect x="141.56" y="328.55" width="7.85" height="1.97" fill="#02d9ff"/>
<rect x="148.41" y="328.55" width="7.85" height="1.97" fill="#03d8ff"/>
<rect x="155.26" y="328.55" width="7.85" height="1.97" fill="#03ceff"/>
<rect x="162.11" y="328.55" width="6.85" height="1.97" fill="#03cfff"/>
<rect x="100.46" y="329.52" width="7.85" height="1.98" fill="#09d7f4"/>
<rect x="107.31" y="329.52" width="7.85" height="1.98" fill="#03f6b7"/>
<rect x="114.16" y="329.52" width="7.85" height="1.98" fill="#02f9b1"/>
<rect x="121.01" y="329.52" width="7.85" height="1.98" fill="#03defb"/>
<rect x="127.86" y="329.52" width="7.85" height="1.98" fill="#02defe"/>
<rect x="134.71" y="329.52" width="7.85" height="1.98" fill="#02cdff"/>
<rect x="141.56" y="329.52" width="7.85" height="1.98" fill="#02cdff"/>
<rect x="148.41" y="329.52" width="7.85" height="1.98" fill="#03c3ff"/>
<rect x="155.26" y="329.52" width="7.85" height="1.98" fill="#03c1ff"/>
<rect x="162.11" y="329.52" width="6.85" height="1.98" fill="#03c1ff"/>
<rect x="100.46" y="330.50" width="7.85" height="2.10" fill="#09aff4"/>
<rect x="107.31" y="330.50" width="7.85" height="2.10" fill="#03b5e7"/>
<rect x="114.16" y="330.50" width="7.85" height="2.10" fill="#14c0ce"/>
<rect x="121.01" y="330.50" width="7.85" height="2.10" fill="#03a6fb"/>
<rect x="127.86" y="330.50" width="7.85" height="2.10" fill="#02a4fe"/>
<rect x="134.71" y="330.50" width="7.85" height="2.10" fill="#02adff"/>
<rect x="141.56" y="330.50" width="7.85" height="2.10" fill="#02b6ff"/>
<rect x="148.41" y="330.50" width="7.85" height="2.10" fill="#03a5ff"/>
<rect x="155.26" y="330.50" width="7.85" height="2.10" fill="#0398ff"/>
<rect x="162.11" y="330.50" width="6.85" height="2.10" fill="#0396ff"/>
<rect x="100.46" y="331.60" width="7.85" height="2.10" fill="#09b6f4"/>
<rect x="107.31" y="331.60" width="7.85" height="2.10" fill="#03b1e7"/>
<rect x="114.16" y="331.60" width="7.85" height="2.10" fill="#14c2ce"/>
<rect x="121.01" y="331.60" width="7.85" height="2.10" fill="#03b2fb"/>
<rect x="127.86" y="331.60" width="7.85" height="2.10" fill="#02a7fe"/>
<rect x="134.71" y="331.60" width="7.85" height="2.10" fill="#02b2ff"/>
<rect x="141.56" y="331.60" width="7.85" height="2.10" fill="#02afff"/>
<rect x="148.41" y="331.60" width="7.85" height="2.10" fill="#03a1ff"/>
<rect x="155.26" y="331.60" width="7.85" height="2.10" fill="#0396ff"/>
<rect x="162.11" y="331.60" width="6.85" height="2.10" fill="#0399ff"/>
<rect x="100.46" y="332.70" width="7.85" height="2.06" fill="#09d5f4"/>
<rect x="107.31" y="332.70" width="7.85" height="2.06" fill="#03f6bf"/>
<rect x="114.16" y="332.70" width="7.85" height="2.06" fill="#02f999"/>
<rect x="121.01" y="332.70" width="7.85" height="2.06" fill="#03e9fb"/>
<rect x="127.86" y="332.70" width="7.85" height="2.06" fill="#02d0fe"/>
<rect x="134.71" y="332.70" width="7.85" height="2.06" fill="#02c6ff"/>
<rect x="141.56" y="332.70" width="7.85" height="2.06" fill="#02c3ff"/>
<rect x="148.41" y="332.70" width="7.85" height="2.06" fill="#03c5ff"/>
<rect x="155.26" y="332.70" width="7.85" height="2.06" fill="#03c0ff"/>
<rect x="162.11" y="332.70" width="6.85" height="2.06" fill="#03c1ff"/>
<rect x="100.46" y="333.76" width="7.85" height="2.06" fill="#09cef4"/>
<rect x="107.31" y="333.76" width="7.85" height="2.06" fill="#03f6cb"/>
<rect x="114.16" y="333.76" width="7.85" height="2.06" fill="#02f9b4"/>
<rect x="121.01" y="333.76" width="7.85" height="2.06" fill="#03d8fb"/>
<rect x="127.86" y="333.76" width="7.85" height="2.06" fill="#02c4fe"/>
<rect x="134.71" y="333.76" width="7.85" height="2.06" fill="#02b5ff"/>
<rect x="141.56" y="333.76" width="7.85" height="2.06" fill="#02b2ff"/>
<rect x="148.41" y="333.76" width="7.85" height="2.06" fill="#03b4ff"/>
<rect x="155.26" y="333.76" width="7.85" height="2.06" fill="#03b1ff"/>
<rect x="162.11" y="333.76" width="6.85" height="2.06" fill="#03b5ff"/>
<rect x="100.46" y="334.82" width="7.85" height="2.06" fill="#09d0f4"/>
<rect x="107.31" y="334.82" width="7.85" height="2.06" fill="#03f6c6"/>
<rect x="114.16" y="334.82" width="7.85" height="2.06" fill="#02f9b1"/>
<rect x="121.01" y="334.82" width="7.85" height="2.06" fill="#03d3fb"/>
<rect x="127.86" y="334.82" width="7.85" height="2.06" fill="#02c1fe"/>
<rect x="134.71" y="334.82" width="7.85" height="2.06" fill="#02b9ff"/>
<rect x="141.56" y="334.82" width="7.85" height="2.06" fill="#02b1ff"/>
<rect x="148.41" y="334.82" width="7.85" height="2.06" fill="#03b6ff"/>
<rect x="155.26" y="334.82" width="7.85" height="2.06" fill="#03b1ff"/>
<rect x="162.11" y="334.82" width="6.85" height="2.06" fill="#03acff"/>
<rect x="100.46" y="335.88" width="7.85" height="2.06" fill="#09dff4"/>
<rect x="107.31" y="335.88" width="7.85" height="2.06" fill="#03f6b5"/>
<rect x="114.16" y="335.88" width="7.85" height="2.06" fill="#02f999"/>
<rect x="121.01" y="335.88" width="7.85" height="2.06" fill="#03effb"/>
<rect x="127.86" y="335.88" width="7.85" height="2.06" fill="#02e1fe"/>
<rect x="134.71" y="335.88" width="7.85" height="2.06" fill="#02d2ff"/>
<rect x="141.56" y="335.88" width="7.85" height="2.06" fill="#02cbff"/>
<rect x="148.41" y="335.88" width="7.85" height="2.06" fill="#03cbff"/>
<rect x="155.26" y="335.88" width="7.85" height="2.06" fill="#03ccff"/>
<rect x="162.11" y="335.88" width="6.85" height="2.06" fill="#03c4ff"/>
<rect x="100.46" y="336.94" width="7.85" height="2.06" fill="#09cff4"/>
<rect x="107.31" y="336.94" width="7.85" height="2.06" fill="#03f6c7"/>
<rect x="114.16" y="336.94" width="7.85" height="2.06" fill="#02f9ac"/>
<rect x="121.01" y="336.94" width="7.85" height="2.06" fill="#03defb"/>
<rect x="127.86" y="336.94" width="7.85" height="2.06" fill="#02c9fe"/>
<rect x="134.71" y="336.94" width="7.85" height="2.06" fill="#02c3ff"/>
<rect x="141.56" y="336.94" width="7.85" height="2.06" fill="#02c2ff"/>
<rect x="148.41" y="336.94" width="7.85" height="2.06" fill="#03bcff"/>
<rect x="155.26" y="336.94" width="7.85" height="2.06" fill="#03b1ff"/>
<rect x="162.11" y="336.94" width="6.85" height="2.06" fill="#03b2ff"/>
<rect x="100.46" y="338.00" width="7.85" height="2.30" fill="#09d0f4"/>
<rect x="107.31" y="338.00" width="7.85" height="2.30" fill="#03f6c7"/>
<rect x="114.16" y="338.00" width="7.85" height="2.30" fill="#02f9b6"/>
<rect x="121.01" y="338.00" width="7.85" height="2.30" fill="#03cafb"/>
<rect x="127.86" y="338.00" width="7.85" height="2.30" fill="#02c7fe"/>
<rect x="134.71" y="338.00" width="7.85" height="2.30" fill="#02beff"/>
<rect x="141.56" y="338.00" width="7.85" height="2.30" fill="#02bdff"/>
<rect x="148.41" y="338.00" width="7.85" height="2.30" fill="#03b8ff"/>
<rect x="155.26" y="338.00" width="7.85" height="2.30" fill="#03b5ff"/>
<rect x="162.11" y="338.00" width="6.85" height="2.30" fill="#03b5ff"/>
<rect x="100.46" y="339.30" width="7.85" height="2.10" fill="#2fb5e4"/>
<rect x="107.31" y="339.30" width="7.85" height="2.10" fill="#03f6c7"/>
<rect x="114.16" y="339.30" width="7.85" height="2.10" fill="#02f9be"/>
<rect x="121.01" y="339.30" width="7.85" height="2.10" fill="#03c3fb"/>
<rect x="127.86" y="339.30" width="7.85" height="2.10" fill="#02c0fe"/>
<rect x="134.71" y="339.30" width="7.85" height="2.10" fill="#02bbff"/>
<rect x="141.56" y="339.30" width="7.85" height="2.10" fill="#02b9ff"/>
<rect x="148.41" y="339.30" width="7.85" height="2.10" fill="#03b5ff"/>
<rect x="155.26" y="339.30" width="7.85" height="2.10" fill="#03b2ff"/>
<rect x="162.11" y="339.30" width="6.85" height="2.10" fill="#03b2ff"/>
<rect x="100.46" y="340.40" width="7.85" height="2.10" fill="#09e7f3"/>
<rect x="107.31" y="340.40" width="7.85" height="2.10" fill="#03f6be"/>
<rect x="114.16" y="340.40" width="7.85" height="2.10" fill="#02f99a"/>
<rect x="121.01" y="340.40" width="7.85" height="2.10" fill="#03f2fa"/>
<rect x="127.86" y="340.40" width="7.85" height="2.10" fill="#02effd"/>
<rect x="134.71" y="340.40" width="7.85" height="2.10" fill="#02c7ff"/>
<rect x="141.56" y="340.40" width="7.85" height="2.10" fill="#02c1ff"/>
<rect x="148.41" y="340.40" width="7.85" height="2.10" fill="#03b9ff"/>
<rect x="155.26" y="340.40" width="7.85" height="2.10" fill="#03b9ff"/>
<rect x="162.11" y="340.40" width="6.85" height="2.10" fill="#03b6ff"/>
<rect x="100.46" y="341.50" width="7.85" height="2.10" fill="#09e3f4"/>
<rect x="107.31" y="341.50" width="7.85" height="2.10" fill="#03f6cd"/>
<rect x="114.16" y="341.50" width="7.85" height="2.10" fill="#02f9ab"/>
<rect x="121.01" y="341.50" width="7.85" height="2.10" fill="#03ebfb"/>
<rect x="127.86" y="341.50" width="7.85" height="2.10" fill="#02ebfe"/>
<rect x="134.71" y="341.50" width="7.85" height="2.10" fill="#02b9ff"/>
<rect x="141.56" y="341.50" width="7.85" height="2.10" fill="#02b7ff"/>
<rect x="148.41" y="341.50" width="7.85" height="2.10" fill="#03b2ff"/>
<rect x="155.26" y="341.50" width="7.85" height="2.10" fill="#03aaff"/>
<rect x="162.11" y="341.50" width="6.85" height="2.10" fill="#03aeff"/>
<rect x="100.46" y="342.60" width="7.85" height="2.03" fill="#09c3f4"/>
<rect x="107.31" y="342.60" width="7.85" height="2.03" fill="#16cdc4"/>
<rect x="114.16" y="342.60" width="7.85" height="2.03" fill="#02f9cc"/>
<rect x="121.01" y="342.60" width="7.85" height="2.03" fill="#03bafb"/>
<rect x="127.86" y="342.60" width="7.85" height="2.03" fill="#02b7fe"/>
<rect x="134.71" y="342.60" width="7.85" height="2.03" fill="#02adff"/>
<rect x="141.56" y="342.60" width="7.85" height="2.03" fill="#02a9ff"/>
<rect x="148.41" y="342.60" width="7.85" height="2.03" fill="#0393ff"/>
<rect x="155.26" y="342.60" width="7.85" height="2.03" fill="#0383ff"/>
<rect x="162.11" y="342.60" width="6.85" height="2.03" fill="#0389ff"/>
<rect x="100.46" y="343.63" width="7.85" height="2.03" fill="#09bff4"/>
<rect x="107.31" y="343.63" width="7.85" height="2.03" fill="#16d0c4"/>
<rect x="114.16" y="343.63" width="7.85" height="2.03" fill="#02f9c3"/>
<rect x="121.01" y="343.63" width="7.85" height="2.03" fill="#03b2fb"/>
<rect x="127.86" y="343.63" width="7.85" height="2.03" fill="#02b3fe"/>
<rect x="134.71" y="343.63" width="7.85" height="2.03" fill="#02aeff"/>
<rect x="141.56" y="343.63" width="7.85" height="2.03" fill="#02b1ff"/>
<rect x="148.41" y="343.63" width="7.85" height="2.03" fill="#0392ff"/>
<rect x="155.26" y="343.63" width="7.85" height="2.03" fill="#0380ff"/>
<rect x="162.11" y="343.63" width="6.85" height="2.03" fill="#0384ff"/>
<rect x="100.46" y="344.67" width="7.85" height="2.03" fill="#09c6f4"/>
<rect x="107.31" y="344.67" width="7.85" height="2.03" fill="#16d2c4"/>
<rect x="114.16" y="344.67" width="7.85" height="2.03" fill="#02f9c1"/>
<rect x="121.01" y="344.67" width="7.85" height="2.03" fill="#03b9fb"/>
<rect x="127.86" y="344.67" width="7.85" height="2.03" fill="#02bcfe"/>
<rect x="134.71" y="344.67" width="7.85" height="2.03" fill="#02b5ff"/>
<rect x="141.56" y="344.67" width="7.85" height="2.03" fill="#02b6ff"/>
<rect x="148.41" y="344.67" width="7.85" height="2.03" fill="#0393ff"/>
<rect x="155.26" y="344.67" width="7.85" height="2.03" fill="#038aff"/>
<rect x="162.11" y="344.67" width="6.85" height="2.03" fill="#038aff"/>
<rect x="100.46" y="345.70" width="7.85" height="2.00" fill="#09d5f4"/>
<rect x="107.31" y="345.70" width="7.85" height="2.00" fill="#03f6c3"/>
<rect x="114.16" y="345.70" width="7.85" height="2.00" fill="#02f9b1"/>
<rect x="121.01" y="345.70" width="7.85" height="2.00" fill="#03dbfb"/>
<rect x="127.86" y="345.70" width="7.85" height="2.00" fill="#02d6fe"/>
<rect x="134.71" y="345.70" width="7.85" height="2.00" fill="#02bfff"/>
<rect x="141.56" y="345.70" width="7.85" height="2.00" fill="#02aeff"/>
<rect x="148.41" y="345.70" width="7.85" height="2.00" fill="#03a5ff"/>
<rect x="155.26" y="345.70" width="7.85" height="2.00" fill="#039aff"/>
<rect x="162.11" y="345.70" width="6.85" height="2.00" fill="#0397ff"/>
<rect x="100.46" y="346.70" width="7.85" height="2.00" fill="#09e7f4"/>
<rect x="107.31" y="346.70" width="7.85" height="2.00" fill="#03f6ad"/>
<rect x="114.16" y="346.70" width="7.85" height="2.00" fill="#02f99f"/>
<rect x="121.01" y="346.70" width="7.85" height="2.00" fill="#03f0fb"/>
<rect x="127.86" y="346.70" width="7.85" height="2.00" fill="#02e5fe"/>
<rect x="134.71" y="346.70" width="7.85" height="2.00" fill="#02d4ff"/>
<rect x="141.56" y="346.70" width="7.85" height="2.00" fill="#02c0ff"/>
<rect x="148.41" y="346.70" width="7.85" height="2.00" fill="#03b6ff"/>
<rect x="155.26" y="346.70" width="7.85" height="2.00" fill="#03acff"/>
<rect x="162.11" y="346.70" width="6.85" height="2.00" fill="#03aaff"/>
<rect x="100.46" y="347.70" width="7.85" height="2.00" fill="#09e7ef"/>
<rect x="107.31" y="347.70" width="7.85" height="2.00" fill="#03f6aa"/>
<rect x="114.16" y="347.70" width="7.85" height="2.00" fill="#02f99b"/>
<rect x="121.01" y="347.70" width="7.85" height="2.00" fill="#03effb"/>
<rect x="127.86" y="347.70" width="7.85" height="2.00" fill="#02eff6"/>
<rect x="134.71" y="347.70" width="7.85" height="2.00" fill="#02daff"/>
<rect x="141.56" y="347.70" width="7.85" height="2.00" fill="#02c8ff"/>
<rect x="148.41" y="347.70" width="7.85" height="2.00" fill="#03baff"/>
<rect x="155.26" y="347.70" width="7.85" height="2.00" fill="#03b7ff"/>
<rect x="162.11" y="347.70" width="6.85" height="2.00" fill="#03b1ff"/>
<rect x="100.46" y="348.70" width="7.85" height="2.03" fill="#09daf4"/>
<rect x="107.31" y="348.70" width="7.85" height="2.03" fill="#03f6c6"/>
<rect x="114.16" y="348.70" width="7.85" height="2.03" fill="#02f9be"/>
<rect x="121.01" y="348.70" width="7.85" height="2.03" fill="#03d3fb"/>
<rect x="127.86" y="348.70" width="7.85" height="2.03" fill="#02e0fe"/>
<rect x="134.71" y="348.70" width="7.85" height="2.03" fill="#02b9ff"/>
<rect x="141.56" y="348.70" width="7.85" height="2.03" fill="#02b4ff"/>
<rect x="148.41" y="348.70" width="7.85" height="2.03" fill="#03acff"/>
<rect x="155.26" y="348.70" width="7.85" height="2.03" fill="#03aeff"/>
<rect x="162.11" y="348.70" width="6.85" height="2.03" fill="#03b1ff"/>
<rect x="100.46" y="349.73" width="7.85" height="2.03" fill="#09cef4"/>
<rect x="107.31" y="349.73" width="7.85" height="2.03" fill="#03f6d1"/>
<rect x="114.16" y="349.73" width="7.85" height="2.03" fill="#02f9cb"/>
<rect x="121.01" y="349.73" width="7.85" height="2.03" fill="#03c0fb"/>
<rect x="127.86" y="349.73" width="7.85" height="2.03" fill="#02dbfe"/>
<rect x="134.71" y="349.73" width="7.85" height="2.03" fill="#02b1ff"/>
<rect x="141.56" y="349.73" width="7.85" height="2.03" fill="#02b1ff"/>
<rect x="148.41" y="349.73" width="7.85" height="2.03" fill="#03a1ff"/>
<rect x="155.26" y="349.73" width="7.85" height="2.03" fill="#03a0ff"/>
<rect x="162.11" y="349.73" width="6.85" height="2.03" fill="#03a5ff"/>
<rect x="100.46" y="350.77" width="7.85" height="2.03" fill="#09d9f4"/>
<rect x="107.31" y="350.77" width="7.85" height="2.03" fill="#03f6c6"/>
<rect x="114.16" y="350.77" width="7.85" height="2.03" fill="#02f9c6"/>
<rect x="121.01" y="350.77" width="7.85" height="2.03" fill="#03cffb"/>
<rect x="127.86" y="350.77" width="7.85" height="2.03" fill="#02e9fe"/>
<rect x="134.71" y="350.77" width="7.85" height="2.03" fill="#02bfff"/>
<rect x="141.56" y="350.77" width="7.85" height="2.03" fill="#02b8ff"/>
<rect x="148.41" y="350.77" width="7.85" height="2.03" fill="#03b4ff"/>
<rect x="155.26" y="350.77" width="7.85" height="2.03" fill="#03acff"/>
<rect x="162.11" y="350.77" width="6.85" height="2.03" fill="#03adff"/>
<rect x="100.46" y="351.80" width="7.85" height="2.00" fill="#09c3f4"/>
<rect x="107.31" y="351.80" width="7.85" height="2.00" fill="#16d4c4"/>
<rect x="114.16" y="351.80" width="7.85" height="2.00" fill="#10eab9"/>
<rect x="121.01" y="351.80" width="7.85" height="2.00" fill="#03b7fb"/>
<rect x="127.86" y="351.80" width="7.85" height="2.00" fill="#02b7fe"/>
<rect x="134.71" y="351.80" width="7.85" height="2.00" fill="#02b2ff"/>
<rect x="141.56" y="351.80" width="7.85" height="2.00" fill="#02a9ff"/>
<rect x="148.41" y="351.80" width="7.85" height="2.00" fill="#03a0ff"/>
<rect x="155.26" y="351.80" width="7.85" height="2.00" fill="#03a6ff"/>
<rect x="162.11" y="351.80" width="6.85" height="2.00" fill="#03a3ff"/>
<rect x="100.46" y="352.80" width="7.85" height="2.00" fill="#09c7f4"/>
<rect x="107.31" y="352.80" width="7.85" height="2.00" fill="#16d4b9"/>
<rect x="114.16" y="352.80" width="7.85" height="2.00" fill="#10eab3"/>
<rect x="121.01" y="352.80" width="7.85" height="2.00" fill="#03befb"/>
<rect x="127.86" y="352.80" width="7.85" height="2.00" fill="#02c6fe"/>
<rect x="134.71" y="352.80" width="7.85" height="2.00" fill="#02c7ff"/>
<rect x="141.56" y="352.80" width="7.85" height="2.00" fill="#02bcff"/>
<rect x="148.41" y="352.80" width="7.85" height="2.00" fill="#03b2ff"/>
<rect x="155.26" y="352.80" width="7.85" height="2.00" fill="#03b7ff"/>
<rect x="162.11" y="352.80" width="6.85" height="2.00" fill="#03b2ff"/>
<rect x="100.46" y="353.80" width="7.85" height="2.00" fill="#09bff4"/>
<rect x="107.31" y="353.80" width="7.85" height="2.00" fill="#16d4c4"/>
<rect x="114.16" y="353.80" width="7.85" height="2.00" fill="#10eabc"/>
<rect x="121.01" y="353.80" width="7.85" height="2.00" fill="#03bbfb"/>
<rect x="127.86" y="353.80" width="7.85" height="2.00" fill="#02bdfe"/>
<rect x="134.71" y="353.80" width="7.85" height="2.00" fill="#02b8ff"/>
<rect x="141.56" y="353.80" width="7.85" height="2.00" fill="#02a9ff"/>
<rect x="148.41" y="353.80" width="7.85" height="2.00" fill="#03b0ff"/>
<rect x="155.26" y="353.80" width="7.85" height="2.00" fill="#03a3ff"/>
<rect x="162.11" y="353.80" width="6.85" height="2.00" fill="#03abff"/>
<rect x="100.46" y="354.80" width="7.85" height="2.03" fill="#09e0f4"/>
<rect x="107.31" y="354.80" width="7.85" height="2.03" fill="#03f6c4"/>
<rect x="114.16" y="354.80" width="7.85" height="2.03" fill="#02f9bc"/>
<rect x="121.01" y="354.80" width="7.85" height="2.03" fill="#03ebfb"/>
<rect x="127.86" y="354.80" width="7.85" height="2.03" fill="#02e8fe"/>
<rect x="134.71" y="354.80" width="7.85" height="2.03" fill="#02c2ff"/>
<rect x="141.56" y="354.80" width="7.85" height="2.03" fill="#02beff"/>
<rect x="148.41" y="354.80" width="7.85" height="2.03" fill="#03b7ff"/>
<rect x="155.26" y="354.80" width="7.85" height="2.03" fill="#03b1ff"/>
<rect x="162.11" y="354.80" width="6.85" height="2.03" fill="#03b6ff"/>
<rect x="100.46" y="355.83" width="7.85" height="2.03" fill="#09e1f4"/>
<rect x="107.31" y="355.83" width="7.85" height="2.03" fill="#03f6cc"/>
<rect x="114.16" y="355.83" width="7.85" height="2.03" fill="#02f9bc"/>
<rect x="121.01" y="355.83" width="7.85" height="2.03" fill="#03defb"/>
<rect x="127.86" y="355.83" width="7.85" height="2.03" fill="#02ddfe"/>
<rect x="134.71" y="355.83" width="7.85" height="2.03" fill="#02b7ff"/>
<rect x="141.56" y="355.83" width="7.85" height="2.03" fill="#02bdff"/>
<rect x="148.41" y="355.83" width="7.85" height="2.03" fill="#03b4ff"/>
<rect x="155.26" y="355.83" width="7.85" height="2.03" fill="#03acff"/>
<rect x="162.11" y="355.83" width="6.85" height="2.03" fill="#03b2ff"/>
<rect x="100.46" y="356.87" width="7.85" height="2.03" fill="#09e0f4"/>
<rect x="107.31" y="356.87" width="7.85" height="2.03" fill="#03f6c3"/>
<rect x="114.16" y="356.87" width="7.85" height="2.03" fill="#02f9bf"/>
<rect x="121.01" y="356.87" width="7.85" height="2.03" fill="#03e4fb"/>
<rect x="127.86" y="356.87" width="7.85" height="2.03" fill="#02e8fe"/>
<rect x="134.71" y="356.87" width="7.85" height="2.03" fill="#02bbff"/>
<rect x="141.56" y="356.87" width="7.85" height="2.03" fill="#02beff"/>
<rect x="148.41" y="356.87" width="7.85" height="2.03" fill="#03b8ff"/>
<rect x="155.26" y="356.87" width="7.85" height="2.03" fill="#03b2ff"/>
<rect x="162.11" y="356.87" width="6.85" height="2.03" fill="#03b6ff"/>
<rect x="100.46" y="357.90" width="7.85" height="2.05" fill="#09caf4"/>
<rect x="107.31" y="357.90" width="7.85" height="2.05" fill="#18c8d4"/>
<rect x="114.16" y="357.90" width="7.85" height="2.05" fill="#02f9dd"/>
<rect x="121.01" y="357.90" width="7.85" height="2.05" fill="#03c0fb"/>
<rect x="127.86" y="357.90" width="7.85" height="2.05" fill="#02b6fe"/>
<rect x="134.71" y="357.90" width="7.85" height="2.05" fill="#02b4ff"/>
<rect x="141.56" y="357.90" width="7.85" height="2.05" fill="#02aaff"/>
<rect x="148.41" y="357.90" width="7.85" height="2.05" fill="#03aaff"/>
<rect x="155.26" y="357.90" width="7.85" height="2.05" fill="#03a5ff"/>
<rect x="162.11" y="357.90" width="6.85" height="2.05" fill="#03aaff"/>
<rect x="100.46" y="358.95" width="7.85" height="2.05" fill="#09c2f4"/>
<rect x="107.31" y="358.95" width="7.85" height="2.05" fill="#18c2d4"/>
<rect x="114.16" y="358.95" width="7.85" height="2.05" fill="#02ecde"/>
<rect x="121.01" y="358.95" width="7.85" height="2.05" fill="#03aafb"/>
<rect x="127.86" y="358.95" width="7.85" height="2.05" fill="#02a7fe"/>
<rect x="134.71" y="358.95" width="7.85" height="2.05" fill="#02a7ff"/>
<rect x="141.56" y="358.95" width="7.85" height="2.05" fill="#02a2ff"/>
<rect x="148.41" y="358.95" width="7.85" height="2.05" fill="#0398ff"/>
<rect x="155.26" y="358.95" width="7.85" height="2.05" fill="#0398ff"/>
<rect x="162.11" y="358.95" width="6.85" height="2.05" fill="#039eff"/>
<rect x="100.46" y="360.00" width="7.85" height="2.00" fill="#09c6f4"/>
<rect x="107.31" y="360.00" width="7.85" height="2.00" fill="#03eee7"/>
<rect x="114.16" y="360.00" width="7.85" height="2.00" fill="#02f9d1"/>
<rect x="121.01" y="360.00" width="7.85" height="2.00" fill="#03bbfb"/>
<rect x="127.86" y="360.00" width="7.85" height="2.00" fill="#02b7fe"/>
<rect x="134.71" y="360.00" width="7.85" height="2.00" fill="#02b0ff"/>
<rect x="141.56" y="360.00" width="7.85" height="2.00" fill="#02aeff"/>
<rect x="148.41" y="360.00" width="7.85" height="2.00" fill="#03aaff"/>
<rect x="155.26" y="360.00" width="7.85" height="2.00" fill="#03a7ff"/>
<rect x="162.11" y="360.00" width="6.85" height="2.00" fill="#03a7ff"/>
<rect x="100.46" y="361.00" width="7.85" height="2.40" fill="#4095f0"/>
<rect x="107.31" y="361.00" width="7.85" height="2.40" fill="#4cb7cf"/>
<rect x="114.16" y="361.00" width="7.85" height="2.40" fill="#4fc8d4"/>
<rect x="121.01" y="361.00" width="7.85" height="2.40" fill="#2f90fe"/>
<rect x="127.86" y="361.00" width="7.85" height="2.40" fill="#2e90ff"/>
<rect x="134.71" y="361.00" width="7.85" height="2.40" fill="#5c7dff"/>
<rect x="141.56" y="361.00" width="7.85" height="2.40" fill="#5c7dff"/>
<rect x="148.41" y="361.00" width="7.85" height="2.40" fill="#5d73ff"/>
<rect x="155.26" y="361.00" width="7.85" height="2.40" fill="#5d72ff"/>
<rect x="162.11" y="361.00" width="6.85" height="2.40" fill="#5d72ff"/>
<rect x="100.46" y="362.40" width="7.85" height="1.90" fill="#06eff3"/>
<rect x="107.31" y="362.40" width="7.85" height="1.90" fill="#01fd9c"/>
<rect x="114.16" y="362.40" width="7.85" height="1.90" fill="#00fe94"/>
<rect x="121.01" y="362.40" width="7.85" height="1.90" fill="#01fcf5"/>
<rect x="127.86" y="362.40" width="7.85" height="1.90" fill="#00f4ff"/>
<rect x="134.71" y="362.40" width="7.85" height="1.90" fill="#00d9ff"/>
<rect x="141.56" y="362.40" width="7.85" height="1.90" fill="#00d8ff"/>
<rect x="148.41" y="362.40" width="7.85" height="1.90" fill="#01d4ff"/>
<rect x="155.26" y="362.40" width="7.85" height="1.90" fill="#01d0ff"/>
<rect x="162.11" y="362.40" width="6.85" height="1.90" fill="#01d0ff"/>
<rect x="100.46" y="363.30" width="7.85" height="1.90" fill="#09e5f4"/>
<rect x="107.31" y="363.30" width="7.85" height="1.90" fill="#03f6b0"/>
<rect x="114.16" y="363.30" width="7.85" height="1.90" fill="#02f99a"/>
<rect x="121.01" y="363.30" width="7.85" height="1.90" fill="#03effb"/>
<rect x="127.86" y="363.30" width="7.85" height="1.90" fill="#02e8fe"/>
<rect x="134.71" y="363.30" width="7.85" height="1.90" fill="#02c8ff"/>
<rect x="141.56" y="363.30" width="7.85" height="1.90" fill="#02c9ff"/>
<rect x="148.41" y="363.30" width="7.85" height="1.90" fill="#03c6ff"/>
<rect x="155.26" y="363.30" width="7.85" height="1.90" fill="#03c4ff"/>
<rect x="162.11" y="363.30" width="6.85" height="1.90" fill="#03cbff"/>
<rect x="100.46" y="364.20" width="7.85" height="1.90" fill="#09e6f4"/>
<rect x="107.31" y="364.20" width="7.85" height="1.90" fill="#03f6b2"/>
<rect x="114.16" y="364.20" width="7.85" height="1.90" fill="#02f99a"/>
<rect x="121.01" y="364.20" width="7.85" height="1.90" fill="#03f0fb"/>
<rect x="127.86" y="364.20" width="7.85" height="1.90" fill="#02ecfe"/>
<rect x="134.71" y="364.20" width="7.85" height="1.90" fill="#02ccff"/>
<rect x="141.56" y="364.20" width="7.85" height="1.90" fill="#02caff"/>
<rect x="148.41" y="364.20" width="7.85" height="1.90" fill="#03c8ff"/>
<rect x="155.26" y="364.20" width="7.85" height="1.90" fill="#03cbff"/>
<rect x="162.11" y="364.20" width="6.85" height="1.90" fill="#03c3ff"/>
<rect x="100.46" y="365.10" width="7.85" height="1.90" fill="#09d8f4"/>
<rect x="107.31" y="365.10" width="7.85" height="1.90" fill="#03f6c0"/>
<rect x="114.16" y="365.10" width="7.85" height="1.90" fill="#02f9b1"/>
<rect x="121.01" y="365.10" width="7.85" height="1.90" fill="#03e2fb"/>
<rect x="127.86" y="365.10" width="7.85" height="1.90" fill="#02d7fe"/>
<rect x="134.71" y="365.10" width="7.85" height="1.90" fill="#02b7ff"/>
<rect x="141.56" y="365.10" width="7.85" height="1.90" fill="#02bcff"/>
<rect x="148.41" y="365.10" width="7.85" height="1.90" fill="#03b5ff"/>
<rect x="155.26" y="365.10" width="7.85" height="1.90" fill="#03b0ff"/>
<rect x="162.11" y="365.10" width="6.85" height="1.90" fill="#03b9ff"/>
<rect x="100.46" y="366.00" width="7.85" height="2.00" fill="#0fcde6"/>
<rect x="107.31" y="366.00" width="7.85" height="2.00" fill="#06e4be"/>
<rect x="114.16" y="366.00" width="7.85" height="2.00" fill="#03eeaa"/>
<rect x="121.01" y="366.00" width="7.85" height="2.00" fill="#06cbf0"/>
<rect x="127.86" y="366.00" width="7.85" height="2.00" fill="#03bffc"/>
<rect x="134.71" y="366.00" width="7.85" height="2.00" fill="#03a9ff"/>
<rect x="141.56" y="366.00" width="7.85" height="2.00" fill="#03a6ff"/>
<rect x="148.41" y="366.00" width="7.85" height="2.00" fill="#0693ff"/>
<rect x="155.26" y="366.00" width="7.85" height="2.00" fill="#068dff"/>
<rect x="162.11" y="366.00" width="6.85" height="2.00" fill="#068dff"/>
<rect x="100.46" y="367.00" width="7.85" height="2.00" fill="#0fcbe6"/>
<rect x="107.31" y="367.00" width="7.85" height="2.00" fill="#06e4c1"/>
<rect x="114.16" y="367.00" width="7.85" height="2.00" fill="#03eead"/>
<rect x="121.01" y="367.00" width="7.85" height="2.00" fill="#06c8f0"/>
<rect x="127.86" y="367.00" width="7.85" height="2.00" fill="#03bcfc"/>
<rect x="134.71" y="367.00" width="7.85" height="2.00" fill="#03a6ff"/>
<rect x="141.56" y="367.00" width="7.85" height="2.00" fill="#03a3ff"/>
<rect x="148.41" y="367.00" width="7.85" height="2.00" fill="#0690ff"/>
<rect x="155.26" y="367.00" width="7.85" height="2.00" fill="#068aff"/>
<rect x="162.11" y="367.00" width="6.85" height="2.00" fill="#068aff"/>
<rect x="100.46" y="368.00" width="7.85" height="2.00" fill="#0fcae6"/>
<rect x="107.31" y="368.00" width="7.85" height="2.00" fill="#06e4c2"/>
<rect x="114.16" y="368.00" width="7.85" height="2.00" fill="#03eeae"/>
<rect x="121.01" y="368.00" width="7.85" height="2.00" fill="#06adf6"/>
<rect x="127.86" y="368.00" width="7.85" height="2.00" fill="#03a7fc"/>
<rect x="134.71" y="368.00" width="7.85" height="2.00" fill="#03a0ff"/>
<rect x="141.56" y="368.00" width="7.85" height="2.00" fill="#039dff"/>
<rect x="148.41" y="368.00" width="7.85" height="2.00" fill="#0691ff"/>
<rect x="155.26" y="368.00" width="7.85" height="2.00" fill="#068eff"/>
<rect x="162.11" y="368.00" width="6.85" height="2.00" fill="#068eff"/>
<rect x="100.46" y="369.00" width="7.85" height="2.00" fill="#0fc8e6"/>
<rect x="107.31" y="369.00" width="7.85" height="2.00" fill="#06e4c5"/>
<rect x="114.16" y="369.00" width="7.85" height="2.00" fill="#03eeb2"/>
<rect x="121.01" y="369.00" width="7.85" height="2.00" fill="#06adf6"/>
<rect x="127.86" y="369.00" width="7.85" height="2.00" fill="#03a7fc"/>
<rect x="134.71" y="369.00" width="7.85" height="2.00" fill="#03a0ff"/>
<rect x="141.56" y="369.00" width="7.85" height="2.00" fill="#039dff"/>
<rect x="148.41" y="369.00" width="7.85" height="2.00" fill="#0691ff"/>
<rect x="155.26" y="369.00" width="7.85" height="2.00" fill="#068eff"/>
<rect x="162.11" y="369.00" width="6.85" height="2.00" fill="#068eff"/>
<rect x="100.46" y="370.00" width="7.85" height="2.00" fill="#0fcbe6"/>
<rect x="107.31" y="370.00" width="7.85" height="2.00" fill="#06e4c1"/>
<rect x="114.16" y="370.00" width="7.85" height="2.00" fill="#03eead"/>
<rect x="121.01" y="370.00" width="7.85" height="2.00" fill="#06c8f0"/>
<rect x="127.86" y="370.00" width="7.85" height="2.00" fill="#03bcfc"/>
<rect x="134.71" y="370.00" width="7.85" height="2.00" fill="#03a6ff"/>
<rect x="141.56" y="370.00" width="7.85" height="2.00" fill="#03a3ff"/>
<rect x="148.41" y="370.00" width="7.85" height="2.00" fill="#0690ff"/>
<rect x="155.26" y="370.00" width="7.85" height="2.00" fill="#068aff"/>
<rect x="162.11" y="370.00" width="6.85" height="2.00" fill="#068aff"/>
<rect x="100.46" y="371.00" width="7.85" height="2.00" fill="#0fc8e6"/>
<rect x="107.31" y="371.00" width="7.85" height="2.00" fill="#06e4c5"/>
<rect x="114.16" y="371.00" width="7.85" height="2.00" fill="#03eeb2"/>
<rect x="121.01" y="371.00" width="7.85" height="2.00" fill="#06c3f0"/>
<rect x="127.86" y="371.00" width="7.85" height="2.00" fill="#03b8fc"/>
<rect x="134.71" y="371.00" width="7.85" height="2.00" fill="#03a2ff"/>
<rect x="141.56" y="371.00" width="7.85" height="2.00" fill="#039eff"/>
<rect x="148.41" y="371.00" width="7.85" height="2.00" fill="#068bff"/>
<rect x="155.26" y="371.00" width="7.85" height="2.00" fill="#0686ff"/>
<rect x="162.11" y="371.00" width="6.85" height="2.00" fill="#0686ff"/>
<rect x="100.46" y="372.00" width="7.85" height="2.00" fill="#0fd6e6"/>
<rect x="107.31" y="372.00" width="7.85" height="2.00" fill="#06e4b0"/>
<rect x="114.16" y="372.00" width="7.85" height="2.00" fill="#03ee9c"/>
<rect x="121.01" y="372.00" width="7.85" height="2.00" fill="#06d9f0"/>
<rect x="127.86" y="372.00" width="7.85" height="2.00" fill="#03cefc"/>
<rect x="134.71" y="372.00" width="7.85" height="2.00" fill="#03b8ff"/>
<rect x="141.56" y="372.00" width="7.85" height="2.00" fill="#03b5ff"/>
<rect x="148.41" y="372.00" width="7.85" height="2.00" fill="#06a2ff"/>
<rect x="155.26" y="372.00" width="7.85" height="2.00" fill="#069dff"/>
<rect x="162.11" y="372.00" width="6.85" height="2.00" fill="#069dff"/>
<rect x="100.46" y="373.00" width="7.85" height="2.00" fill="#0cc2f1"/>
<rect x="107.31" y="373.00" width="7.85" height="2.00" fill="#14cfd7"/>
<rect x="114.16" y="373.00" width="7.85" height="2.00" fill="#11dcd0"/>
<rect x="121.01" y="373.00" width="7.85" height="2.00" fill="#06bff6"/>
<rect x="127.86" y="373.00" width="7.85" height="2.00" fill="#03b8fc"/>
<rect x="134.71" y="373.00" width="7.85" height="2.00" fill="#039aff"/>
<rect x="141.56" y="373.00" width="7.85" height="2.00" fill="#0397ff"/>
<rect x="148.41" y="373.00" width="7.85" height="2.00" fill="#0685ff"/>
<rect x="155.26" y="373.00" width="7.85" height="2.00" fill="#0682ff"/>
<rect x="162.11" y="373.00" width="6.85" height="2.00" fill="#0682ff"/>
<rect x="100.46" y="374.00" width="7.85" height="2.00" fill="#0cc2f1"/>
<rect x="107.31" y="374.00" width="7.85" height="2.00" fill="#14cfd7"/>
<rect x="114.16" y="374.00" width="7.85" height="2.00" fill="#11dcd0"/>
<rect x="121.01" y="374.00" width="7.85" height="2.00" fill="#06bff6"/>
<rect x="127.86" y="374.00" width="7.85" height="2.00" fill="#03b8fc"/>
<rect x="134.71" y="374.00" width="7.85" height="2.00" fill="#039aff"/>
<rect x="141.56" y="374.00" width="7.85" height="2.00" fill="#0397ff"/>
<rect x="148.41" y="374.00" width="7.85" height="2.00" fill="#0685ff"/>
<rect x="155.26" y="374.00" width="7.85" height="2.00" fill="#0682ff"/>
<rect x="162.11" y="374.00" width="6.85" height="2.00" fill="#0682ff"/>
<rect x="100.46" y="375.00" width="7.85" height="2.00" fill="#0cc2f1"/>
<rect x="107.31" y="375.00" width="7.85" height="2.00" fill="#14cfd7"/>
<rect x="114.16" y="375.00" width="7.85" height="2.00" fill="#11dcd0"/>
<rect x="121.01" y="375.00" width="7.85" height="2.00" fill="#06bff6"/>
<rect x="127.86" y="375.00" width="7.85" height="2.00" fill="#03b8fc"/>
<rect x="134.71" y="375.00" width="7.85" height="2.00" fill="#039aff"/>
<rect x="141.56" y="375.00" width="7.85" height="2.00" fill="#0397ff"/>
<rect x="148.41" y="375.00" width="7.85" height="2.00" fill="#0685ff"/>
<rect x="155.26" y="375.00" width="7.85" height="2.00" fill="#0682ff"/>
<rect x="162.11" y="375.00" width="6.85" height="2.00" fill="#0682ff"/>
<rect x="100.46" y="376.00" width="7.85" height="2.00" fill="#0fc8e6"/>
<rect x="107.31" y="376.00" width="7.85" height="2.00" fill="#06e4c4"/>
<rect x="114.16" y="376.00" width="7.85" height="2.00" fill="#03eeb1"/>
<rect x="121.01" y="376.00" width="7.85" height="2.00" fill="#06c4f0"/>
<rect x="127.86" y="376.00" width="7.85" height="2.00" fill="#03b8fc"/>
<rect x="134.71" y="376.00" width="7.85" height="2.00" fill="#03a2ff"/>
<rect x="141.56" y="376.00" width="7.85" height="2.00" fill="#039fff"/>
<rect x="148.41" y="376.00" width="7.85" height="2.00" fill="#068cff"/>
<rect x="155.26" y="376.00" width="7.85" height="2.00" fill="#0686ff"/>
<rect x="162.11" y="376.00" width="6.85" height="2.00" fill="#0686ff"/>
<rect x="100.46" y="377.00" width="7.85" height="2.00" fill="#0fd5e6"/>
<rect x="107.31" y="377.00" width="7.85" height="2.00" fill="#06e4b2"/>
<rect x="114.16" y="377.00" width="7.85" height="2.00" fill="#03ee9e"/>
<rect x="121.01" y="377.00" width="7.85" height="2.00" fill="#06d7f0"/>
<rect x="127.86" y="377.00" width="7.85" height="2.00" fill="#03ccfc"/>
<rect x="134.71" y="377.00" width="7.85" height="2.00" fill="#03b6ff"/>
<rect x="141.56" y="377.00" width="7.85" height="2.00" fill="#03b3ff"/>
<rect x="148.41" y="377.00" width="7.85" height="2.00" fill="#06a0ff"/>
<rect x="155.26" y="377.00" width="7.85" height="2.00" fill="#069aff"/>
<rect x="162.11" y="377.00" width="6.85" height="2.00" fill="#069aff"/>
<rect x="100.46" y="378.00" width="7.85" height="2.00" fill="#0cb3e6"/>
<rect x="107.31" y="378.00" width="7.85" height="2.00" fill="#06e4ba"/>
<rect x="114.16" y="378.00" width="7.85" height="2.00" fill="#03eea6"/>
<rect x="121.01" y="378.00" width="7.85" height="2.00" fill="#06cef0"/>
<rect x="127.86" y="378.00" width="7.85" height="2.00" fill="#03c3fc"/>
<rect x="134.71" y="378.00" width="7.85" height="2.00" fill="#03adff"/>
<rect x="141.56" y="378.00" width="7.85" height="2.00" fill="#03aaff"/>
<rect x="148.41" y="378.00" width="7.85" height="2.00" fill="#0691ff"/>
<rect x="155.26" y="378.00" width="7.85" height="2.00" fill="#068eff"/>
<rect x="162.11" y="378.00" width="6.85" height="2.00" fill="#068eff"/>
<rect x="100.46" y="379.00" width="7.85" height="2.00" fill="#0cb3e6"/>
<rect x="107.31" y="379.00" width="7.85" height="2.00" fill="#06e4b5"/>
<rect x="114.16" y="379.00" width="7.85" height="2.00" fill="#03eea1"/>
<rect x="121.01" y="379.00" width="7.85" height="2.00" fill="#06d4f0"/>
<rect x="127.86" y="379.00" width="7.85" height="2.00" fill="#03c8fc"/>
<rect x="134.71" y="379.00" width="7.85" height="2.00" fill="#03b3ff"/>
<rect x="141.56" y="379.00" width="7.85" height="2.00" fill="#03b0ff"/>
<rect x="148.41" y="379.00" width="7.85" height="2.00" fill="#0691ff"/>
<rect x="155.26" y="379.00" width="7.85" height="2.00" fill="#068eff"/>
<rect x="162.11" y="379.00" width="6.85" height="2.00" fill="#068eff"/>
<rect x="100.46" y="380.00" width="7.85" height="2.00" fill="#0cb3e6"/>
<rect x="107.31" y="380.00" width="7.85" height="2.00" fill="#06e4bc"/>
<rect x="114.16" y="380.00" width="7.85" height="2.00" fill="#03eea8"/>
<rect x="121.01" y="380.00" width="7.85" height="2.00" fill="#06ccf0"/>
<rect x="127.86" y="380.00" width="7.85" height="2.00" fill="#03c1fc"/>
<rect x="134.71" y="380.00" width="7.85" height="2.00" fill="#03abff"/>
<rect x="141.56" y="380.00" width="7.85" height="2.00" fill="#03a8ff"/>
<rect x="148.41" y="380.00" width="7.85" height="2.00" fill="#0691ff"/>
<rect x="155.26" y="380.00" width="7.85" height="2.00" fill="#068eff"/>
<rect x="162.11" y="380.00" width="6.85" height="2.00" fill="#068eff"/>
<rect x="100.46" y="381.00" width="7.85" height="2.00" fill="#0fcde6"/>
<rect x="107.31" y="381.00" width="7.85" height="2.00" fill="#06e4bc"/>
<rect x="114.16" y="381.00" width="7.85" height="2.00" fill="#03eea9"/>
<rect x="121.01" y="381.00" width="7.85" height="2.00" fill="#06ccf0"/>
<rect x="127.86" y="381.00" width="7.85" height="2.00" fill="#03c0fc"/>
<rect x="134.71" y="381.00" width="7.85" height="2.00" fill="#03abff"/>
<rect x="141.56" y="381.00" width="7.85" height="2.00" fill="#03a7ff"/>
<rect x="148.41" y="381.00" width="7.85" height="2.00" fill="#0694ff"/>
<rect x="155.26" y="381.00" width="7.85" height="2.00" fill="#068eff"/>
<rect x="162.11" y="381.00" width="6.85" height="2.00" fill="#068eff"/>
<rect x="100.46" y="382.00" width="7.85" height="2.00" fill="#0cbcf1"/>
<rect x="107.31" y="382.00" width="7.85" height="2.00" fill="#14d2cf"/>
<rect x="114.16" y="382.00" width="7.85" height="2.00" fill="#03ee9c"/>
<rect x="121.01" y="382.00" width="7.85" height="2.00" fill="#06daf0"/>
<rect x="127.86" y="382.00" width="7.85" height="2.00" fill="#03cefc"/>
<rect x="134.71" y="382.00" width="7.85" height="2.00" fill="#03b9ff"/>
<rect x="141.56" y="382.00" width="7.85" height="2.00" fill="#03b6ff"/>
<rect x="148.41" y="382.00" width="7.85" height="2.00" fill="#06a2ff"/>
<rect x="155.26" y="382.00" width="7.85" height="2.00" fill="#069dff"/>
<rect x="162.11" y="382.00" width="6.85" height="2.00" fill="#069dff"/>
<rect x="100.46" y="383.00" width="7.85" height="2.00" fill="#0cbcf1"/>
<rect x="107.31" y="383.00" width="7.85" height="2.00" fill="#14d2cf"/>
<rect x="114.16" y="383.00" width="7.85" height="2.00" fill="#03eea0"/>
<rect x="121.01" y="383.00" width="7.85" height="2.00" fill="#06d5f0"/>
<rect x="127.86" y="383.00" width="7.85" height="2.00" fill="#03cafc"/>
<rect x="134.71" y="383.00" width="7.85" height="2.00" fill="#03b4ff"/>
<rect x="141.56" y="383.00" width="7.85" height="2.00" fill="#03b0ff"/>
<rect x="148.41" y="383.00" width="7.85" height="2.00" fill="#069dff"/>
<rect x="155.26" y="383.00" width="7.85" height="2.00" fill="#0698ff"/>
<rect x="162.11" y="383.00" width="6.85" height="2.00" fill="#0698ff"/>
<rect x="100.46" y="384.00" width="7.85" height="2.00" fill="#0fd2e6"/>
<rect x="107.31" y="384.00" width="7.85" height="2.00" fill="#06e4b6"/>
<rect x="114.16" y="384.00" width="7.85" height="2.00" fill="#03eea2"/>
<rect x="121.01" y="384.00" width="7.85" height="2.00" fill="#06d3f0"/>
<rect x="127.86" y="384.00" width="7.85" height="2.00" fill="#03c8fc"/>
<rect x="134.71" y="384.00" width="7.85" height="2.00" fill="#03b2ff"/>
<rect x="141.56" y="384.00" width="7.85" height="2.00" fill="#03afff"/>
<rect x="148.41" y="384.00" width="7.85" height="2.00" fill="#069cff"/>
<rect x="155.26" y="384.00" width="7.85" height="2.00" fill="#0696ff"/>
<rect x="162.11" y="384.00" width="6.85" height="2.00" fill="#0696ff"/>
<rect x="100.46" y="385.00" width="7.85" height="2.00" fill="#0fc8e6"/>
<rect x="107.31" y="385.00" width="7.85" height="2.00" fill="#06e4c5"/>
<rect x="114.16" y="385.00" width="7.85" height="2.00" fill="#03eeb1"/>
<rect x="121.01" y="385.00" width="7.85" height="2.00" fill="#06c3f0"/>
<rect x="127.86" y="385.00" width="7.85" height="2.00" fill="#03b8fc"/>
<rect x="134.71" y="385.00" width="7.85" height="2.00" fill="#03a2ff"/>
<rect x="141.56" y="385.00" width="7.85" height="2.00" fill="#039eff"/>
<rect x="148.41" y="385.00" width="7.85" height="2.00" fill="#068bff"/>
<rect x="155.26" y="385.00" width="7.85" height="2.00" fill="#0686ff"/>
<rect x="162.11" y="385.00" width="6.85" height="2.00" fill="#0686ff"/>
<rect x="100.46" y="386.00" width="7.85" height="2.00" fill="#0fcae6"/>
<rect x="107.31" y="386.00" width="7.85" height="2.00" fill="#06e4c1"/>
<rect x="114.16" y="386.00" width="7.85" height="2.00" fill="#03eeae"/>
<rect x="121.01" y="386.00" width="7.85" height="2.00" fill="#06c7f0"/>
<rect x="127.86" y="386.00" width="7.85" height="2.00" fill="#03bbfc"/>
<rect x="134.71" y="386.00" width="7.85" height="2.00" fill="#03a6ff"/>
<rect x="141.56" y="386.00" width="7.85" height="2.00" fill="#03a3ff"/>
<rect x="148.41" y="386.00" width="7.85" height="2.00" fill="#068fff"/>
<rect x="155.26" y="386.00" width="7.85" height="2.00" fill="#0689ff"/>
<rect x="162.11" y="386.00" width="6.85" height="2.00" fill="#0689ff"/>
<rect x="100.46" y="387.00" width="7.85" height="2.00" fill="#0fd4e6"/>
<rect x="107.31" y="387.00" width="7.85" height="2.00" fill="#06e4b3"/>
<rect x="114.16" y="387.00" width="7.85" height="2.00" fill="#03ee9f"/>
<rect x="121.01" y="387.00" width="7.85" height="2.00" fill="#06d6f0"/>
<rect x="127.86" y="387.00" width="7.85" height="2.00" fill="#03cbfc"/>
<rect x="134.71" y="387.00" width="7.85" height="2.00" fill="#03b5ff"/>
<rect x="141.56" y="387.00" width="7.85" height="2.00" fill="#03b2ff"/>
<rect x="148.41" y="387.00" width="7.85" height="2.00" fill="#0694ff"/>
<rect x="155.26" y="387.00" width="7.85" height="2.00" fill="#0691ff"/>
<rect x="162.11" y="387.00" width="6.85" height="2.00" fill="#0691ff"/>
<rect x="100.46" y="388.00" width="7.85" height="2.00" fill="#0fcae6"/>
<rect x="107.31" y="388.00" width="7.85" height="2.00" fill="#06e4c2"/>
<rect x="114.16" y="388.00" width="7.85" height="2.00" fill="#03eeae"/>
<rect x="121.01" y="388.00" width="7.85" height="2.00" fill="#06c6f0"/>
<rect x="127.86" y="388.00" width="7.85" height="2.00" fill="#03bbfc"/>
<rect x="134.71" y="388.00" width="7.85" height="2.00" fill="#03a5ff"/>
<rect x="141.56" y="388.00" width="7.85" height="2.00" fill="#03a1ff"/>
<rect x="148.41" y="388.00" width="7.85" height="2.00" fill="#068eff"/>
<rect x="155.26" y="388.00" width="7.85" height="2.00" fill="#0689ff"/>
<rect x="162.11" y="388.00" width="6.85" height="2.00" fill="#0689ff"/>
<rect x="100.46" y="389.00" width="7.85" height="2.00" fill="#0fd5e6"/>
<rect x="107.31" y="389.00" width="7.85" height="2.00" fill="#06e4b3"/>
<rect x="114.16" y="389.00" width="7.85" height="2.00" fill="#03ee9f"/>
<rect x="121.01" y="389.00" width="7.85" height="2.00" fill="#06d7f0"/>
<rect x="127.86" y="389.00" width="7.85" height="2.00" fill="#03cbfc"/>
<rect x="134.71" y="389.00" width="7.85" height="2.00" fill="#03b5ff"/>
<rect x="141.56" y="389.00" width="7.85" height="2.00" fill="#03b2ff"/>
<rect x="148.41" y="389.00" width="7.85" height="2.00" fill="#069fff"/>
<rect x="155.26" y="389.00" width="7.85" height="2.00" fill="#069aff"/>
<rect x="162.11" y="389.00" width="6.85" height="2.00" fill="#069aff"/>
<rect x="100.46" y="390.00" width="7.85" height="2.00" fill="#18cbd9"/>
<rect x="107.31" y="390.00" width="7.85" height="2.00" fill="#18d1c4"/>
<rect x="114.16" y="390.00" width="7.85" height="2.00" fill="#10dfb5"/>
<rect x="121.01" y="390.00" width="7.85" height="2.00" fill="#06cbf0"/>
<rect x="127.86" y="390.00" width="7.85" height="2.00" fill="#03bffc"/>
<rect x="134.71" y="390.00" width="7.85" height="2.00" fill="#03a9ff"/>
<rect x="141.56" y="390.00" width="7.85" height="2.00" fill="#03a6ff"/>
<rect x="148.41" y="390.00" width="7.85" height="2.00" fill="#0697ff"/>
<rect x="155.26" y="390.00" width="7.85" height="2.00" fill="#0694ff"/>
<rect x="162.11" y="390.00" width="6.85" height="2.00" fill="#0694ff"/>
<rect x="100.46" y="391.00" width="7.85" height="2.00" fill="#18cbd9"/>
<rect x="107.31" y="391.00" width="7.85" height="2.00" fill="#18d1c4"/>
<rect x="114.16" y="391.00" width="7.85" height="2.00" fill="#10dfb5"/>
<rect x="121.01" y="391.00" width="7.85" height="2.00" fill="#06d7f0"/>
<rect x="127.86" y="391.00" width="7.85" height="2.00" fill="#03cbfc"/>
<rect x="134.71" y="391.00" width="7.85" height="2.00" fill="#03b6ff"/>
<rect x="141.56" y="391.00" width="7.85" height="2.00" fill="#03b3ff"/>
<rect x="148.41" y="391.00" width="7.85" height="2.00" fill="#0697ff"/>
<rect x="155.26" y="391.00" width="7.85" height="2.00" fill="#0694ff"/>
<rect x="162.11" y="391.00" width="6.85" height="2.00" fill="#0694ff"/>
<rect x="100.46" y="392.00" width="7.85" height="2.00" fill="#18cbd9"/>
<rect x="107.31" y="392.00" width="7.85" height="2.00" fill="#18d1c4"/>
<rect x="114.16" y="392.00" width="7.85" height="2.00" fill="#10dfb5"/>
<rect x="121.01" y="392.00" width="7.85" height="2.00" fill="#06daf0"/>
<rect x="127.86" y="392.00" width="7.85" height="2.00" fill="#03cffc"/>
<rect x="134.71" y="392.00" width="7.85" height="2.00" fill="#03b9ff"/>
<rect x="141.56" y="392.00" width="7.85" height="2.00" fill="#03b6ff"/>
<rect x="148.41" y="392.00" width="7.85" height="2.00" fill="#0697ff"/>
<rect x="155.26" y="392.00" width="7.85" height="2.00" fill="#0694ff"/>
<rect x="162.11" y="392.00" width="6.85" height="2.00" fill="#0694ff"/>
<rect x="100.46" y="393.00" width="7.85" height="2.00" fill="#18cbd9"/>
<rect x="107.31" y="393.00" width="7.85" height="2.00" fill="#18d1c4"/>
<rect x="114.16" y="393.00" width="7.85" height="2.00" fill="#10dfb5"/>
<rect x="121.01" y="393.00" width="7.85" height="2.00" fill="#06c5f0"/>
<rect x="127.86" y="393.00" width="7.85" height="2.00" fill="#03b9fc"/>
<rect x="134.71" y="393.00" width="7.85" height="2.00" fill="#03a3ff"/>
<rect x="141.56" y="393.00" width="7.85" height="2.00" fill="#03a0ff"/>
<rect x="148.41" y="393.00" width="7.85" height="2.00" fill="#0697ff"/>
<rect x="155.26" y="393.00" width="7.85" height="2.00" fill="#0694ff"/>
<rect x="162.11" y="393.00" width="6.85" height="2.00" fill="#0694ff"/>
<rect x="100.46" y="394.00" width="7.85" height="2.00" fill="#0fd3e6"/>
<rect x="107.31" y="394.00" width="7.85" height="2.00" fill="#06e4b4"/>
<rect x="114.16" y="394.00" width="7.85" height="2.00" fill="#03eea0"/>
<rect x="121.01" y="394.00" width="7.85" height="2.00" fill="#06d5f0"/>
<rect x="127.86" y="394.00" width="7.85" height="2.00" fill="#03cafc"/>
<rect x="134.71" y="394.00" width="7.85" height="2.00" fill="#03b4ff"/>
<rect x="141.56" y="394.00" width="7.85" height="2.00" fill="#03b0ff"/>
<rect x="148.41" y="394.00" width="7.85" height="2.00" fill="#069dff"/>
<rect x="155.26" y="394.00" width="7.85" height="2.00" fill="#0698ff"/>
<rect x="162.11" y="394.00" width="6.85" height="2.00" fill="#0698ff"/>
<rect x="100.46" y="395.00" width="7.85" height="2.00" fill="#0fd3e6"/>
<rect x="107.31" y="395.00" width="7.85" height="2.00" fill="#06e4b5"/>
<rect x="114.16" y="395.00" width="7.85" height="2.00" fill="#03eea0"/>
<rect x="121.01" y="395.00" width="7.85" height="2.00" fill="#06d5f0"/>
<rect x="127.86" y="395.00" width="7.85" height="2.00" fill="#03cafc"/>
<rect x="134.71" y="395.00" width="7.85" height="2.00" fill="#03b4ff"/>
<rect x="141.56" y="395.00" width="7.85" height="2.00" fill="#03b0ff"/>
<rect x="148.41" y="395.00" width="7.85" height="2.00" fill="#069dff"/>
<rect x="155.26" y="395.00" width="7.85" height="2.00" fill="#0698ff"/>
<rect x="162.11" y="395.00" width="6.85" height="2.00" fill="#0698ff"/>
<rect x="100.46" y="396.00" width="7.85" height="2.00" fill="#0fc7e6"/>
<rect x="107.31" y="396.00" width="7.85" height="2.00" fill="#06e4c6"/>
<rect x="114.16" y="396.00" width="7.85" height="2.00" fill="#03eeb3"/>
<rect x="121.01" y="396.00" width="7.85" height="2.00" fill="#06c2f0"/>
<rect x="127.86" y="396.00" width="7.85" height="2.00" fill="#03b6fc"/>
<rect x="134.71" y="396.00" width="7.85" height="2.00" fill="#03a0ff"/>
<rect x="141.56" y="396.00" width="7.85" height="2.00" fill="#039dff"/>
<rect x="148.41" y="396.00" width="7.85" height="2.00" fill="#0697ff"/>
<rect x="155.26" y="396.00" width="7.85" height="2.00" fill="#0694ff"/>
<rect x="162.11" y="396.00" width="6.85" height="2.00" fill="#0694ff"/>
<rect x="100.46" y="397.00" width="7.85" height="2.00" fill="#0fc9e6"/>
<rect x="107.31" y="397.00" width="7.85" height="2.00" fill="#06e4c4"/>
<rect x="114.16" y="397.00" width="7.85" height="2.00" fill="#03eeb1"/>
<rect x="121.01" y="397.00" width="7.85" height="2.00" fill="#06c5f0"/>
<rect x="127.86" y="397.00" width="7.85" height="2.00" fill="#03b9fc"/>
<rect x="134.71" y="397.00" width="7.85" height="2.00" fill="#03a3ff"/>
<rect x="141.56" y="397.00" width="7.85" height="2.00" fill="#03a0ff"/>
<rect x="148.41" y="397.00" width="7.85" height="2.00" fill="#068dff"/>
<rect x="155.26" y="397.00" width="7.85" height="2.00" fill="#0687ff"/>
<rect x="162.11" y="397.00" width="6.85" height="2.00" fill="#0687ff"/>
<rect x="100.46" y="398.00" width="7.85" height="2.00" fill="#0fd2e6"/>
<rect x="107.31" y="398.00" width="7.85" height="2.00" fill="#06e4b6"/>
<rect x="114.16" y="398.00" width="7.85" height="2.00" fill="#03eea2"/>
<rect x="121.01" y="398.00" width="7.85" height="2.00" fill="#06d3f0"/>
<rect x="127.86" y="398.00" width="7.85" height="2.00" fill="#03c7fc"/>
<rect x="134.71" y="398.00" width="7.85" height="2.00" fill="#03b2ff"/>
<rect x="141.56" y="398.00" width="7.85" height="2.00" fill="#03afff"/>
<rect x="148.41" y="398.00" width="7.85" height="2.00" fill="#069cff"/>
<rect x="155.26" y="398.00" width="7.85" height="2.00" fill="#0695ff"/>
<rect x="162.11" y="398.00" width="6.85" height="2.00" fill="#0695ff"/>
<rect x="100.46" y="399.00" width="7.85" height="2.00" fill="#0fc7e6"/>
<rect x="107.31" y="399.00" width="7.85" height="2.00" fill="#06e4c5"/>
<rect x="114.16" y="399.00" width="7.85" height="2.00" fill="#03eeb2"/>
<rect x="121.01" y="399.00" width="7.85" height="2.00" fill="#06c2f0"/>
<rect x="127.86" y="399.00" width="7.85" height="2.00" fill="#03b6fc"/>
<rect x="134.71" y="399.00" width="7.85" height="2.00" fill="#03a0ff"/>
<rect x="141.56" y="399.00" width="7.85" height="2.00" fill="#039dff"/>
<rect x="148.41" y="399.00" width="7.85" height="2.00" fill="#068aff"/>
<rect x="155.26" y="399.00" width="7.85" height="2.00" fill="#0685ff"/>
<rect x="162.11" y="399.00" width="6.85" height="2.00" fill="#0685ff"/>
<rect x="100.46" y="400.00" width="7.85" height="2.00" fill="#0fcee6"/>
<rect x="107.31" y="400.00" width="7.85" height="2.00" fill="#06e4bc"/>
<rect x="114.16" y="400.00" width="7.85" height="2.00" fill="#03eea8"/>
<rect x="121.01" y="400.00" width="7.85" height="2.00" fill="#06ccf0"/>
<rect x="127.86" y="400.00" width="7.85" height="2.00" fill="#03c1fc"/>
<rect x="134.71" y="400.00" width="7.85" height="2.00" fill="#03abff"/>
<rect x="141.56" y="400.00" width="7.85" height="2.00" fill="#03a8ff"/>
<rect x="148.41" y="400.00" width="7.85" height="2.00" fill="#0695ff"/>
<rect x="155.26" y="400.00" width="7.85" height="2.00" fill="#068fff"/>
<rect x="162.11" y="400.00" width="6.85" height="2.00" fill="#068fff"/>
<rect x="100.46" y="401.00" width="7.85" height="2.00" fill="#0fcce6"/>
<rect x="107.31" y="401.00" width="7.85" height="2.00" fill="#06e4bf"/>
<rect x="114.16" y="401.00" width="7.85" height="2.00" fill="#03eeac"/>
<rect x="121.01" y="401.00" width="7.85" height="2.00" fill="#06c9f0"/>
<rect x="127.86" y="401.00" width="7.85" height="2.00" fill="#03befc"/>
<rect x="134.71" y="401.00" width="7.85" height="2.00" fill="#03a8ff"/>
<rect x="141.56" y="401.00" width="7.85" height="2.00" fill="#03a4ff"/>
<rect x="148.41" y="401.00" width="7.85" height="2.00" fill="#0691ff"/>
<rect x="155.26" y="401.00" width="7.85" height="2.00" fill="#068cff"/>
<rect x="162.11" y="401.00" width="6.85" height="2.00" fill="#068cff"/>
<rect x="100.46" y="402.00" width="7.85" height="2.00" fill="#0cb2f1"/>
<rect x="107.31" y="402.00" width="7.85" height="2.00" fill="#06c5e6"/>
<rect x="114.16" y="402.00" width="7.85" height="2.00" fill="#03e7d0"/>
<rect x="121.01" y="402.00" width="7.85" height="2.00" fill="#06b7f6"/>
<rect x="127.86" y="402.00" width="7.85" height="2.00" fill="#03b0fc"/>
<rect x="134.71" y="402.00" width="7.85" height="2.00" fill="#03a7ff"/>
<rect x="141.56" y="402.00" width="7.85" height="2.00" fill="#03a4ff"/>
<rect x="148.41" y="402.00" width="7.85" height="2.00" fill="#069aff"/>
<rect x="155.26" y="402.00" width="7.85" height="2.00" fill="#0697ff"/>
<rect x="162.11" y="402.00" width="6.85" height="2.00" fill="#0697ff"/>
<rect x="100.46" y="403.00" width="7.85" height="2.00" fill="#0cb2f1"/>
<rect x="107.31" y="403.00" width="7.85" height="2.00" fill="#06c5e6"/>
<rect x="114.16" y="403.00" width="7.85" height="2.00" fill="#03e7d0"/>
<rect x="121.01" y="403.00" width="7.85" height="2.00" fill="#06b7f6"/>
<rect x="127.86" y="403.00" width="7.85" height="2.00" fill="#03b0fc"/>
<rect x="134.71" y="403.00" width="7.85" height="2.00" fill="#03a7ff"/>
<rect x="141.56" y="403.00" width="7.85" height="2.00" fill="#03a4ff"/>
<rect x="148.41" y="403.00" width="7.85" height="2.00" fill="#069aff"/>
<rect x="155.26" y="403.00" width="7.85" height="2.00" fill="#0697ff"/>
<rect x="162.11" y="403.00" width="6.85" height="2.00" fill="#0697ff"/>
<rect x="100.46" y="404.00" width="7.85" height="2.00" fill="#0fcce6"/>
<rect x="107.31" y="404.00" width="7.85" height="2.00" fill="#06e4bf"/>
<rect x="114.16" y="404.00" width="7.85" height="2.00" fill="#03eeac"/>
<rect x="121.01" y="404.00" width="7.85" height="2.00" fill="#06c9f0"/>
<rect x="127.86" y="404.00" width="7.85" height="2.00" fill="#03bdfc"/>
<rect x="134.71" y="404.00" width="7.85" height="2.00" fill="#03a8ff"/>
<rect x="141.56" y="404.00" width="7.85" height="2.00" fill="#03a4ff"/>
<rect x="148.41" y="404.00" width="7.85" height="2.00" fill="#0691ff"/>
<rect x="155.26" y="404.00" width="7.85" height="2.00" fill="#068bff"/>
<rect x="162.11" y="404.00" width="6.85" height="2.00" fill="#068bff"/>
<rect x="100.46" y="405.00" width="7.85" height="2.00" fill="#0fc7e6"/>
<rect x="107.31" y="405.00" width="7.85" height="2.00" fill="#06e4c5"/>
<rect x="114.16" y="405.00" width="7.85" height="2.00" fill="#03eeb2"/>
<rect x="121.01" y="405.00" width="7.85" height="2.00" fill="#06c2f0"/>
<rect x="127.86" y="405.00" width="7.85" height="2.00" fill="#03b6fc"/>
<rect x="134.71" y="405.00" width="7.85" height="2.00" fill="#03a0ff"/>
<rect x="141.56" y="405.00" width="7.85" height="2.00" fill="#039dff"/>
<rect x="148.41" y="405.00" width="7.85" height="2.00" fill="#0691ff"/>
<rect x="155.26" y="405.00" width="7.85" height="2.00" fill="#068eff"/>
<rect x="162.11" y="405.00" width="6.85" height="2.00" fill="#068eff"/>
<rect x="100.46" y="406.00" width="7.85" height="2.00" fill="#0fc9e6"/>
<rect x="107.31" y="406.00" width="7.85" height="2.00" fill="#06e4c4"/>
<rect x="114.16" y="406.00" width="7.85" height="2.00" fill="#03eeb1"/>
<rect x="121.01" y="406.00" width="7.85" height="2.00" fill="#06c4f0"/>
<rect x="127.86" y="406.00" width="7.85" height="2.00" fill="#03b8fc"/>
<rect x="134.71" y="406.00" width="7.85" height="2.00" fill="#03a2ff"/>
<rect x="141.56" y="406.00" width="7.85" height="2.00" fill="#039fff"/>
<rect x="148.41" y="406.00" width="7.85" height="2.00" fill="#0691ff"/>
<rect x="155.26" y="406.00" width="7.85" height="2.00" fill="#068eff"/>
<rect x="162.11" y="406.00" width="6.85" height="2.00" fill="#068eff"/>
<rect x="100.46" y="407.00" width="7.85" height="2.00" fill="#0fd2e6"/>
<rect x="107.31" y="407.00" width="7.85" height="2.00" fill="#06e4b6"/>
<rect x="114.16" y="407.00" width="7.85" height="2.00" fill="#03eea2"/>
<rect x="121.01" y="407.00" width="7.85" height="2.00" fill="#06d2f0"/>
<rect x="127.86" y="407.00" width="7.85" height="2.00" fill="#03c7fc"/>
<rect x="134.71" y="407.00" width="7.85" height="2.00" fill="#03b2ff"/>
<rect x="141.56" y="407.00" width="7.85" height="2.00" fill="#03afff"/>
<rect x="148.41" y="407.00" width="7.85" height="2.00" fill="#069bff"/>
<rect x="155.26" y="407.00" width="7.85" height="2.00" fill="#0695ff"/>
<rect x="162.11" y="407.00" width="6.85" height="2.00" fill="#0695ff"/>
<rect x="100.46" y="408.00" width="7.85" height="2.00" fill="#0fd0e6"/>
<rect x="107.31" y="408.00" width="7.85" height="2.00" fill="#06e4b8"/>
<rect x="114.16" y="408.00" width="7.85" height="2.00" fill="#03eea4"/>
<rect x="121.01" y="408.00" width="7.85" height="2.00" fill="#06d1f0"/>
<rect x="127.86" y="408.00" width="7.85" height="2.00" fill="#03c5fc"/>
<rect x="134.71" y="408.00" width="7.85" height="2.00" fill="#03b0ff"/>
<rect x="141.56" y="408.00" width="7.85" height="2.00" fill="#03adff"/>
<rect x="148.41" y="408.00" width="7.85" height="2.00" fill="#069aff"/>
<rect x="155.26" y="408.00" width="7.85" height="2.00" fill="#0694ff"/>
<rect x="162.11" y="408.00" width="6.85" height="2.00" fill="#0694ff"/>
<rect x="100.46" y="409.00" width="7.85" height="2.00" fill="#0fd4e6"/>
<rect x="107.31" y="409.00" width="7.85" height="2.00" fill="#06e4b3"/>
<rect x="114.16" y="409.00" width="7.85" height="2.00" fill="#03ee9f"/>
<rect x="121.01" y="409.00" width="7.85" height="2.00" fill="#06adf6"/>
<rect x="127.86" y="409.00" width="7.85" height="2.00" fill="#03a7fc"/>
<rect x="134.71" y="409.00" width="7.85" height="2.00" fill="#03a0ff"/>
<rect x="141.56" y="409.00" width="7.85" height="2.00" fill="#039dff"/>
<rect x="148.41" y="409.00" width="7.85" height="2.00" fill="#0694ff"/>
<rect x="155.26" y="409.00" width="7.85" height="2.00" fill="#0691ff"/>
<rect x="162.11" y="409.00" width="6.85" height="2.00" fill="#0691ff"/>
<rect x="100.46" y="410.00" width="7.85" height="2.00" fill="#0fd4e6"/>
<rect x="107.31" y="410.00" width="7.85" height="2.00" fill="#06e4b3"/>
<rect x="114.16" y="410.00" width="7.85" height="2.00" fill="#03ee9f"/>
<rect x="121.01" y="410.00" width="7.85" height="2.00" fill="#06adf6"/>
<rect x="127.86" y="410.00" width="7.85" height="2.00" fill="#03a7fc"/>
<rect x="134.71" y="410.00" width="7.85" height="2.00" fill="#03a0ff"/>
<rect x="141.56" y="410.00" width="7.85" height="2.00" fill="#039dff"/>
<rect x="148.41" y="410.00" width="7.85" height="2.00" fill="#0694ff"/>
<rect x="155.26" y="410.00" width="7.85" height="2.00" fill="#0691ff"/>
<rect x="162.11" y="410.00" width="6.85" height="2.00" fill="#0691ff"/>
<rect x="100.46" y="411.00" width="7.85" height="2.00" fill="#0fd5e6"/>
<rect x="107.31" y="411.00" width="7.85" height="2.00" fill="#06e4b1"/>
<rect x="114.16" y="411.00" width="7.85" height="2.00" fill="#03ee9d"/>
<rect x="121.01" y="411.00" width="7.85" height="2.00" fill="#06d8f0"/>
<rect x="127.86" y="411.00" width="7.85" height="2.00" fill="#03cdfc"/>
<rect x="134.71" y="411.00" width="7.85" height="2.00" fill="#03b7ff"/>
<rect x="141.56" y="411.00" width="7.85" height="2.00" fill="#03b4ff"/>
<rect x="148.41" y="411.00" width="7.85" height="2.00" fill="#06a1ff"/>
<rect x="155.26" y="411.00" width="7.85" height="2.00" fill="#069bff"/>
<rect x="162.11" y="411.00" width="6.85" height="2.00" fill="#069bff"/>
<rect x="100.46" y="412.00" width="7.85" height="2.00" fill="#0fd2e6"/>
<rect x="107.31" y="412.00" width="7.85" height="2.00" fill="#06e4b6"/>
<rect x="114.16" y="412.00" width="7.85" height="2.00" fill="#03eea2"/>
<rect x="121.01" y="412.00" width="7.85" height="2.00" fill="#06d2f0"/>
<rect x="127.86" y="412.00" width="7.85" height="2.00" fill="#03c7fc"/>
<rect x="134.71" y="412.00" width="7.85" height="2.00" fill="#03b1ff"/>
<rect x="141.56" y="412.00" width="7.85" height="2.00" fill="#03aeff"/>
<rect x="148.41" y="412.00" width="7.85" height="2.00" fill="#069bff"/>
<rect x="155.26" y="412.00" width="7.85" height="2.00" fill="#0695ff"/>
<rect x="162.11" y="412.00" width="6.85" height="2.00" fill="#0695ff"/>
<rect x="100.46" y="413.00" width="7.85" height="2.00" fill="#0fcde6"/>
<rect x="107.31" y="413.00" width="7.85" height="2.00" fill="#06e4be"/>
<rect x="114.16" y="413.00" width="7.85" height="2.00" fill="#03eeaa"/>
<rect x="121.01" y="413.00" width="7.85" height="2.00" fill="#06cbf0"/>
<rect x="127.86" y="413.00" width="7.85" height="2.00" fill="#03bffc"/>
<rect x="134.71" y="413.00" width="7.85" height="2.00" fill="#03aaff"/>
<rect x="141.56" y="413.00" width="7.85" height="2.00" fill="#03a7ff"/>
<rect x="148.41" y="413.00" width="7.85" height="2.00" fill="#0693ff"/>
<rect x="155.26" y="413.00" width="7.85" height="2.00" fill="#068eff"/>
<rect x="162.11" y="413.00" width="6.85" height="2.00" fill="#068eff"/>
<rect x="100.46" y="414.00" width="7.85" height="2.00" fill="#0fd7e6"/>
<rect x="107.31" y="414.00" width="7.85" height="2.00" fill="#06e4b0"/>
<rect x="114.16" y="414.00" width="7.85" height="2.00" fill="#03ee9b"/>
<rect x="121.01" y="414.00" width="7.85" height="2.00" fill="#06daf0"/>
<rect x="127.86" y="414.00" width="7.85" height="2.00" fill="#03cffc"/>
<rect x="134.71" y="414.00" width="7.85" height="2.00" fill="#03a0ff"/>
<rect x="141.56" y="414.00" width="7.85" height="2.00" fill="#039dff"/>
<rect x="148.41" y="414.00" width="7.85" height="2.00" fill="#0697ff"/>
<rect x="155.26" y="414.00" width="7.85" height="2.00" fill="#0694ff"/>
<rect x="162.11" y="414.00" width="6.85" height="2.00" fill="#0694ff"/>
<rect x="100.46" y="415.00" width="7.85" height="2.00" fill="#0fcce6"/>
<rect x="107.31" y="415.00" width="7.85" height="2.00" fill="#06e4bf"/>
<rect x="114.16" y="415.00" width="7.85" height="2.00" fill="#03eeac"/>
<rect x="121.01" y="415.00" width="7.85" height="2.00" fill="#06c9f0"/>
<rect x="127.86" y="415.00" width="7.85" height="2.00" fill="#03befc"/>
<rect x="134.71" y="415.00" width="7.85" height="2.00" fill="#03a0ff"/>
<rect x="141.56" y="415.00" width="7.85" height="2.00" fill="#039dff"/>
<rect x="148.41" y="415.00" width="7.85" height="2.00" fill="#0697ff"/>
<rect x="155.26" y="415.00" width="7.85" height="2.00" fill="#0694ff"/>
<rect x="162.11" y="415.00" width="6.85" height="2.00" fill="#0694ff"/>
<rect x="100.46" y="416.00" width="7.85" height="2.00" fill="#0fd1e6"/>
<rect x="107.31" y="416.00" width="7.85" height="2.00" fill="#06e4b7"/>
<rect x="114.16" y="416.00" width="7.85" height="2.00" fill="#03eea3"/>
<rect x="121.01" y="416.00" width="7.85" height="2.00" fill="#06d2f0"/>
<rect x="127.86" y="416.00" width="7.85" height="2.00" fill="#03c6fc"/>
<rect x="134.71" y="416.00" width="7.85" height="2.00" fill="#03b1ff"/>
<rect x="141.56" y="416.00" width="7.85" height="2.00" fill="#03adff"/>
<rect x="148.41" y="416.00" width="7.85" height="2.00" fill="#069aff"/>
<rect x="155.26" y="416.00" width="7.85" height="2.00" fill="#0694ff"/>
<rect x="162.11" y="416.00" width="6.85" height="2.00" fill="#0694ff"/>
<rect x="100.46" y="417.00" width="7.85" height="2.00" fill="#0cd7f1"/>
<rect x="107.31" y="417.00" width="7.85" height="2.00" fill="#06f3c2"/>
<rect x="114.16" y="417.00" width="7.85" height="2.00" fill="#03f6ac"/>
<rect x="121.01" y="417.00" width="7.85" height="2.00" fill="#06ddf6"/>
<rect x="127.86" y="417.00" width="7.85" height="2.00" fill="#03d1fc"/>
<rect x="134.71" y="417.00" width="7.85" height="2.00" fill="#03bbff"/>
<rect x="141.56" y="417.00" width="7.85" height="2.00" fill="#03b8ff"/>
<rect x="148.41" y="417.00" width="7.85" height="2.00" fill="#06aaff"/>
<rect x="155.26" y="417.00" width="7.85" height="2.00" fill="#06a7ff"/>
<rect x="162.11" y="417.00" width="6.85" height="2.00" fill="#06a7ff"/>
<rect x="100.46" y="418.00" width="7.85" height="2.00" fill="#0cd7f1"/>
<rect x="107.31" y="418.00" width="7.85" height="2.00" fill="#06f3c2"/>
<rect x="114.16" y="418.00" width="7.85" height="2.00" fill="#03f6ac"/>
<rect x="121.01" y="418.00" width="7.85" height="2.00" fill="#06ddf6"/>
<rect x="127.86" y="418.00" width="7.85" height="2.00" fill="#03d1fc"/>
<rect x="134.71" y="418.00" width="7.85" height="2.00" fill="#03bbff"/>
<rect x="141.56" y="418.00" width="7.85" height="2.00" fill="#03b8ff"/>
<rect x="148.41" y="418.00" width="7.85" height="2.00" fill="#06aaff"/>
<rect x="155.26" y="418.00" width="7.85" height="2.00" fill="#06a7ff"/>
<rect x="162.11" y="418.00" width="6.85" height="2.00" fill="#06a7ff"/>
<rect x="100.46" y="419.00" width="7.85" height="1.35" fill="#0cd7f1"/>
<rect x="107.31" y="419.00" width="7.85" height="1.35" fill="#06f3c2"/>
<rect x="114.16" y="419.00" width="7.85" height="1.35" fill="#03f6ac"/>
<rect x="121.01" y="419.00" width="7.85" height="1.35" fill="#06ddf6"/>
<rect x="127.86" y="419.00" width="7.85" height="1.35" fill="#03d1fc"/>
<rect x="134.71" y="419.00" width="7.85" height="1.35" fill="#03bbff"/>
<rect x="141.56" y="419.00" width="7.85" height="1.35" fill="#03b8ff"/>
<rect x="148.41" y="419.00" width="7.85" height="1.35" fill="#06aaff"/>
<rect x="155.26" y="419.00" width="7.85" height="1.35" fill="#06a7ff"/>
<rect x="162.11" y="419.00" width="6.85" height="1.35" fill="#06a7ff"/>
<rect x="100.46" y="420.00" width="7.85" height="0.35" fill="#0cd7f1"/>
<rect x="107.31" y="420.00" width="7.85" height="0.35" fill="#06f3c2"/>
<rect x="114.16" y="420.00" width="7.85" height="0.35" fill="#03f6ac"/>
<rect x="121.01" y="420.00" width="7.85" height="0.35" fill="#06ddf6"/>
<rect x="127.86" y="420.00" width="7.85" height="0.35" fill="#03d1fc"/>
<rect x="134.71" y="420.00" width="7.85" height="0.35" fill="#03bbff"/>
<rect x="141.56" y="420.00" width="7.85" height="0.35" fill="#03b8ff"/>
<rect x="148.41" y="420.00" width="7.85" height="0.35" fill="#06aaff"/>
<rect x="155.26" y="420.00" width="7.85" height="0.35" fill="#06a7ff"/>
<rect x="162.11" y="420.00" width="6.85" height="0.35" fill="#06a7ff"/>
<line x1="47.7" y1="290.8" x2="226.4" y2="290.8" stroke="#999" stroke-width="1.3" stroke-dasharray="1.1 4.18"/>
<line x1="230.9" y1="285.9" x2="409.6" y2="285.9" stroke="#999" stroke-width="1.3" stroke-dasharray="1.1 4.18"/>
<text class="g" x="48.5" y="286.3" font-size="13" fill="#a9a9a9">87.5</text>
<text class="g" x="231.6" y="282.3" font-size="13" fill="#a9a9a9">87.5</text>
<g clip-path="url(#cpL)"><g stroke="#000" stroke-opacity="0.26" fill="none" stroke-width="1.15"><circle cx="50.0" cy="19.3" r="3.25"/><path d="M50.0 4.6V34.2M47.0 4.6h6M47.0 34.2h6"/><circle cx="60.0" cy="22.9" r="3.25"/><path d="M60.0 11.1V34.6M57.0 11.1h6M57.0 34.6h6"/><circle cx="59.5" cy="43.0" r="3.25"/><path d="M59.5 30.8V55.9M56.5 30.8h6M56.5 55.9h6"/><circle cx="54.8" cy="72.5" r="3.25"/><path d="M54.8 57.4V87.2M51.8 57.4h6M51.8 87.2h6"/><circle cx="80.9" cy="14.8" r="3.25"/><path d="M80.9 -4.0V33.9M77.9 -4.0h6M77.9 33.9h6"/><circle cx="80.6" cy="17.8" r="3.25"/><path d="M80.6 1.0V34.7M77.6 1.0h6M77.6 34.7h6"/><circle cx="79.8" cy="20.1" r="3.25"/><path d="M79.8 6.2V34.0M76.8 6.2h6M76.8 34.0h6"/><circle cx="79.9" cy="30.4" r="3.25"/><path d="M79.9 17.4V43.4M76.9 17.4h6M76.9 43.4h6"/><circle cx="80.4" cy="54.7" r="3.25"/><path d="M80.4 43.4V66.0M77.4 43.4h6M77.4 66.0h6"/><circle cx="80.2" cy="66.0" r="3.25"/><path d="M80.2 44.0V87.7M77.2 44.0h6M77.2 87.7h6"/><circle cx="80.3" cy="69.9" r="3.25"/><path d="M80.3 47.8V90.3M77.3 47.8h6M77.3 90.3h6"/><circle cx="89.6" cy="5.9" r="3.25"/><path d="M89.6 -8.0V20.0M86.6 -8.0h6M86.6 20.0h6"/><circle cx="96.9" cy="62.5" r="3.25"/><path d="M96.9 44.3V80.8M93.9 44.3h6M93.9 80.8h6"/><circle cx="97.1" cy="63.4" r="3.25"/><path d="M97.1 47.6V79.5M94.1 47.6h6M94.1 79.5h6"/><circle cx="111.8" cy="58.5" r="3.25"/><path d="M111.8 39.9V77.5M108.8 39.9h6M108.8 77.5h6"/><circle cx="111.6" cy="79.0" r="3.25"/><path d="M111.6 66.0V92.0M108.6 66.0h6M108.6 92.0h6"/><circle cx="111.6" cy="91.6" r="3.25"/><path d="M111.6 78.0V105.0M108.6 78.0h6M108.6 105.0h6"/><circle cx="111.6" cy="102.3" r="3.25"/><path d="M111.6 88.0V116.5M108.6 88.0h6M108.6 116.5h6"/><circle cx="111.6" cy="117.3" r="3.25"/><path d="M111.6 104.0V130.8M108.6 104.0h6M108.6 130.8h6"/><circle cx="116.4" cy="93.5" r="3.25"/><path d="M116.4 79.0V108.0M113.4 79.0h6M113.4 108.0h6"/><circle cx="120.3" cy="81.6" r="3.25"/><path d="M120.3 70.6V92.4M117.3 70.6h6M117.3 92.4h6"/><circle cx="116.5" cy="144.3" r="3.25"/><path d="M116.5 128.2V160.0M113.5 128.2h6M113.5 160.0h6"/><circle cx="133.3" cy="33.0" r="3.25"/><path d="M133.3 18.2V47.4M130.3 18.2h6M130.3 47.4h6"/><circle cx="131.2" cy="56.1" r="3.25"/><path d="M131.2 39.6V72.6M128.2 39.6h6M128.2 72.6h6"/><circle cx="133.0" cy="79.0" r="3.25"/><path d="M133.0 67.7V92.6M130.0 67.7h6M130.0 92.6h6"/><circle cx="133.0" cy="87.4" r="3.25"/><path d="M133.0 72.6V101.8M130.0 72.6h6M130.0 101.8h6"/><circle cx="131.2" cy="90.5" r="3.25"/><path d="M131.2 77.0V104.2M128.2 77.0h6M128.2 104.2h6"/><circle cx="131.2" cy="100.7" r="3.25"/><path d="M131.2 86.8V114.3M128.2 86.8h6M128.2 114.3h6"/><circle cx="137.8" cy="91.7" r="3.25"/><path d="M137.8 72.6V110.3M134.8 72.6h6M134.8 110.3h6"/><circle cx="152.1" cy="55.0" r="3.25"/><path d="M152.1 41.1V68.6M149.1 41.1h6M149.1 68.6h6"/><circle cx="155.2" cy="95.2" r="3.25"/><path d="M155.2 81.3V109.0M152.2 81.3h6M152.2 109.0h6"/><circle cx="159.9" cy="46.3" r="3.25"/><path d="M159.9 32.5V59.9M156.9 32.5h6M156.9 59.9h6"/><circle cx="163.3" cy="52.6" r="3.25"/><path d="M163.3 40.8V65.1M160.3 40.8h6M160.3 65.1h6"/><circle cx="173.6" cy="54.2" r="3.25"/><path d="M173.6 41.6V66.5M170.6 41.6h6M170.6 66.5h6"/><circle cx="178.2" cy="27.8" r="3.25"/><path d="M178.2 12.1V43.4M175.2 12.1h6M175.2 43.4h6"/><circle cx="183.4" cy="32.6" r="3.25"/><path d="M183.4 20.5V45.1M180.4 20.5h6M180.4 45.1h6"/><circle cx="176.5" cy="121.5" r="3.25"/><path d="M176.5 107.3V135.4M173.5 107.3h6M173.5 135.4h6"/><circle cx="179.2" cy="145.5" r="3.25"/><path d="M179.2 131.3V160.0M176.2 131.3h6M176.2 160.0h6"/><circle cx="194.7" cy="109.0" r="3.25"/><path d="M194.7 94.3V122.9M191.7 94.3h6M191.7 122.9h6"/><circle cx="196.4" cy="106.1" r="3.25"/><path d="M196.4 91.7V120.8M193.4 91.7h6M193.4 120.8h6"/><circle cx="219.5" cy="90.8" r="3.25"/><path d="M219.5 78.7V102.6M216.5 78.7h6M216.5 102.6h6"/></g></g>
<g clip-path="url(#cpR)"><g stroke="#000" stroke-opacity="0.26" fill="none" stroke-width="1.15"><circle cx="233.0" cy="19.3" r="3.25"/><path d="M233.0 4.6V34.2M230.0 4.6h6M230.0 34.2h6"/><circle cx="243.0" cy="22.9" r="3.25"/><path d="M243.0 11.1V34.6M240.0 11.1h6M240.0 34.6h6"/><circle cx="242.5" cy="43.0" r="3.25"/><path d="M242.5 30.8V55.9M239.5 30.8h6M239.5 55.9h6"/><circle cx="237.8" cy="72.5" r="3.25"/><path d="M237.8 57.4V87.2M234.8 57.4h6M234.8 87.2h6"/><circle cx="263.9" cy="14.8" r="3.25"/><path d="M263.9 -4.0V33.9M260.9 -4.0h6M260.9 33.9h6"/><circle cx="263.6" cy="17.8" r="3.25"/><path d="M263.6 1.0V34.7M260.6 1.0h6M260.6 34.7h6"/><circle cx="262.8" cy="20.1" r="3.25"/><path d="M262.8 6.2V34.0M259.8 6.2h6M259.8 34.0h6"/><circle cx="262.9" cy="30.4" r="3.25"/><path d="M262.9 17.4V43.4M259.9 17.4h6M259.9 43.4h6"/><circle cx="263.4" cy="54.7" r="3.25"/><path d="M263.4 43.4V66.0M260.4 43.4h6M260.4 66.0h6"/><circle cx="263.2" cy="66.0" r="3.25"/><path d="M263.2 44.0V87.7M260.2 44.0h6M260.2 87.7h6"/><circle cx="263.3" cy="69.9" r="3.25"/><path d="M263.3 47.8V90.3M260.3 47.8h6M260.3 90.3h6"/><circle cx="272.6" cy="5.9" r="3.25"/><path d="M272.6 -8.0V20.0M269.6 -8.0h6M269.6 20.0h6"/><circle cx="279.9" cy="62.5" r="3.25"/><path d="M279.9 44.3V80.8M276.9 44.3h6M276.9 80.8h6"/><circle cx="280.1" cy="63.4" r="3.25"/><path d="M280.1 47.6V79.5M277.1 47.6h6M277.1 79.5h6"/><circle cx="294.8" cy="58.5" r="3.25"/><path d="M294.8 39.9V77.5M291.8 39.9h6M291.8 77.5h6"/><circle cx="294.6" cy="79.0" r="3.25"/><path d="M294.6 66.0V92.0M291.6 66.0h6M291.6 92.0h6"/><circle cx="294.6" cy="91.6" r="3.25"/><path d="M294.6 78.0V105.0M291.6 78.0h6M291.6 105.0h6"/><circle cx="294.6" cy="102.3" r="3.25"/><path d="M294.6 88.0V116.5M291.6 88.0h6M291.6 116.5h6"/><circle cx="294.6" cy="117.3" r="3.25"/><path d="M294.6 104.0V130.8M291.6 104.0h6M291.6 130.8h6"/><circle cx="299.4" cy="93.5" r="3.25"/><path d="M299.4 79.0V108.0M296.4 79.0h6M296.4 108.0h6"/><circle cx="303.3" cy="81.6" r="3.25"/><path d="M303.3 70.6V92.4M300.3 70.6h6M300.3 92.4h6"/><circle cx="299.5" cy="144.3" r="3.25"/><path d="M299.5 128.2V160.0M296.5 128.2h6M296.5 160.0h6"/><circle cx="316.3" cy="33.0" r="3.25"/><path d="M316.3 18.2V47.4M313.3 18.2h6M313.3 47.4h6"/><circle cx="314.2" cy="56.1" r="3.25"/><path d="M314.2 39.6V72.6M311.2 39.6h6M311.2 72.6h6"/><circle cx="316.0" cy="79.0" r="3.25"/><path d="M316.0 67.7V92.6M313.0 67.7h6M313.0 92.6h6"/><circle cx="316.0" cy="87.4" r="3.25"/><path d="M316.0 72.6V101.8M313.0 72.6h6M313.0 101.8h6"/><circle cx="314.2" cy="90.5" r="3.25"/><path d="M314.2 77.0V104.2M311.2 77.0h6M311.2 104.2h6"/><circle cx="314.2" cy="100.7" r="3.25"/><path d="M314.2 86.8V114.3M311.2 86.8h6M311.2 114.3h6"/><circle cx="320.8" cy="91.7" r="3.25"/><path d="M320.8 72.6V110.3M317.8 72.6h6M317.8 110.3h6"/><circle cx="335.1" cy="55.0" r="3.25"/><path d="M335.1 41.1V68.6M332.1 41.1h6M332.1 68.6h6"/><circle cx="338.2" cy="95.2" r="3.25"/><path d="M338.2 81.3V109.0M335.2 81.3h6M335.2 109.0h6"/><circle cx="342.9" cy="46.3" r="3.25"/><path d="M342.9 32.5V59.9M339.9 32.5h6M339.9 59.9h6"/><circle cx="346.3" cy="52.6" r="3.25"/><path d="M346.3 40.8V65.1M343.3 40.8h6M343.3 65.1h6"/><circle cx="356.6" cy="54.2" r="3.25"/><path d="M356.6 41.6V66.5M353.6 41.6h6M353.6 66.5h6"/><circle cx="361.2" cy="27.8" r="3.25"/><path d="M361.2 12.1V43.4M358.2 12.1h6M358.2 43.4h6"/><circle cx="366.4" cy="32.6" r="3.25"/><path d="M366.4 20.5V45.1M363.4 20.5h6M363.4 45.1h6"/><circle cx="359.5" cy="121.5" r="3.25"/><path d="M359.5 107.3V135.4M356.5 107.3h6M356.5 135.4h6"/><circle cx="362.2" cy="145.5" r="3.25"/><path d="M362.2 131.3V160.0M359.2 131.3h6M359.2 160.0h6"/><circle cx="377.7" cy="109.0" r="3.25"/><path d="M377.7 94.3V122.9M374.7 94.3h6M374.7 122.9h6"/><circle cx="379.4" cy="106.1" r="3.25"/><path d="M379.4 91.7V120.8M376.4 91.7h6M376.4 120.8h6"/><circle cx="402.5" cy="90.8" r="3.25"/><path d="M402.5 78.7V102.6M399.5 78.7h6M399.5 102.6h6"/></g></g>
<g stroke="#1a1a1a" stroke-width="1" fill="none">
<path d="M43.46 0.40H409.60M43.46 420.35H409.60"/>
<path d="M43.46 0V420.35M226.40 0V420.35M409.60 0V420.35"/>
<path d="M43.5 24.6h-5.5"/>
<path d="M43.5 65.6h-5.5"/>
<path d="M43.5 106.7h-5.5"/>
<path d="M43.5 147.7h-5.5"/>
<path d="M43.5 420.4v5.3"/>
<path d="M73.8 420.4v5.3"/>
<path d="M256.7 420.4v5.3"/>
<path d="M104.1 420.4v5.3"/>
<path d="M287.0 420.4v5.3"/>
<path d="M134.4 420.4v5.3"/>
<path d="M317.3 420.4v5.3"/>
<path d="M164.7 420.4v5.3"/>
<path d="M347.6 420.4v5.3"/>
<path d="M195.0 420.4v5.3"/>
<path d="M377.9 420.4v5.3"/>
<path d="M225.3 420.4v5.3"/>
<path d="M408.2 420.4v5.3"/>
<path d="M43.5 402.73h2.7"/>
<path d="M43.5 390.76h2.7"/>
<path d="M43.5 382.26h2.7"/>
<path d="M43.5 375.67h2.7"/>
<path d="M43.5 370.29h2.7"/>
<path d="M43.5 365.73h2.7"/>
<path d="M43.5 361.79h2.7"/>
<path d="M43.5 358.31h2.7"/>
<path d="M43.5 355.20h5.3"/>
<path d="M43.5 334.73h2.7"/>
<path d="M43.5 322.76h2.7"/>
<path d="M43.5 314.26h2.7"/>
<path d="M43.5 307.67h2.7"/>
<path d="M43.5 302.29h2.7"/>
<path d="M43.5 297.73h2.7"/>
<path d="M43.5 293.79h2.7"/>
<path d="M43.5 290.31h2.7"/>
<path d="M43.5 287.20h5.3"/>
<path d="M43.5 266.73h2.7"/>
<path d="M43.5 254.76h2.7"/>
<path d="M43.5 246.26h2.7"/>
<path d="M43.5 239.67h2.7"/>
<path d="M43.5 234.29h2.7"/>
<path d="M43.5 229.73h2.7"/>
<path d="M43.5 225.79h2.7"/>
<path d="M43.5 222.31h2.7"/>
<path d="M43.5 219.20h5.3"/>
<path d="M43.5 198.73h2.7"/>
<path d="M43.5 186.76h2.7"/>
<path d="M43.5 178.26h2.7"/>
<path d="M43.5 171.67h2.7"/>
<path d="M43.5 166.29h2.7"/>
<path d="M43.5 161.73h2.7"/>
<path d="M43.5 157.79h2.7"/>
<path d="M43.5 154.31h2.7"/>
<path d="M226.4 188.9h-5.3"/>
<path d="M226.4 227.7h-5.3"/>
<path d="M226.4 266.5h-5.3"/>
<path d="M226.4 305.3h-5.3"/>
<path d="M226.4 344.1h-5.3"/>
<path d="M226.4 382.9h-5.3"/>
<path d="M437.8 165.6h5.1"/>
<path d="M437.8 201.7h5.1"/>
<path d="M437.8 237.8h5.1"/>
<path d="M437.8 273.9h5.1"/>
<path d="M437.8 310.0h5.1"/>
<path d="M437.8 346.1h5.1"/>
<path d="M437.8 382.2h5.1"/>
</g>
<rect x="432.0" y="164.3" width="5.7" height="242.0" fill="url(#cb)" stroke="#222" stroke-width="0.55"/>
<text transform="translate(32.2 24.6) rotate(-90)" font-size="12.5" text-anchor="middle" fill="#000">5</text>
<text transform="translate(32.2 65.6) rotate(-90)" font-size="12.5" text-anchor="middle" fill="#000">0</text>
<text transform="translate(32.2 106.7) rotate(-90)" font-size="12.5" text-anchor="middle" fill="#000">−5</text>
<text transform="translate(36.0 151.2) rotate(-90)" font-size="13" text-anchor="middle" fill="#000">10<tspan font-size="9.3" dy="-7.0">4</tspan></text>
<text transform="translate(36.0 219.2) rotate(-90)" font-size="13" text-anchor="middle" fill="#000">10<tspan font-size="9.3" dy="-7.0">3</tspan></text>
<text transform="translate(36.0 287.2) rotate(-90)" font-size="13" text-anchor="middle" fill="#000">10<tspan font-size="9.3" dy="-7.0">2</tspan></text>
<text transform="translate(36.0 355.2) rotate(-90)" font-size="13" text-anchor="middle" fill="#000">10<tspan font-size="9.3" dy="-7.0">1</tspan></text>
<text transform="translate(215.2 188.9) rotate(-90)" font-size="12.5" text-anchor="middle" fill="#000">100</text>
<text transform="translate(215.2 227.7) rotate(-90)" font-size="12.5" text-anchor="middle" fill="#000">95</text>
<text transform="translate(215.2 266.5) rotate(-90)" font-size="12.5" text-anchor="middle" fill="#000">90</text>
<text transform="translate(215.2 305.3) rotate(-90)" font-size="12.5" text-anchor="middle" fill="#000">85</text>
<text transform="translate(215.2 344.1) rotate(-90)" font-size="12.5" text-anchor="middle" fill="#000">80</text>
<text transform="translate(215.2 382.9) rotate(-90)" font-size="12.5" text-anchor="middle" fill="#000">75</text>
<text transform="translate(10.2 75.3) rotate(-90)" font-size="13.1" text-anchor="middle" fill="#000">RV [m/s]</text>
<text transform="translate(10.2 285.6) rotate(-90)" font-size="12.8" text-anchor="middle" fill="#000">Period [day]</text>
<text x="43.5" y="438.8" font-size="12.5" text-anchor="middle" fill="#000">0</text>
<text x="73.8" y="438.8" font-size="12.5" text-anchor="middle" fill="#000">500</text>
<text x="134.4" y="438.8" font-size="12.5" text-anchor="middle" fill="#000">1500</text>
<text x="195.0" y="438.8" font-size="12.5" text-anchor="middle" fill="#000">2500</text>
<text x="256.8" y="438.8" font-size="12.5" text-anchor="middle" fill="#000">500</text>
<text x="317.4" y="438.8" font-size="12.5" text-anchor="middle" fill="#000">1500</text>
<text x="378.0" y="438.8" font-size="12.5" text-anchor="middle" fill="#000">2500</text>
<text x="224.7" y="459.6" font-size="13.75" text-anchor="middle" fill="#000">BJD−2455256.85192</text>
<text x="447.8" y="170.1" font-size="12.8" fill="#000">1.0</text>
<text x="447.8" y="206.2" font-size="12.8" fill="#000">0.8</text>
<text x="447.8" y="242.3" font-size="12.8" fill="#000">0.6</text>
<text x="447.8" y="278.4" font-size="12.8" fill="#000">0.4</text>
<text x="447.8" y="314.5" font-size="12.8" fill="#000">0.2</text>
<text x="447.8" y="350.6" font-size="12.8" fill="#000">0.0</text>
<text x="447.8" y="386.7" font-size="12.8" fill="#000">−0.2</text>
</svg>
</body></html>
